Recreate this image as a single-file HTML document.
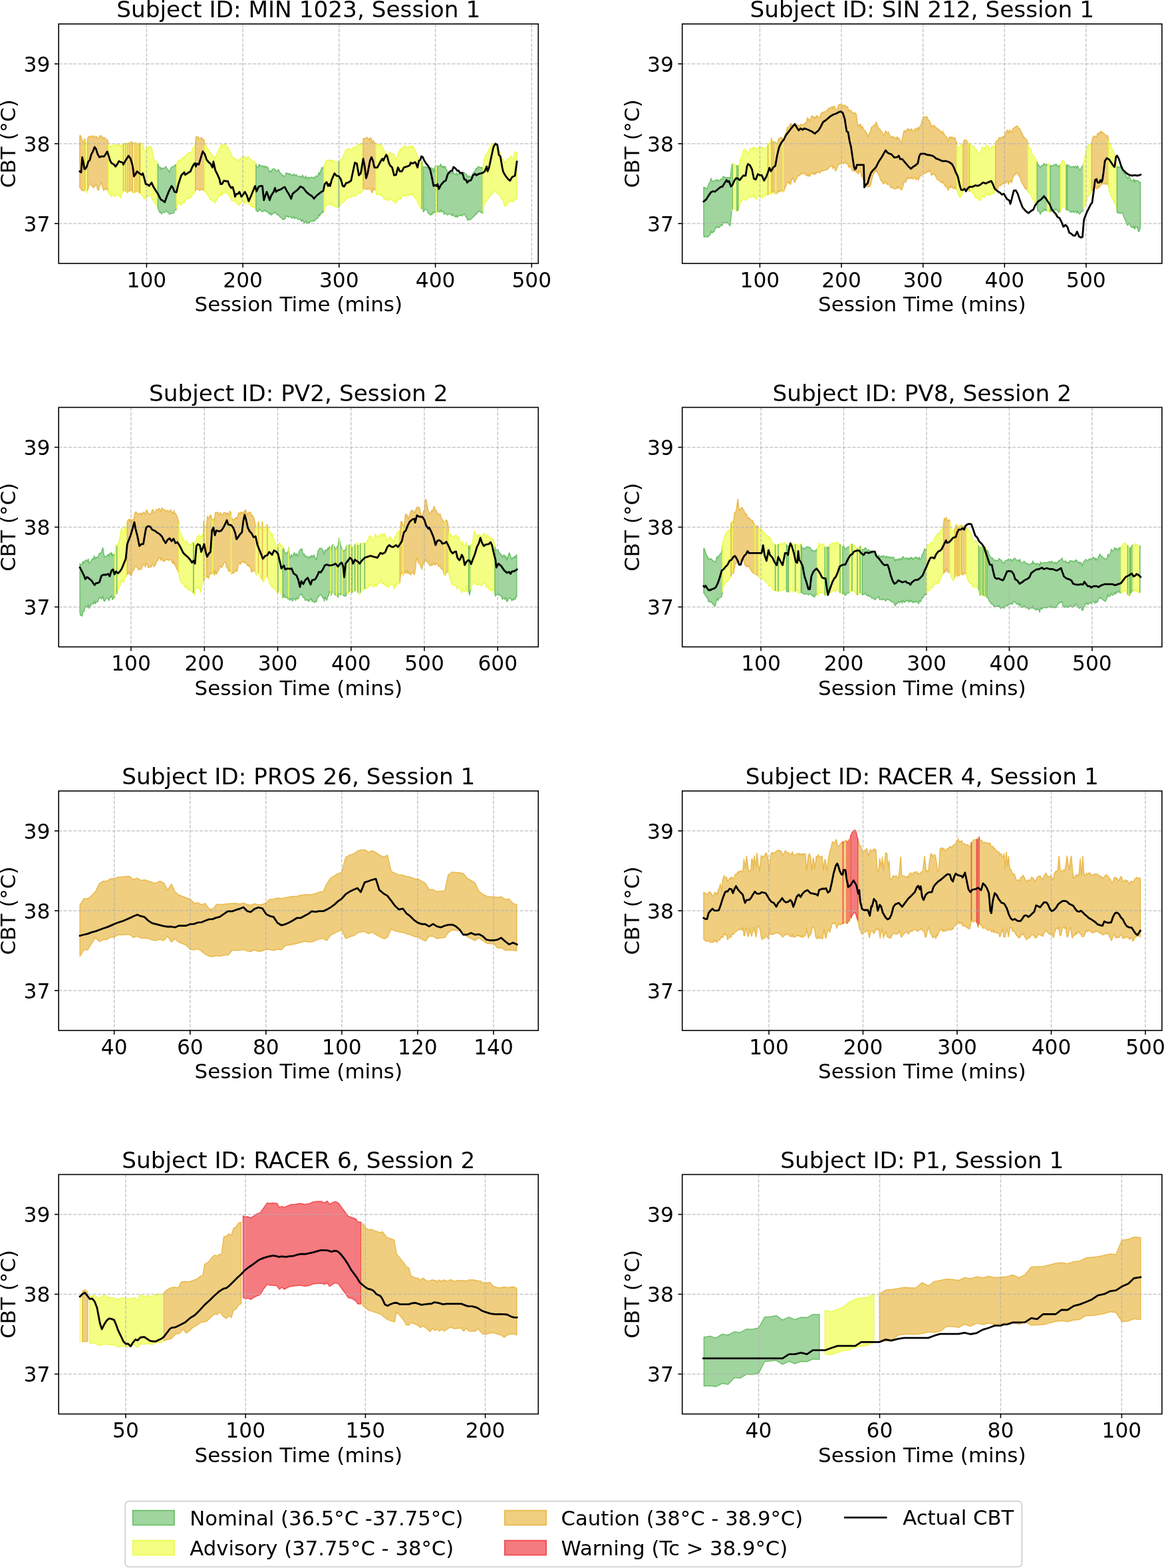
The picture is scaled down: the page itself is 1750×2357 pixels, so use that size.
<!DOCTYPE html><html><head><meta charset="utf-8"><style>html,body{margin:0;padding:0;background:#fff}svg{display:block}text{font-family:'DejaVu Sans', 'Liberation Sans', sans-serif;fill:#000}</style></head><body><svg width="1750" height="2357" viewBox="0 0 1750 2357"><rect width="1750" height="2357" fill="#fff"/><g><defs><clipPath id="cp0"><rect x="88.2" y="36.0" width="721.1" height="360.0"/></clipPath></defs><g clip-path="url(#cp0)"><path d="M119.9,204.9 L120.6,203.2 L121.9,206.5 L122.4,206.4 L123.2,210.8 L124.5,214.3 L125.8,212.5 L126.4,209.3 L126.8,209.7 L126.8,286.4 L125.8,287.1 L124.5,285.8 L123.2,286.5 L121.9,284.5 L120.6,281 L119.9,282.5Z" fill="#efce7f" stroke="#eab94c" stroke-width="1.5" stroke-linejoin="round"/><path d="M126.8,209.7 L127.1,209.9 L127.6,209.3 L128.4,216.9 L129.7,215.3 L130.5,216.6 L131,212.9 L131.7,209.6 L131.7,285.9 L131,287.9 L130.5,289.9 L129.7,287.4 L128.4,287 L127.6,285.5 L127.1,286.2 L126.8,286.4Z" fill="#f3fe83" stroke="#edfa52" stroke-width="1.5" stroke-linejoin="round"/><path d="M131.7,209.6 L132.3,206.6 L133.6,205.3 L134.9,206 L136.2,204.4 L137.5,205.7 L138.8,205.1 L139.3,204.2 L140.1,204.4 L141.4,204.4 L142.7,206.8 L144,205.5 L145.3,205.2 L146.6,209 L147.9,208.3 L149.2,205.5 L150.5,204.1 L151.8,204.7 L152.5,204.2 L153.1,205.7 L154.4,206.4 L155.7,208.1 L157,206.9 L158.3,208.3 L159.6,209.4 L160.9,209.5 L162.2,212.6 L162.7,214.4 L163,216.7 L163,289 L162.2,285.9 L160.9,283 L159.6,285 L158.3,284.8 L157,284.3 L155.7,286.4 L154.4,281.9 L153.1,277.2 L152.5,273.8 L151.8,275.7 L150.5,277.7 L149.2,281.6 L147.9,286.3 L146.6,284 L145.3,278.3 L144,276.7 L142.7,279.9 L141.4,280.6 L140.7,282.5 L140.1,281.1 L139.3,279.6 L138.8,280 L137.5,279.1 L136.2,276.3 L134.9,276.5 L133.6,279.3 L132.3,284 L131.7,285.9Z" fill="#efce7f" stroke="#eab94c" stroke-width="1.5" stroke-linejoin="round"/><path d="M163,216.7 L163.5,220.5 L164.8,220.6 L166.1,219.3 L167.4,221.4 L168.7,218.1 L170,218.7 L171.3,218.2 L172.6,218.4 L173.9,217.6 L175.2,217.7 L175.9,217.4 L176.5,216.9 L177.8,219.9 L179.1,216.9 L180.4,218.4 L181.7,221 L183,217.4 L184.3,220.2 L185.6,216.3 L186.9,216.6 L188.2,215.6 L189.5,215.3 L190.8,216 L192.1,216.1 L193.4,214.1 L194.7,216.4 L196,214.4 L196.4,214.4 L197.3,213.5 L198.6,213.7 L199.9,215 L201.2,215.5 L202.5,215.5 L203.8,213.7 L205.1,214.6 L206.4,216.8 L207.7,217.1 L209,217.6 L210.3,214.8 L211.1,216.6 L211.6,214.8 L212.9,218.3 L214.2,218.3 L215.5,218.8 L216.8,226 L218.1,226.8 L219.4,227.2 L220.7,222.3 L222,223.4 L223.3,220.3 L224.6,221.3 L225.9,220.7 L227.2,219.9 L228.5,224.8 L229.8,231.2 L231.1,238 L231.6,240.1 L232.4,240.9 L233.7,241.9 L235,242.3 L236.3,242.7 L236.7,244.5 L237.4,246.5 L237.4,312.5 L236.3,309.9 L235,308.1 L233.7,306.6 L232.4,304.6 L231.6,303.1 L231.1,302.7 L229.8,300.9 L228.5,298.8 L227.2,293.5 L225.9,293.9 L224.6,294.5 L223.3,293.3 L222,296.3 L220.7,295 L219.8,297.2 L219.4,298.1 L218.1,296.5 L216.8,299.5 L215.5,294.9 L214.2,294.1 L212.9,293.6 L211.6,289.7 L211.1,291.3 L210.3,288.5 L209,289.5 L208.1,286.9 L207.7,288 L206.4,288.5 L205.1,287.2 L203.8,287.1 L202.5,289.8 L201.2,290.7 L199.9,289.6 L198.6,287 L197.3,285.4 L196.4,285.5 L196,285.6 L194.7,288 L193.4,286.3 L192.1,288.8 L190.8,289.1 L189.5,287.7 L188.2,287.1 L186.9,287.1 L185.6,285.8 L184.3,290.1 L183,290.9 L181.7,297.9 L180.4,294.6 L179.1,292.4 L177.8,294.8 L176.5,291.2 L175.9,291.3 L175.2,292.6 L173.9,294 L172.6,295.7 L171.3,294.4 L170,293.7 L168.7,292.8 L167.4,295.8 L166.1,292.7 L164.8,292.8 L164.2,291.3 L163.5,290.8 L163,289Z" fill="#f3fe83" stroke="#edfa52" stroke-width="1.5" stroke-linejoin="round"/><path d="M194.2,215.5 L194.7,216.4 L196,214.4 L196.4,214.4 L197.3,213.5 L198.6,213.7 L199.3,214.5 L199.3,288.5 L198.6,287 L197.3,285.4 L196.4,285.5 L196,285.6 L194.7,288 L194.2,287.4Z" fill="#efce7f" stroke="#eab94c" stroke-width="1.5" stroke-linejoin="round"/><path d="M208.9,217.5 L209,217.6 L210.3,214.8 L210.6,215.6 L210.6,289.7 L210.3,288.5 L209,289.5 L208.9,289.1Z" fill="#efce7f" stroke="#eab94c" stroke-width="1.5" stroke-linejoin="round"/><path d="M237.4,246.5 L237.6,246.9 L238.9,250.4 L240.2,253.2 L241.5,251.4 L242.8,255.1 L243.3,253.2 L244.1,253.2 L245.4,252.8 L246.7,252.8 L248,252.4 L249.3,250.1 L250.6,252.5 L251.9,255.1 L253.2,255.7 L254.5,259.3 L255.8,255.9 L257.1,252.5 L257.9,251 L258.4,251.1 L259.7,250.6 L261,250.6 L262.3,248.9 L263.1,249.6 L263.6,247.8 L264.9,249.1 L265.5,246.8 L265.5,313.4 L264.9,315.3 L263.6,315.2 L262.3,317.3 L261,320.1 L259.7,320.4 L258.4,321 L257.1,320.8 L255.8,321.5 L255,322.1 L254.5,321.9 L253.2,318.5 L251.9,319.2 L250.6,317.8 L249.3,316.6 L248,319.1 L246.7,319.5 L245.4,319.5 L244.1,319.8 L243.3,319.9 L242.8,321.7 L241.5,317.9 L240.2,319.4 L238.9,316.5 L237.6,312.9 L237.4,312.5Z" fill="#a0d59e" stroke="#6cbf68" stroke-width="1.5" stroke-linejoin="round"/><path d="M265.5,246.8 L266.2,244.6 L266.7,243 L267.5,241.2 L268.8,241.5 L270.1,239.8 L271.4,242.6 L272.7,240.8 L274,237 L275.3,238.5 L276.6,235.7 L277.9,238.7 L279.2,233.2 L280.5,232.3 L281.8,232 L283.1,229.4 L284.4,231.2 L285.7,229.1 L287,229.2 L288.3,228.1 L288.7,226.9 L289.6,223.4 L290.9,221.4 L292.2,222 L293.5,216.8 L293.8,213.9 L293.8,286.5 L293.5,287.5 L292.2,291.1 L290.9,289.7 L289.6,291 L288.3,295.3 L287,297 L285.7,296.7 L284.4,298.8 L283.1,296.8 L281.8,299.1 L280.5,298.9 L279.2,299.4 L278.4,301.6 L277.9,304.8 L276.6,302.2 L275.3,305.6 L274,305.1 L272.7,307.9 L271.4,308.7 L270.1,304.9 L268.8,305.7 L268.2,306 L267.5,306.6 L266.2,311.5 L265.5,313.4Z" fill="#f3fe83" stroke="#edfa52" stroke-width="1.5" stroke-linejoin="round"/><path d="M293.8,213.9 L294.8,205.6 L296.1,206.9 L297.4,205.3 L298.7,207.2 L300,208.3 L301.3,208.4 L302.6,206.6 L303.3,208.6 L303.9,208.1 L305.2,210.6 L306.5,209.9 L307,210.8 L307.7,218.6 L307.7,288.3 L307,284.7 L306.5,284.3 L305.2,285.9 L303.9,284.3 L302.6,283.5 L301.3,285.9 L300.4,285.5 L300,286.3 L298.7,285.4 L297.4,283.3 L296.1,284.8 L294.8,283.4 L293.8,286.5Z" fill="#efce7f" stroke="#eab94c" stroke-width="1.5" stroke-linejoin="round"/><path d="M307.7,218.6 L307.8,219.2 L309.1,217.9 L310.4,219.9 L311.7,223.5 L313,224.7 L313.6,225.4 L314.3,225.9 L315.6,230.5 L316.9,229.3 L318.2,231.7 L319.5,233.1 L320.8,235 L322.1,236.6 L323.4,238.6 L324.7,233.1 L326,232.7 L326.8,229.8 L327.3,228.5 L328.6,226.1 L329.9,222.8 L331.2,223.1 L332.5,217.7 L333.8,222.4 L334.4,219.6 L335.1,217.4 L336.4,218.4 L337.7,218.5 L339,214.5 L340.3,219 L341.6,221.6 L342.9,221.4 L344.2,225.7 L345.5,226.6 L346.1,228.3 L346.8,229.5 L348.1,234.7 L349.4,235.8 L350.7,236.6 L352,238.1 L353.3,237.6 L354.6,239.3 L355.9,240.1 L357.2,241.3 L358.5,239.9 L359.3,241.5 L359.8,242.5 L361.1,239.2 L362.4,237.6 L363.7,236.4 L365,236.7 L366.3,233.8 L367.6,237.5 L368.9,236.6 L369.6,237.1 L370.2,238.1 L371.5,238.2 L372.8,234.7 L374.1,237.3 L375.4,237.6 L376.7,240.4 L378,239.5 L379.3,243.2 L380.6,243.1 L381.3,243 L381.9,242.2 L383.2,244.6 L384.5,243.9 L384.9,247.2 L384.9,314.5 L384.5,312 L383.2,312.5 L381.9,309.9 L380.6,310.9 L379.8,309.6 L379.3,311.3 L378,308 L376.7,309.3 L375.4,307.2 L374.1,305.6 L372.8,301.6 L371.5,304.8 L370.2,304.7 L369.6,303.8 L368.9,304.1 L367.6,306.6 L366.3,303.1 L365,302.7 L363.7,302.5 L362.4,303.9 L361.1,305.7 L359.8,309.1 L359.3,308.2 L358.5,306.3 L357.2,307.2 L355.9,305.5 L354.6,304.3 L353.3,302.3 L352,302.6 L350.7,301.7 L349.4,301.6 L348.1,301.6 L346.8,297.7 L346.1,297.2 L345.5,295.4 L344.2,294.6 L342.9,290.4 L341.6,291.3 L340.3,289.3 L339,285.5 L337.7,289.7 L336.4,289.8 L335.1,289 L334.4,291.3 L333.8,294.1 L332.5,289.1 L331.2,294.4 L329.9,293.8 L328.6,296.2 L327.3,297.6 L326,301 L324.7,300.6 L323.4,305.2 L322.1,302.8 L320.8,302.5 L319.5,301.9 L318.2,300.9 L316.9,298.8 L315.6,300.4 L315.1,297.2 L314.3,295.6 L313,294.3 L311.7,293 L310.4,289.4 L309.1,287.5 L307.8,288.5 L307.7,288.3Z" fill="#f3fe83" stroke="#edfa52" stroke-width="1.5" stroke-linejoin="round"/><path d="M384.9,247.2 L385.4,250.3 L385.8,250.3 L387.1,251.3 L388.4,251 L389.7,246.9 L391,249.3 L392.3,248.8 L393.6,250.1 L394.5,249.6 L394.9,249.3 L396.2,251 L397.5,249.4 L398.8,252.2 L400.1,250.2 L401.4,251 L402.7,251.6 L404,255.5 L405.3,258.2 L406.2,257.6 L406.6,256.4 L407.9,258.6 L409.2,255.1 L410.5,253.7 L411.8,254.1 L413.1,254.1 L414.4,256.3 L415,257.6 L415.7,257 L417,257.3 L418.3,254.8 L419.6,256.7 L420.9,259.6 L422.2,261.2 L423.5,261.7 L424.8,263.8 L426.1,263.8 L426.7,265 L427.4,265.8 L428.7,264.6 L430,259.8 L431.3,261.1 L432.6,260.4 L433.9,262.5 L435.2,260.8 L436.5,261.7 L437.8,263.9 L438.4,262.8 L439.1,264.2 L440.4,263.6 L441.7,261.2 L443,264.6 L444.3,262.6 L445.6,262.8 L446.9,264.3 L448.2,266 L449.5,265 L450.1,265 L450.8,264.8 L452.1,265.6 L453.4,267.1 L454.7,263.2 L456,265.1 L457.3,268.3 L458.6,266.7 L459.9,264.5 L461.2,268.7 L462.5,267.1 L463.3,267.9 L463.8,266.3 L465.1,268.4 L466.4,267 L467.7,266.7 L469,266.3 L470.3,267.7 L471.6,266.6 L472.1,266.4 L472.9,267.9 L474.2,265.8 L475.5,264.2 L476.8,265.2 L478.1,264.2 L479.4,259.3 L480.7,262.4 L482,256.9 L483.3,253.9 L483.8,251.8 L484.6,252.4 L485.9,253.4 L486.7,250.3 L487,250.8 L487,316.4 L486.7,315.5 L485.9,319.4 L485.3,317.7 L484.6,319.5 L483.3,320.6 L482,321.2 L480.7,324.7 L479.4,322 L478.1,327.3 L476.8,328.7 L475.5,328.3 L475,329.4 L474.2,330.3 L472.9,332.3 L471.6,331.2 L470.3,332.8 L469,331.8 L467.7,332.6 L466.4,333.4 L465.1,335.2 L463.8,333.5 L463.3,335.3 L462.5,334.5 L461.2,336.1 L459.9,331.9 L458.6,334.1 L457.3,335.4 L456,332 L454.7,329.9 L453.4,333.1 L452.1,330.9 L450.8,329.3 L449.5,329.2 L448.2,330.1 L446.9,328.4 L445.6,327.2 L444.3,327.2 L443,328.9 L441.7,325.3 L440.4,327.4 L439.9,326.5 L439.1,327.7 L437.8,327.4 L436.5,325.5 L435.2,324.8 L433.9,326.8 L432.6,324.8 L431.3,325.5 L430,324.2 L428.7,328.8 L427.4,330 L426.1,328.8 L425.2,330.2 L424.8,329.9 L423.5,327.5 L422.2,326.9 L420.9,326.3 L419.6,323.6 L418.3,322.1 L417,323.4 L415.7,321.2 L414.4,319.7 L413.5,319.9 L413.1,318.3 L411.8,320.1 L410.5,321.3 L409.2,321.8 L407.9,323.5 L406.6,319.6 L405.3,321.9 L404,320.9 L403.2,319.2 L402.7,318.7 L401.4,318.7 L400.1,316.6 L398.8,317.5 L397.5,315.5 L396.2,318 L394.9,317.2 L394.5,317.7 L393.6,317.9 L392.3,316.2 L391,316.3 L389.7,313.5 L388.4,317.7 L387.1,318 L385.8,317 L385.4,317 L384.9,314.5Z" fill="#a0d59e" stroke="#6cbf68" stroke-width="1.5" stroke-linejoin="round"/><path d="M487,250.8 L487.2,251 L488.5,245.8 L489.8,242.4 L491.1,241.1 L492.4,240.8 L493.7,241.5 L495,240.8 L496.3,240.2 L497.6,243.3 L498.5,241.5 L498.9,240.4 L500.2,243 L501.5,241.1 L502.8,243.2 L504.1,242.3 L505.4,244 L506.7,243.1 L507.3,244.5 L508,242.2 L509.3,244.2 L510.6,241.2 L511.9,239.6 L513.2,240.4 L514.5,238.4 L515.8,236.7 L517.1,231.9 L518.4,230.3 L519,226.9 L519.7,226 L521,226.1 L522.3,223.4 L523.6,224.6 L524.9,223.9 L526.2,224.1 L527.5,225 L528.8,225.3 L529.2,223.2 L530.1,222.3 L531.4,222 L532.7,222.9 L534,220.1 L535.3,220.7 L536.6,220.1 L537.9,218.6 L539.2,216.4 L540.5,217.8 L540.9,217.4 L541.8,218.7 L543.1,216.4 L544.4,215.4 L545.7,214.6 L546.1,211.4 L546.1,284.1 L545.7,286.8 L544.4,287.4 L543.1,288.6 L541.8,291 L540.9,289.9 L540.5,290.4 L539.2,289.2 L537.9,291.5 L536.6,293.1 L535.3,293.9 L534,292.9 L532.7,295.3 L531.4,293.9 L530.1,293.7 L529.2,294.3 L528.8,296.5 L527.5,296.7 L526.2,296.2 L524.9,296.5 L523.6,297.8 L522.3,296.6 L521,299.4 L519.7,299.2 L519,300.1 L518.4,302.5 L517.1,302 L515.8,304.6 L514.5,304.4 L513.2,307 L511.9,306.9 L510.6,308.6 L509.3,311.8 L508.7,312.6 L508,310 L506.7,310.7 L505.4,311.5 L504.1,309.8 L502.8,310.5 L501.5,307.9 L500.2,309.3 L498.9,306.1 L497.6,308.3 L497,306 L496.3,305.2 L495,306.3 L493.7,307.7 L492.4,307.5 L491.1,308 L489.8,309.6 L488.5,313.2 L487.2,316.8 L487,316.4Z" fill="#f3fe83" stroke="#edfa52" stroke-width="1.5" stroke-linejoin="round"/><path d="M546.1,211.4 L546.5,207.8 L547,208.4 L548.3,208.1 L549.6,207.9 L550.9,207.3 L552.2,206.2 L552.7,207.1 L553.5,208.8 L554.8,208.7 L555.6,211.5 L556.1,208.5 L557.4,208.1 L557.8,207.1 L558.7,211.3 L560,215.8 L561.3,211 L562.6,215.1 L563.9,214.8 L565.1,215.9 L565.1,285.8 L563.9,284.9 L562.6,285.7 L561.3,282.5 L560,289.9 L558.7,288 L557.4,285.3 L556.1,282.6 L554.8,282.6 L554.1,284 L553.5,284.7 L552.2,283.5 L550.9,284.4 L549.6,284.6 L548.3,283.3 L547,282.1 L546.5,281.1 L546.1,284.1Z" fill="#efce7f" stroke="#eab94c" stroke-width="1.5" stroke-linejoin="round"/><path d="M565.1,215.9 L565.2,215.9 L565.8,218.1 L566.5,219.4 L567.8,217.4 L569.1,217 L570.4,217 L571.7,217.7 L573,216.1 L574.3,220.1 L575.6,221.8 L576.4,224.7 L576.9,225.4 L578.2,227.8 L579.5,228.9 L580.8,232.3 L582.1,231.4 L583.4,234.4 L584.7,230 L586,228.4 L587.3,229.1 L588.1,231.3 L588.6,231.1 L589.9,232 L591.2,230.7 L592.5,233.3 L593.8,237.4 L595.1,240.6 L596.4,237.2 L597.7,235.1 L598.4,232.7 L599,228.6 L600.3,228.5 L601.6,223.8 L602.9,226.9 L604.2,222.1 L605.5,224 L606.8,220.6 L608.1,220 L608.6,218.8 L609.4,218.6 L610.7,222.8 L612,221.2 L613.3,220.5 L614.6,222.5 L615.9,220.5 L617.2,219.9 L618.5,222 L619.8,219 L621.1,221.3 L621.8,221 L622.4,222 L623.7,226.2 L625,227.1 L626.3,232.4 L627.6,235.2 L628.9,237.4 L630.2,239 L630.6,240.1 L631.5,240.3 L632.8,241.3 L633.5,241.5 L634.1,243.4 L635.4,244.6 L636.5,250.3 L636.5,317.6 L635.4,313.4 L634.1,313.8 L633.5,312.6 L632.8,312.1 L631.5,310.9 L630.6,310.4 L630.2,308.9 L628.9,306 L627.6,302.7 L626.3,301.2 L625,297.2 L623.7,297.6 L622.4,294.6 L621.1,293.7 L620.3,292.8 L619.8,290.5 L618.5,293.5 L617.2,291.5 L615.9,292.2 L614.6,294 L613.3,291.8 L612,293 L611.6,292.8 L610.7,295.7 L609.4,292.8 L608.1,294.2 L606.8,293.1 L605.5,295.5 L604.2,294.2 L602.9,299.5 L601.6,296.9 L600.3,300.2 L599,298.4 L597.7,302.9 L596.4,303.1 L595.1,305.6 L593.8,304.4 L592.5,302.2 L591.2,301.5 L589.9,302.2 L588.6,300.3 L587.3,298.9 L586.6,299.4 L586,300.3 L584.7,299.4 L583.4,301.8 L582.1,299.2 L580.8,300.4 L579.5,298.6 L578.2,299.1 L576.9,297.6 L575.6,295 L574.3,294.4 L573,291.4 L571.7,293.8 L570.4,292.4 L569.1,291.8 L567.8,291.5 L566.5,293 L565.8,291.3 L565.2,285.9 L565.1,285.8Z" fill="#f3fe83" stroke="#edfa52" stroke-width="1.5" stroke-linejoin="round"/><path d="M636.5,250.3 L636.7,251.5 L638,251.5 L639.3,250.4 L640.6,251.5 L641.9,251.3 L643.2,253 L643.8,253.2 L644.5,253.4 L645.8,253 L647.1,254.6 L648.4,252 L649.7,252.8 L651,253.6 L651.8,259.1 L652.3,257.8 L653.6,252.6 L654,251.8 L654.9,248.3 L655.5,249.5 L655.5,319.3 L654.9,318.4 L654,319.2 L653.6,318.7 L652.3,320.2 L651,318.1 L649.7,322.5 L648.4,321.4 L647.1,323.6 L645.8,321.4 L644.5,321.1 L643.8,320.6 L643.2,319.5 L641.9,315.8 L640.6,314.7 L639.3,314.4 L638,316.4 L636.7,318.5 L636.5,317.6Z" fill="#a0d59e" stroke="#6cbf68" stroke-width="1.5" stroke-linejoin="round"/><path d="M655.5,249.5 L656.2,250.8 L657.5,249.7 L657.7,249.8 L657.7,317.7 L657.5,317.6 L656.2,320.2 L655.5,319.3Z" fill="#f3fe83" stroke="#edfa52" stroke-width="1.5" stroke-linejoin="round"/><path d="M657.7,249.8 L658.8,250 L660.1,250 L661.4,249.7 L662.1,247.4 L662.7,246.9 L664,251 L665.3,250.1 L665.8,251.8 L666.6,249.9 L667.9,252.4 L668.7,250.3 L669.2,250.2 L670.5,253.3 L671.8,256.2 L673.1,258.9 L674.4,258.8 L675.7,258.9 L677,258.9 L678.3,259.5 L679.6,261 L680.4,259.8 L680.9,257.6 L682.2,260.2 L683.5,261.9 L684.8,262.4 L686.1,259.9 L687.4,263.3 L688.7,262.1 L690,260.9 L691.3,260.8 L692.1,262 L692.6,261 L693.9,260.8 L695.2,261.7 L696.5,258.7 L697.8,259.3 L699.1,260.6 L700.4,262.8 L701.7,262.3 L702.4,265.7 L703,266.8 L704.3,264.3 L705.6,264.6 L706.9,265.7 L708.2,266.5 L709.5,263.9 L710.8,260.6 L712.1,259.5 L712.6,259.1 L713.4,257.5 L714.7,256.1 L715.6,253.2 L716,254.2 L717.3,253.8 L718.6,250.6 L719.9,251 L721.2,251.7 L722.5,251.5 L723.8,253.2 L724.3,251.8 L725.1,252.2 L725.8,253.2 L726.1,251.7 L726.1,319.1 L725.8,320.6 L725.1,319.2 L724.3,318.4 L723.8,319.9 L722.5,318.2 L721.2,318.3 L719.9,317.7 L718.6,317.4 L717.3,320.9 L716,321.5 L715.6,320.6 L714.7,323.2 L713.4,324.1 L712.1,325.9 L710.8,326.5 L709.5,328.1 L708.2,329.1 L706.9,330.1 L705.6,330.2 L704.3,329.5 L703,330.9 L702.4,329.4 L701.7,325.9 L700.4,326.1 L699.1,323.3 L697.8,321.3 L696.5,322.1 L695.2,324.8 L693.9,323.5 L692.6,323.4 L692.1,324.3 L691.3,323.2 L690,323.7 L688.7,325.2 L687.4,326.7 L686.1,323.6 L684.8,326.1 L683.5,325.6 L682.2,323.9 L680.9,321.4 L680.4,323.6 L679.6,324.5 L678.3,322.7 L677,321.8 L675.7,321.5 L674.4,321.3 L673.1,323.2 L671.8,322.3 L670.5,321.2 L669.2,320 L667.9,322.3 L667.2,320.6 L666.6,318.6 L665.3,317.6 L664,318.8 L662.7,315.1 L661.4,318.5 L660.1,318.4 L658.8,318 L657.7,317.7Z" fill="#a0d59e" stroke="#6cbf68" stroke-width="1.5" stroke-linejoin="round"/><path d="M726.1,251.7 L726.4,250.3 L727.3,241.5 L727.7,240.1 L729,236.4 L730.3,231.8 L731.6,231 L732.9,229.6 L734.2,227 L734.6,225.4 L735.5,223.6 L736.8,222.7 L738.1,218.8 L739.4,219.4 L740.7,215.5 L742,216.9 L743.3,216 L744.6,217.4 L745.9,217.5 L747.2,219.2 L747.8,219.6 L748.5,221.9 L749.8,224.2 L751.1,227.7 L752.4,230.1 L753.7,235 L755,238.6 L756.3,239.1 L757.6,244 L758.9,243.3 L760.2,244 L761,243 L761.5,242.6 L762.8,238.7 L764.1,239.5 L765.4,237.5 L766.7,237.6 L768,233.9 L769.3,237.6 L770.6,238 L771.2,237.1 L771.9,237.7 L773.2,232.8 L774.5,227.8 L775.8,229.3 L777.1,228.9 L777.1,228.9 L777.1,298.5 L777.1,298.5 L775.8,299.5 L774.5,298.4 L773.2,301.8 L772.7,300.9 L771.9,303.7 L770.6,302.6 L769.3,302.9 L768,299.8 L766.7,303.5 L765.4,303.5 L764.1,305.4 L762.8,304.4 L761.5,308.1 L760.2,310.7 L759.5,310.4 L758.9,309.6 L757.6,306.8 L756.3,299.5 L755,300.5 L753.7,298.4 L752.4,295 L751.1,293.8 L749.8,292.2 L748.5,292.2 L747.2,290.4 L745.9,288.4 L744.6,288.3 L743.3,287.9 L742,289.8 L740.7,288.5 L739.4,292.6 L738.1,291.6 L736.8,295 L735.5,295.4 L734.2,298.3 L732.9,300.7 L731.6,302.3 L730.3,301.9 L729,305.4 L727.7,307.9 L727.3,308.9 L726.4,317.7 L726.1,319.1Z" fill="#f3fe83" stroke="#edfa52" stroke-width="1.5" stroke-linejoin="round"/><line x1="127.6" y1="208.3" x2="127.6" y2="286.5" stroke="#eab94c" stroke-width="1.6"/><line x1="185.4" y1="215.8" x2="185.4" y2="287.4" stroke="#eab94c" stroke-width="1.6"/><line x1="188.6" y1="214.5" x2="188.6" y2="288.3" stroke="#eab94c" stroke-width="1.6"/><line x1="191.6" y1="215.1" x2="191.6" y2="289.9" stroke="#eab94c" stroke-width="1.6"/><line x1="203.0" y1="213.8" x2="203.0" y2="289.7" stroke="#eab94c" stroke-width="1.6"/><line x1="205.9" y1="215.0" x2="205.9" y2="289.1" stroke="#eab94c" stroke-width="1.6"/><line x1="509.4" y1="242.8" x2="509.4" y2="312.4" stroke="#6cbf68" stroke-width="1.6"/><line x1="634.3" y1="242.6" x2="634.3" y2="314.7" stroke="#6cbf68" stroke-width="1.6"/><line x1="88.2" y1="336.0" x2="809.3" y2="336.0" stroke="#b0b0b0" stroke-opacity="0.7" stroke-width="1.5" stroke-dasharray="5.2 2.1"/><line x1="88.2" y1="216.0" x2="809.3" y2="216.0" stroke="#b0b0b0" stroke-opacity="0.7" stroke-width="1.5" stroke-dasharray="5.2 2.1"/><line x1="88.2" y1="96.0" x2="809.3" y2="96.0" stroke="#b0b0b0" stroke-opacity="0.7" stroke-width="1.5" stroke-dasharray="5.2 2.1"/><line x1="220.4" y1="36.0" x2="220.4" y2="396.0" stroke="#b0b0b0" stroke-opacity="0.7" stroke-width="1.5" stroke-dasharray="5.2 2.1"/><line x1="365.1" y1="36.0" x2="365.1" y2="396.0" stroke="#b0b0b0" stroke-opacity="0.7" stroke-width="1.5" stroke-dasharray="5.2 2.1"/><line x1="509.8" y1="36.0" x2="509.8" y2="396.0" stroke="#b0b0b0" stroke-opacity="0.7" stroke-width="1.5" stroke-dasharray="5.2 2.1"/><line x1="654.6" y1="36.0" x2="654.6" y2="396.0" stroke="#b0b0b0" stroke-opacity="0.7" stroke-width="1.5" stroke-dasharray="5.2 2.1"/><line x1="799.3" y1="36.0" x2="799.3" y2="396.0" stroke="#b0b0b0" stroke-opacity="0.7" stroke-width="1.5" stroke-dasharray="5.2 2.1"/><path d="M119.9,257.6 L122,259.1 L123.6,236.4 L125.4,244.5 L126.8,254 L128.3,254 L130.5,250.3 L132.7,243 L134.9,240.8 L137.1,232.7 L140,226.9 L142.2,221 L144.4,223.9 L146.6,231.3 L149.5,236.4 L152.5,234.9 L156.1,235.4 L158.3,232.7 L161.2,227.6 L163.4,234.2 L165.6,241.5 L167.8,245.2 L171.5,247.4 L173.7,250.3 L175.9,247.4 L178.8,242.3 L181.8,243.7 L184.7,244.5 L185.4,247.4 L189.1,240.8 L193.2,234.2 L196.4,238.6 L199.3,248.8 L201.5,265 L203.7,262 L205.9,257.6 L209.6,260.6 L213.2,262.8 L214.7,260.6 L216.9,267.9 L219.1,276.7 L222,277.4 L224.2,279.6 L227.9,274.5 L230.8,281.1 L234.5,286.9 L237.4,291.3 L241.8,300.1 L244.7,301.6 L247.7,303.8 L250.6,295.7 L253.5,288.4 L257.9,279.6 L260.1,282.5 L262.3,288.4 L265.3,289.1 L268.2,276.7 L272.6,263.5 L277,259.1 L278.4,262.8 L282.8,259.8 L286.5,257.6 L288.7,251.8 L291.6,246.7 L293.1,245.2 L294.5,250.3 L296,245.9 L298.9,247.4 L301.9,237.1 L304.8,227.6 L307.7,231.3 L310.7,240.1 L314.3,244.5 L316.5,245.9 L319.5,251.8 L320.9,243 L323.8,256.2 L326.8,262 L330,269.4 L331.5,276.7 L333.7,276.7 L336.6,271.6 L340.3,272.3 L342.5,272.3 L344.6,278.1 L347.6,282.5 L349.8,281.1 L352,288.4 L353.4,295.7 L355.6,291.3 L357.8,291.3 L360,288.4 L363,295.7 L365.2,292.8 L368.1,288.4 L371,293.5 L373.9,302.3 L376.9,295.7 L379.8,288.4 L383.5,279.6 L385.7,287.7 L388.6,281.1 L391.5,279.6 L394.5,279.6 L396.7,300.9 L398.8,294.3 L401,288.4 L403.2,294.3 L405.4,300.9 L407.6,294.3 L411.3,288.4 L413.5,282.5 L415,288.4 L417.9,286.2 L422.3,284.7 L425.2,282.5 L428.1,281.1 L431.1,286.9 L434,291.3 L437.7,298.7 L439.9,291.3 L444.3,287.7 L447.2,285.5 L451.6,280.3 L456,282.5 L460.4,288.4 L464.8,292.1 L469.2,295 L472.1,298.7 L475,295 L479.4,291.3 L483.1,288.4 L486,286.9 L488.2,276.7 L491.1,273.8 L493.3,279.6 L494.8,276.7 L496.3,279.6 L498.5,270.8 L502.9,260.6 L505.8,264.2 L509.4,265 L512.4,269.4 L515.3,279.6 L517.5,280.3 L520.4,275.2 L523.4,274.5 L527.8,271.6 L530.7,257.6 L533.6,244.5 L536.5,245.9 L539.5,263.5 L542.4,260.6 L546.1,238.6 L548.3,250.3 L550.5,267.9 L552.7,260.6 L556.3,241.5 L558.5,236.4 L560.7,241.5 L562.9,251.8 L567.3,251.8 L572,243 L574.9,238.6 L576.4,241.5 L577.9,237.9 L580.8,232.7 L582.3,235.7 L584.5,244.5 L586.6,248.8 L589.6,251.8 L592.5,263.5 L595.4,262.8 L598.4,251.8 L601.3,257.6 L604.2,257.6 L607.2,251.8 L611.6,250.3 L615.9,248.8 L617.4,244.5 L620.3,245.9 L624,243.7 L625.5,245.9 L627.7,251.8 L629.9,241.5 L632.1,240.1 L633.5,234.9 L635.7,236.4 L637.9,241.5 L640.8,245.9 L643.8,249.6 L646.7,254.7 L649.6,267.9 L651.8,279.6 L654,278.1 L656.2,279.6 L657.7,276.7 L659.9,284 L662.8,278.1 L667.2,273 L670.1,271.6 L673.1,262 L677.5,256.9 L679.7,256.9 L681.9,251 L684.8,253.2 L687.7,256.9 L689.2,256.2 L691.4,259.8 L695.1,259.8 L698,269.4 L700.9,270.8 L702.4,274.5 L705.3,271.6 L708.2,270.8 L711.2,263.5 L714.1,261.3 L716.3,263.5 L720,261.3 L722.9,260.6 L725.8,259.8 L728.7,257.6 L731.7,250.3 L733.1,257.6 L735.3,251.8 L739,234.2 L741.9,221 L744.9,215.9 L747.8,218.1 L750,232.7 L752.2,234.9 L755.1,251.8 L756.6,258.4 L759.5,263.5 L763.9,269.4 L766.8,271.6 L769.8,266.4 L772,265 L774.2,264.2 L777.1,243" fill="none" stroke="#000" stroke-width="2.8" stroke-linejoin="round" stroke-linecap="square"/></g><rect x="88.2" y="36.0" width="721.1" height="360.0" fill="none" stroke="#000" stroke-width="1.6" stroke-linejoin="miter"/><line x1="82.0" y1="336.0" x2="88.2" y2="336.0" stroke="#000" stroke-width="1.6"/><text x="75.4" y="347.6" font-size="31.3" text-anchor="end">37</text><line x1="82.0" y1="216.0" x2="88.2" y2="216.0" stroke="#000" stroke-width="1.6"/><text x="75.4" y="227.6" font-size="31.3" text-anchor="end">38</text><line x1="82.0" y1="96.0" x2="88.2" y2="96.0" stroke="#000" stroke-width="1.6"/><text x="75.4" y="107.6" font-size="31.3" text-anchor="end">39</text><line x1="220.4" y1="396.0" x2="220.4" y2="402.2" stroke="#000" stroke-width="1.6"/><text x="220.4" y="431.8" font-size="31.3" text-anchor="middle">100</text><line x1="365.1" y1="396.0" x2="365.1" y2="402.2" stroke="#000" stroke-width="1.6"/><text x="365.1" y="431.8" font-size="31.3" text-anchor="middle">200</text><line x1="509.8" y1="396.0" x2="509.8" y2="402.2" stroke="#000" stroke-width="1.6"/><text x="509.8" y="431.8" font-size="31.3" text-anchor="middle">300</text><line x1="654.6" y1="396.0" x2="654.6" y2="402.2" stroke="#000" stroke-width="1.6"/><text x="654.6" y="431.8" font-size="31.3" text-anchor="middle">400</text><line x1="799.3" y1="396.0" x2="799.3" y2="402.2" stroke="#000" stroke-width="1.6"/><text x="799.3" y="431.8" font-size="31.3" text-anchor="middle">500</text><text x="448.8" y="468.3" font-size="31.0" text-anchor="middle">Session Time (mins)</text><text x="448.8" y="26.2" font-size="34.3" text-anchor="middle">Subject ID: MIN 1023, Session 1</text><text transform="translate(23.4,216.0) rotate(-90)" x="0" y="0" font-size="31.0" text-anchor="middle">CBT (°C)</text></g><g><defs><clipPath id="cp1"><rect x="1025.7" y="36.0" width="721.2" height="360.0"/></clipPath></defs><g clip-path="url(#cp1)"><path d="M1058,280.9 L1058.6,283.7 L1059.9,281.7 L1061.2,283.5 L1062.5,284.2 L1063.8,281.7 L1065.1,277.9 L1066.4,274.6 L1067.7,273.9 L1069,268 L1070.3,272.3 L1071.6,272.6 L1072.9,271.8 L1073.3,272.8 L1074.2,272.6 L1075.5,270.8 L1076.8,269.9 L1078.1,271.7 L1079.4,270.2 L1080.7,272.1 L1082,271.9 L1083.3,269.4 L1084.6,268.9 L1085.9,270.1 L1087.2,265.3 L1088.5,265.7 L1089.8,266.7 L1091.1,267.3 L1092.4,266.8 L1093.7,266.7 L1095,267.3 L1096.3,266.8 L1097.6,268.2 L1098.2,267.7 L1098.9,260.1 L1099.7,250.1 L1100.2,248.8 L1100.4,248.4 L1100.4,317 L1100.2,317.8 L1099.7,320.4 L1098.9,327.8 L1097.6,339.5 L1096.3,337.7 L1095,336.5 L1093.7,333.9 L1092.4,334.3 L1091.1,335 L1089.8,334.8 L1088.5,334.1 L1087.2,334 L1085.9,339.1 L1085.1,337.3 L1084.6,338.2 L1083.3,339 L1082,341.7 L1080.7,342 L1079.4,340.6 L1078.1,342.4 L1076.8,340.8 L1076.3,342.4 L1075.5,342.9 L1074.2,346.8 L1073.3,348.3 L1072.9,347.6 L1071.6,349.5 L1070.3,350.2 L1069,347.1 L1067.7,353 L1066.4,353.7 L1065.1,355.2 L1063.8,356.4 L1063.1,355.6 L1062.5,356 L1061.2,356 L1059.9,355 L1058.6,356.5 L1058,353.4Z" fill="#a0d59e" stroke="#6cbf68" stroke-width="1.5" stroke-linejoin="round"/><path d="M1100.4,248.4 L1101.5,246.7 L1102.8,246 L1104.1,247.8 L1105.4,247.5 L1106.7,250.5 L1108,248.8 L1108.5,248.7 L1109.3,251.5 L1110.6,247.9 L1111.4,249.4 L1111.9,247 L1113.2,238.9 L1114.5,236.5 L1115.8,233.9 L1117.1,227.2 L1118.4,225.5 L1119.7,225.1 L1120.2,223.8 L1121,227.9 L1122.3,226.4 L1123.6,228.4 L1124.9,229.9 L1126.2,227.3 L1127.5,223.2 L1128.8,224.2 L1130.1,224.4 L1131.4,221.6 L1132.7,224.9 L1133.4,222.3 L1134,221 L1135.3,223.7 L1136.6,223.9 L1137.9,226.4 L1139.2,222.3 L1140.5,222.2 L1141.8,222 L1143.1,222.2 L1144.4,220.8 L1145.1,220.8 L1145.7,223.9 L1147,221.4 L1148.3,222.8 L1149.6,224 L1150.9,222.8 L1152.2,222 L1153.5,221.4 L1153.9,217.9 L1154.8,219.1 L1156.1,215.1 L1156.8,217.9 L1157.4,217.2 L1158.7,212.9 L1160,206.9 L1161.3,213.2 L1162,213 L1162,288.6 L1161.3,290.8 L1160,288.6 L1158.7,292.4 L1158.3,291.1 L1157.4,292.4 L1156.1,288.4 L1154.8,292.4 L1153.9,291.1 L1153.5,293.5 L1152.2,291 L1150.9,293.2 L1149.6,295.7 L1148.3,294.6 L1147,294.2 L1145.7,298.1 L1145.1,295.5 L1144.4,295.3 L1143.1,296.2 L1141.8,295.3 L1140.5,294.6 L1139.2,295.1 L1137.9,299.6 L1136.6,298.7 L1135.3,297.7 L1134,293.5 L1133.4,294.1 L1132.7,296.7 L1131.4,293.4 L1130.1,296.2 L1128.8,295.9 L1127.5,294.9 L1126.2,297.1 L1124.9,297.7 L1123.6,298.5 L1123.1,299.9 L1122.3,298.9 L1121,302 L1119.7,299.6 L1118.4,298.7 L1117.1,299.4 L1115.8,301.8 L1114.5,301.3 L1113.2,303.9 L1111.9,310.2 L1111.4,311.6 L1110.6,311.6 L1109.3,317.4 L1108.5,316 L1108,316 L1106.7,317.3 L1105.4,313.8 L1104.1,313.7 L1102.8,312.5 L1101.5,313.4 L1100.4,317Z" fill="#f3fe83" stroke="#edfa52" stroke-width="1.5" stroke-linejoin="round"/><path d="M1162,213 L1162.6,212.8 L1163.9,213.7 L1165.2,213.5 L1165.6,213.5 L1166.5,215 L1167.8,216.2 L1168.6,216.4 L1169.1,214.8 L1170.4,208.8 L1171.7,208.3 L1173,207.5 L1174.3,206.4 L1175.6,206.8 L1176.9,211 L1178.2,212 L1178.8,212 L1179.5,206.7 L1180.3,203.2 L1180.8,201.1 L1182.1,199.1 L1183.4,191.7 L1184.7,191.8 L1186,192.6 L1187.3,187.6 L1188.6,190.3 L1189.1,185.7 L1189.9,186.3 L1191.2,189.2 L1192,193 L1192.5,189.1 L1193.8,190.3 L1195.1,188.1 L1196.4,187.6 L1197.7,188.7 L1199,187.5 L1200.3,188.9 L1200.8,188.6 L1201.6,189.2 L1202.9,188.9 L1204.2,186.3 L1205.5,188.6 L1206.8,187.3 L1208.1,187.5 L1209.4,187 L1210.7,184.2 L1212,185.5 L1212.5,184.2 L1213.3,179.3 L1214,176.9 L1214.6,178.9 L1215.9,178.6 L1217.2,183 L1218.5,179.6 L1219.8,174.7 L1221.1,174.8 L1222.4,174.4 L1223.7,179.1 L1224.2,176.9 L1225,176.3 L1226.3,177.7 L1227.2,173.9 L1227.6,175.2 L1228.9,174 L1230.2,176.4 L1231.5,177.4 L1232.8,175.9 L1234.1,170.6 L1235.4,170.1 L1235.9,169.6 L1236.7,168.4 L1238,168.8 L1239.3,168.1 L1240.6,167.6 L1241.9,168.1 L1243.2,165.3 L1244.5,166.4 L1245.8,162.7 L1247.1,162.1 L1247.7,162.2 L1248.4,162.5 L1249.7,162.2 L1251,160.1 L1252.3,163.9 L1253.6,159.6 L1254.9,160.2 L1256.2,164.9 L1257.5,165.4 L1257.9,165.2 L1258.8,164 L1260.1,160.3 L1261.4,156.9 L1262.7,156.9 L1264,157.3 L1265.3,157.6 L1266.6,157.9 L1267.9,160.1 L1269.2,158.1 L1270.5,158 L1271.8,160.9 L1273.1,160.2 L1274.4,160.5 L1275.7,166.3 L1277,165.6 L1278.3,165.5 L1278.7,166.6 L1279.6,166.4 L1280.9,169.6 L1282.2,169.3 L1283.5,169.7 L1284.8,170.2 L1286.1,169.7 L1287.4,172.2 L1288.7,183.3 L1290,190.5 L1291.3,187.3 L1292.6,187.9 L1293.4,190.1 L1293.9,186.6 L1295.2,193.2 L1296.5,190 L1297.8,193.8 L1299.1,195.2 L1300.4,196.3 L1301.7,201.1 L1302.2,198.8 L1303,200.3 L1304.3,204.9 L1305.1,206.2 L1305.6,203.3 L1306.9,200.6 L1308.2,199.3 L1309.5,193.4 L1310.8,190.4 L1312.1,190.4 L1313.4,188.9 L1314.7,187.6 L1315.3,187.9 L1316,188 L1317.3,183.2 L1318.6,188 L1319.9,190.2 L1321.2,193.1 L1322.5,193.7 L1323.8,195.5 L1325.1,198.1 L1325.6,198.8 L1326.4,198.3 L1327.7,203.3 L1328.5,203.2 L1329,203.7 L1330.3,199.9 L1331.6,196.8 L1332.9,199.4 L1334.2,200.5 L1335.5,198.3 L1336.8,201.1 L1338.1,203.9 L1338.8,204.7 L1339.4,207.2 L1340.7,206 L1342,204.6 L1343.3,207.3 L1344.6,206.3 L1345.9,207.1 L1347.2,208.7 L1348.5,205.6 L1349.8,209.5 L1351.1,207.4 L1352,209.1 L1352.4,208.9 L1353.7,212.8 L1355,214.3 L1355.6,213.5 L1356.3,209.4 L1357.6,203.4 L1358.9,197.1 L1360.2,196 L1361.5,198.7 L1362.8,196.5 L1363.7,195.9 L1364.1,193.5 L1365.4,195.5 L1366.7,193.8 L1368,195.3 L1369.3,196.1 L1370.6,193.2 L1371.9,196.9 L1373.2,196.8 L1374.5,195.8 L1375.4,194.5 L1375.8,193.6 L1377.1,195.3 L1378.4,192.4 L1379.7,192 L1381,195.9 L1382.3,190.3 L1383.6,189.6 L1384.2,190.1 L1384.9,186.4 L1386.2,180.8 L1387.5,178.5 L1388.8,175.1 L1390.1,176.2 L1391.4,175.9 L1392.7,175.7 L1394,175.7 L1395.3,180.3 L1395.9,181.3 L1396.6,180.6 L1397.9,183.3 L1399.2,185.5 L1400.5,191.7 L1401.8,189 L1403.1,189.9 L1404.4,188.1 L1405.7,190.5 L1407,191.1 L1408.3,192.8 L1409.1,193 L1409.6,194.4 L1410.9,194 L1412.2,195.2 L1413.5,196.8 L1414.8,197.8 L1416.1,199.6 L1417.4,197 L1417.9,200.3 L1418.7,200.1 L1420,202.9 L1421.3,203.6 L1422.6,205.4 L1423.9,206.6 L1425.2,212.9 L1426.5,209 L1427.8,205.6 L1429.1,208.4 L1430.4,205.6 L1431.7,207.3 L1432.5,206.2 L1433,207.2 L1434.3,208.8 L1435.6,206.7 L1436.9,211.8 L1438.2,214 L1438.7,215.9 L1438.7,286 L1438.2,284.6 L1436.9,284.3 L1435.6,281.2 L1434.3,283.8 L1433,282.5 L1431.7,282.1 L1430.4,279.4 L1429.6,279.4 L1429.1,282.3 L1427.8,280.6 L1426.5,283.1 L1425.2,286.1 L1423.9,281.1 L1422.6,281.3 L1421.3,279.4 L1420,278.4 L1418.7,275.1 L1417.9,275 L1417.4,271.8 L1416.1,274.9 L1414.8,273.5 L1413.5,273 L1412.2,271.4 L1410.9,270.2 L1409.6,270.6 L1409.1,269.2 L1408.3,268.2 L1407,265.4 L1405.7,263.5 L1404.4,260.2 L1403.1,262.1 L1401.8,261.2 L1400.5,263.9 L1399.2,258 L1397.9,256.8 L1397.4,257.4 L1396.6,256.1 L1395.3,258.7 L1394,257.3 L1392.7,260 L1391.4,260.4 L1390.1,260.9 L1388.8,260 L1387.5,262.1 L1386.2,262.2 L1384.9,263.5 L1384.2,264.8 L1383.6,264.3 L1382.3,265 L1381,270.8 L1379.7,267.9 L1378.4,269.3 L1377.1,270 L1375.8,266.1 L1375.4,266.2 L1374.5,267.7 L1373.2,268.8 L1371.9,269.1 L1370.6,265.6 L1369.3,268.7 L1368,268 L1366.7,266.7 L1365.4,268.6 L1364.1,266.7 L1363.7,269.2 L1362.8,270.6 L1361.5,274.1 L1360.2,272.7 L1358.9,274.4 L1357.6,279.6 L1356.3,284.2 L1355,285.5 L1353.7,284.2 L1352.4,281.6 L1351.1,280.9 L1349.8,283.5 L1349,282.3 L1348.5,280.1 L1347.2,284.1 L1345.9,283.4 L1344.6,283.4 L1343.3,284 L1342,280.9 L1340.7,281.9 L1340.2,280.9 L1339.4,282.4 L1338.1,279.3 L1336.8,277.8 L1335.5,275.8 L1334.2,277.6 L1332.9,276.1 L1331.6,273.1 L1330.3,274.3 L1329,276.2 L1327.7,276.3 L1327.1,275 L1326.4,272.3 L1325.1,272.3 L1323.8,269.7 L1322.5,265.9 L1321.2,262.7 L1319.9,260.9 L1318.6,258.3 L1317.3,252.8 L1316.8,257.4 L1316,258.3 L1314.7,259 L1313.4,260.9 L1312.1,264.2 L1310.8,269.8 L1309.5,275.3 L1308.2,280 L1306.9,280.6 L1305.6,279.8 L1304.3,280.8 L1303,278.1 L1302.2,278 L1301.7,279.9 L1300.4,274.2 L1299.1,272.2 L1298.5,270.6 L1297.8,269.6 L1296.5,263.2 L1295.2,265.2 L1293.9,257.8 L1292.6,258.2 L1291.9,258.9 L1291.3,257.6 L1290,261.5 L1288.7,257.7 L1287.4,258.7 L1286.1,256.6 L1284.8,257.5 L1283.5,257.4 L1282.2,256.5 L1280.9,256 L1279.6,252 L1278.7,251.6 L1278.3,250.5 L1277,250.5 L1275.7,251.3 L1274.4,245.5 L1273.1,245.2 L1271.8,246.2 L1270.5,243.5 L1269.2,243.9 L1267.9,246.3 L1266.6,244.6 L1265.3,245.3 L1264,246.1 L1262.7,246.7 L1261.4,246.3 L1260.1,248.6 L1259.4,250.1 L1258.8,251.8 L1257.5,254.6 L1256.2,257.2 L1254.9,252.1 L1253.6,251.2 L1252.3,253.7 L1251,247.9 L1250.6,248.7 L1249.7,249.8 L1248.4,250.7 L1247.1,250.7 L1245.8,251.3 L1244.5,255 L1243.2,253.6 L1241.9,256 L1240.6,255.5 L1239.3,256 L1238.9,256 L1238,256.7 L1236.7,256.3 L1235.4,257.4 L1234.1,256.3 L1232.8,260 L1231.5,259.5 L1230.2,259.3 L1228.9,257.8 L1227.6,259.9 L1227.2,258.9 L1226.3,262 L1225,259.7 L1223.7,262.5 L1222.4,259.4 L1221.1,261 L1219.8,259.7 L1218.5,263.2 L1217.2,265.3 L1215.9,262.3 L1214.6,264.8 L1213.3,262.7 L1212.5,263.3 L1212,263.8 L1210.7,260.6 L1209.4,261.5 L1208.1,260 L1206.8,260 L1205.5,261.8 L1204.2,260.1 L1203.7,261.8 L1202.9,263.2 L1201.6,264.1 L1200.3,264.4 L1199,264.5 L1197.7,268.7 L1196.4,270.6 L1195.1,274.1 L1193.8,272.8 L1192.5,267.1 L1192,269.2 L1191.2,268.4 L1189.9,270.5 L1188.6,277.4 L1187.3,273.4 L1186,276 L1184.7,273.9 L1183.4,272.5 L1182.1,279.1 L1180.8,280.5 L1180.3,282.3 L1179.5,283.5 L1178.8,286.7 L1178.2,287.6 L1176.9,288.6 L1175.6,286 L1174.3,286 L1173,287.6 L1171.7,288.7 L1170.4,286.6 L1169.1,289.1 L1167.8,290.4 L1166.5,291.6 L1165.2,290 L1163.9,288.5 L1162.6,286.4 L1162,288.6Z" fill="#efce7f" stroke="#eab94c" stroke-width="1.5" stroke-linejoin="round"/><path d="M1438.7,215.9 L1439.5,219.2 L1440.8,222.2 L1442.1,221.3 L1443.4,221 L1444.7,217.4 L1446,219.4 L1447.3,218 L1447.9,217.9 L1447.9,287.2 L1447.3,290.3 L1446,293.8 L1444.7,294.2 L1444.3,297 L1443.4,297 L1442.1,294.7 L1441.3,291.1 L1440.8,293 L1439.5,288.4 L1438.7,286Z" fill="#f3fe83" stroke="#edfa52" stroke-width="1.5" stroke-linejoin="round"/><path d="M1447.9,217.9 L1448.6,213.3 L1449.9,210.3 L1451.2,211 L1452.5,210.7 L1453,210.6 L1453.8,212.9 L1455.1,215.4 L1456,215 L1456,283.8 L1455.1,285.7 L1453.8,285.4 L1452.5,284.9 L1451.2,286.1 L1449.9,285.4 L1448.6,283.6 L1447.9,287.2Z" fill="#efce7f" stroke="#eab94c" stroke-width="1.5" stroke-linejoin="round"/><path d="M1456,215 L1456.4,214.9 L1457.7,219.2 L1459,216.9 L1460.3,218.5 L1461.6,219.6 L1462.9,220 L1464.2,219.5 L1465.5,223.7 L1466.8,225.6 L1467.7,223.8 L1468.1,225.4 L1469.4,228 L1470.7,230.5 L1471.4,232.5 L1472,232.3 L1473.3,229.4 L1474.6,225.8 L1475,225.2 L1475.9,223.8 L1477.2,220.9 L1478.5,222.8 L1479.4,222.3 L1479.8,224 L1481.1,221.8 L1482.4,217.7 L1483.7,219.8 L1485,219.5 L1486.3,219.8 L1487.6,225.3 L1488.2,223.8 L1488.9,223.5 L1490.2,223 L1491.5,218.7 L1492.8,221.4 L1494.1,221.1 L1495.4,221.3 L1496.3,219.4 L1496.7,216.6 L1496.7,284.8 L1496.3,286.7 L1495.4,289.4 L1494.1,290.2 L1492.8,291.6 L1491.5,288.5 L1490.2,292.3 L1488.9,292.3 L1487.6,294.3 L1486.7,292.6 L1486.3,290.2 L1485,291.7 L1483.7,293.6 L1482.4,291.9 L1481.1,295.6 L1479.8,297.4 L1478.5,295.5 L1477.9,295.5 L1477.2,293.5 L1475.9,297.1 L1474.6,299.2 L1473.3,301.3 L1472,301 L1470.7,298.8 L1469.4,298.7 L1468.1,297.7 L1466.8,297.7 L1465.5,295 L1464.8,292.6 L1464.2,290.1 L1462.9,290.2 L1461.6,289.4 L1460.3,287.9 L1459,285.7 L1457.7,288.1 L1456.4,283.8 L1456,283.8Z" fill="#f3fe83" stroke="#edfa52" stroke-width="1.5" stroke-linejoin="round"/><path d="M1496.7,216.6 L1496.7,216.5 L1498,211.8 L1498.5,212 L1499.3,212.6 L1500.6,210 L1501.9,207 L1503.2,207.1 L1504.5,208.2 L1505.8,206.2 L1507.1,206.8 L1508,205.4 L1508.4,206.7 L1509,205.4 L1509.7,205 L1511,201.4 L1512.3,199.1 L1513.6,196 L1514.9,196.3 L1516.2,200.4 L1516.8,197.4 L1517.5,196.6 L1518.8,195.2 L1520.1,199.1 L1521.4,199.4 L1522.7,193.4 L1524,193.2 L1525.3,191.9 L1526.6,190.9 L1527.9,189.4 L1528.5,190.1 L1529.2,189.4 L1530.5,190.8 L1531.8,193 L1533.1,193.2 L1534.4,196.3 L1535.7,198.8 L1537,201.5 L1538.3,204.2 L1538.8,206.2 L1539.6,205.9 L1540.9,207.8 L1542.2,209.6 L1543.5,209.6 L1544.8,214 L1545.4,216.4 L1545.4,287.4 L1544.8,285.9 L1543.5,283.8 L1542.2,284.3 L1540.9,282.5 L1540.2,282.3 L1539.6,280 L1538.3,277.7 L1537,275.7 L1535.7,273.4 L1534.4,269.6 L1533.1,265.1 L1531.8,264.4 L1530.5,261.7 L1529.2,260 L1528.5,260.4 L1527.9,259.9 L1526.6,261.9 L1525.3,263.3 L1524,265.1 L1522.7,266.6 L1521.4,273.9 L1520.1,274.4 L1518.8,271.1 L1517.5,273.1 L1516.8,274.3 L1516.2,277.2 L1514.9,272.9 L1513.6,272.4 L1512.3,275.1 L1511,274.8 L1509.7,276 L1509,275 L1508.4,276.2 L1508,275 L1507.1,276.8 L1505.8,276.7 L1504.5,279.3 L1503.2,278.7 L1501.9,278.8 L1500.6,281.8 L1499.3,284.3 L1498.5,283.8 L1498,282.7 L1496.7,284.8 L1496.7,284.8Z" fill="#efce7f" stroke="#eab94c" stroke-width="1.5" stroke-linejoin="round"/><path d="M1545.4,216.4 L1546.1,220.7 L1547.4,220.5 L1548.7,223.9 L1550,224 L1550.5,226.7 L1551.3,230 L1552.6,232.7 L1553.9,233.9 L1555.2,236.2 L1556.5,238.7 L1557.8,240 L1558.5,241.3 L1559.1,242.7 L1559.3,243.5 L1559.3,310.9 L1559.1,309.8 L1558.5,307.3 L1557.8,305.9 L1556.5,304.6 L1555.2,302.1 L1553.9,300.1 L1552.6,299.4 L1551.3,297.1 L1550.5,294.1 L1550,291.6 L1548.7,291.9 L1547.4,288.9 L1546.1,289.5 L1545.4,287.4Z" fill="#f3fe83" stroke="#edfa52" stroke-width="1.5" stroke-linejoin="round"/><path d="M1559.3,243.5 L1560,247.2 L1560.4,248.8 L1561.7,247.5 L1563,251.3 L1563.7,251.6 L1564.3,252.8 L1565.6,248.7 L1566.9,249.2 L1568.2,248.6 L1569.5,245.6 L1570.8,247.6 L1572.1,248.1 L1573.4,246.6 L1574.7,249.7 L1574.7,317.2 L1573.4,314.6 L1572.1,316.7 L1570.8,316.3 L1569.5,314.4 L1568.2,317.5 L1566.9,318.2 L1565.6,317.9 L1564.3,322 L1563,319.6 L1561.7,316 L1560.4,317.6 L1560,316 L1559.3,310.9Z" fill="#a0d59e" stroke="#6cbf68" stroke-width="1.5" stroke-linejoin="round"/><path d="M1574.7,249.7 L1574.7,249.9 L1576,249 L1576.8,245.7 L1577.3,248.1 L1578.6,250.2 L1579,249.6 L1579,317.7 L1578.6,318.8 L1577.3,318 L1576.8,316 L1576,318.2 L1574.7,317.3 L1574.7,317.2Z" fill="#f3fe83" stroke="#edfa52" stroke-width="1.5" stroke-linejoin="round"/><path d="M1579,249.6 L1579.9,248.3 L1581.2,250.4 L1582.5,249.6 L1583.8,247.7 L1585.1,248 L1586.4,248.5 L1587.7,246.5 L1588.6,248.7 L1589,248.6 L1590.3,248.7 L1591.6,251.5 L1592.9,249.1 L1594.2,248 L1594.4,247.3 L1594.4,317.2 L1594.2,317.9 L1593.7,317.5 L1592.9,317.6 L1591.6,319.5 L1590.3,316.2 L1589,316 L1587.7,313.7 L1586.4,315.5 L1585.6,316 L1585.1,314.8 L1583.8,314.4 L1582.5,316.5 L1581.2,317.6 L1579.9,315.7 L1579,317.7Z" fill="#a0d59e" stroke="#6cbf68" stroke-width="1.5" stroke-linejoin="round"/><path d="M1594.4,247.3 L1595.5,244.3 L1596.8,241.7 L1598.1,241 L1598.8,242.1 L1599.4,242.1 L1600.7,244 L1602,247.4 L1603.2,248.5 L1603.2,315.3 L1602.5,313.1 L1602,314.4 L1600.7,312 L1599.4,311.1 L1598.8,311.6 L1598.1,310.4 L1596.8,310.8 L1595.5,313.4 L1594.4,317.2Z" fill="#f3fe83" stroke="#edfa52" stroke-width="1.5" stroke-linejoin="round"/><path d="M1604.7,247.6 L1605.4,248.7 L1605.9,248.6 L1607.2,248.6 L1608.5,250.2 L1609.8,251.5 L1610.5,251.6 L1611.1,250.7 L1612.4,251.3 L1613.7,250 L1615,252.2 L1616.3,250.4 L1617.6,249.8 L1618.9,252.8 L1620.2,249.1 L1620.8,251.6 L1621.5,252.1 L1622.8,255.6 L1624.1,255.6 L1625.4,253 L1626.7,250 L1628,249.4 L1628.9,245.6 L1628.9,314.9 L1628,317.5 L1626.7,317.1 L1625.4,319.1 L1624.1,320.7 L1622.8,322 L1622.3,320.4 L1621.5,319.9 L1620.2,317.1 L1618.9,320.6 L1617.6,317.4 L1616.3,317.8 L1615,319.6 L1613.7,317.3 L1612.4,318.7 L1611.1,318.1 L1610.5,319 L1609.8,318.9 L1608.5,317.6 L1607.2,316 L1605.9,316 L1605.4,316 L1604.7,314.8Z" fill="#a0d59e" stroke="#6cbf68" stroke-width="1.5" stroke-linejoin="round"/><path d="M1628.9,245.6 L1629.3,243.5 L1630.6,238.7 L1631.9,230.7 L1633.2,228.3 L1634,223.8 L1634.5,221.5 L1635.8,218.4 L1637.1,217.8 L1638.4,217.2 L1639.7,218.5 L1640.6,216.4 L1641,214.4 L1641.3,213.4 L1641.3,287.1 L1641,287.3 L1640.6,288.2 L1639.7,291 L1638.4,291 L1637.1,294.1 L1635.8,295.4 L1634.5,299 L1634,301.4 L1633.2,304.7 L1631.9,304.9 L1630.6,310.7 L1629.3,313.4 L1628.9,314.9Z" fill="#f3fe83" stroke="#edfa52" stroke-width="1.5" stroke-linejoin="round"/><path d="M1641.3,213.4 L1642.3,209.9 L1642.8,207.6 L1643.6,205.7 L1644.9,204.4 L1646.2,204.6 L1647.5,205.5 L1648.8,205.9 L1650.1,200.4 L1651.4,202.8 L1652.7,198.8 L1654,200.7 L1655.3,196.9 L1656.6,199.2 L1657.4,198.8 L1657.9,199.5 L1659.2,200.1 L1660.5,201.6 L1661.8,203.2 L1663.1,204.7 L1664.4,203.4 L1665.7,205.5 L1666.2,207.6 L1666.9,211 L1666.9,282 L1666.2,278 L1665.7,276.2 L1664.4,275 L1663.1,277.3 L1661.8,276.9 L1660.5,276.2 L1659.2,275.9 L1657.9,276.7 L1656.6,276.8 L1656,276.5 L1655.3,275.2 L1654,280.3 L1652.7,279.4 L1651.4,283.3 L1650.1,279.5 L1648.8,283.7 L1647.5,282.3 L1646.2,281.4 L1644.9,281.5 L1643.6,283.1 L1642.8,285.3 L1642.3,286.3 L1641.3,287.1Z" fill="#efce7f" stroke="#eab94c" stroke-width="1.5" stroke-linejoin="round"/><path d="M1666.9,211 L1667,211.3 L1667.7,216.4 L1668.3,214.5 L1669.6,217.5 L1670.9,222.4 L1672.2,224.4 L1673.5,225.4 L1674.8,230.5 L1676.1,234.9 L1677.4,240 L1678.7,248.2 L1679.4,250.7 L1679.4,316.6 L1678.7,312.7 L1677.4,307.1 L1676.1,305.2 L1674.8,304.3 L1673.5,299.6 L1672.2,299.1 L1670.9,296.7 L1669.6,290.9 L1668.3,286.8 L1667.7,288.2 L1667,282.4 L1666.9,282Z" fill="#f3fe83" stroke="#edfa52" stroke-width="1.5" stroke-linejoin="round"/><path d="M1679.4,250.7 L1680,253 L1681.3,250.6 L1682.6,251.6 L1683.9,250.7 L1685.2,252.9 L1686.5,251.7 L1687.8,253.6 L1689.1,257.1 L1690.4,260.6 L1691.7,261.8 L1693,263.2 L1694.3,266.7 L1695.6,268.3 L1696.9,265.2 L1698.2,266.1 L1699.5,269.1 L1700.8,270.9 L1702.1,271.8 L1703.4,271.3 L1704.3,272.1 L1704.7,269.3 L1706,274.3 L1707.3,270.8 L1708.6,272 L1709.9,271.4 L1711.2,271.5 L1712.5,274 L1713.8,274.8 L1714.5,273.6 L1714.5,340.9 L1713.8,344.4 L1712.5,347.5 L1711.6,348.3 L1711.2,345.8 L1709.9,341 L1708.6,341.8 L1707.3,340.7 L1706,344.4 L1704.7,339.5 L1704.3,342.4 L1703.4,341.6 L1702.1,342.1 L1700.8,341.2 L1699.5,339.4 L1698.2,336.5 L1696.9,335.5 L1695.6,338.7 L1694.3,337 L1693,332.8 L1691.7,330.3 L1690.4,328.2 L1689.6,326.3 L1689.1,324.1 L1687.8,320.6 L1686.5,319.2 L1685.2,320.8 L1683.9,320.4 L1682.6,320.6 L1681.3,318.8 L1680,320.1 L1679.4,316.6Z" fill="#a0d59e" stroke="#6cbf68" stroke-width="1.5" stroke-linejoin="round"/><line x1="1101.2" y1="246.3" x2="1101.2" y2="315.6" stroke="#6cbf68" stroke-width="1.6"/><line x1="1107.8" y1="248.1" x2="1107.8" y2="317.3" stroke="#6cbf68" stroke-width="1.6"/><line x1="1109.7" y1="249.5" x2="1109.7" y2="316.8" stroke="#6cbf68" stroke-width="1.6"/><line x1="1154.6" y1="217.9" x2="1154.6" y2="293.2" stroke="#eab94c" stroke-width="1.6"/><line x1="1159.8" y1="207.0" x2="1159.8" y2="290.3" stroke="#eab94c" stroke-width="1.6"/><line x1="1166.4" y1="213.8" x2="1166.4" y2="292.5" stroke="#edfa52" stroke-width="1.6"/><line x1="1177.3" y1="210.3" x2="1177.3" y2="289.2" stroke="#edfa52" stroke-width="1.6"/><line x1="1457.4" y1="217.3" x2="1457.4" y2="288.2" stroke="#eab94c" stroke-width="1.6"/><line x1="1603.2" y1="247.5" x2="1603.2" y2="316.3" stroke="#6cbf68" stroke-width="1.6"/><line x1="1025.7" y1="336.0" x2="1746.9" y2="336.0" stroke="#b0b0b0" stroke-opacity="0.7" stroke-width="1.5" stroke-dasharray="5.2 2.1"/><line x1="1025.7" y1="216.0" x2="1746.9" y2="216.0" stroke="#b0b0b0" stroke-opacity="0.7" stroke-width="1.5" stroke-dasharray="5.2 2.1"/><line x1="1025.7" y1="96.0" x2="1746.9" y2="96.0" stroke="#b0b0b0" stroke-opacity="0.7" stroke-width="1.5" stroke-dasharray="5.2 2.1"/><line x1="1142.4" y1="36.0" x2="1142.4" y2="396.0" stroke="#b0b0b0" stroke-opacity="0.7" stroke-width="1.5" stroke-dasharray="5.2 2.1"/><line x1="1265.0" y1="36.0" x2="1265.0" y2="396.0" stroke="#b0b0b0" stroke-opacity="0.7" stroke-width="1.5" stroke-dasharray="5.2 2.1"/><line x1="1387.7" y1="36.0" x2="1387.7" y2="396.0" stroke="#b0b0b0" stroke-opacity="0.7" stroke-width="1.5" stroke-dasharray="5.2 2.1"/><line x1="1510.3" y1="36.0" x2="1510.3" y2="396.0" stroke="#b0b0b0" stroke-opacity="0.7" stroke-width="1.5" stroke-dasharray="5.2 2.1"/><line x1="1632.9" y1="36.0" x2="1632.9" y2="396.0" stroke="#b0b0b0" stroke-opacity="0.7" stroke-width="1.5" stroke-dasharray="5.2 2.1"/><path d="M1058,302.9 L1061.6,299.9 L1065.3,294.1 L1068.9,288.9 L1071.9,287.5 L1074.8,288.2 L1079.2,284.5 L1083.6,280.9 L1085.8,280.9 L1089.5,275 L1092.4,270.6 L1094.6,273.6 L1096,272.1 L1099,280.2 L1101.2,278 L1104.1,271.4 L1107,267.7 L1109.2,268.4 L1112.2,270.6 L1117.3,264 L1121,264 L1123.1,250.1 L1124.6,246.5 L1127.5,248.7 L1130.5,254.5 L1133.4,268.4 L1136.3,269.9 L1139.3,261.8 L1142.2,263.3 L1145.1,263.3 L1148.8,271.4 L1152.4,264.8 L1154.6,258.9 L1156.8,252.3 L1159,257.4 L1162.7,251.6 L1165.6,249.4 L1168.6,232.5 L1171.5,220.8 L1174.4,215 L1178.8,209.1 L1181.7,203.2 L1186.1,197.4 L1190.5,191.5 L1194.9,186.4 L1197.9,191.5 L1200.8,195.9 L1203.7,193 L1206.6,195.2 L1209.6,193 L1215.4,195.2 L1221.3,198.1 L1225,201 L1227.2,198.8 L1230.1,196.7 L1233,192.3 L1237.4,183.5 L1241.8,180.5 L1247.7,175.4 L1252.1,172.5 L1256.5,171 L1260.8,168.8 L1263.8,167.4 L1267,169.6 L1269.9,178.3 L1272.9,197.4 L1275.1,198.8 L1277.3,212 L1279.5,220.8 L1281.6,235.5 L1283.8,250.1 L1285.3,254.5 L1286.8,253.8 L1288.2,247.9 L1293.4,247.9 L1298.5,247.9 L1299.5,281.6 L1302.2,277.2 L1304.4,275.8 L1306.6,267.7 L1309.5,259.6 L1312.4,256 L1316.8,251.6 L1321.2,242.8 L1325.6,236.2 L1328.5,231.1 L1331.5,226 L1334.4,229.6 L1337.3,231.1 L1340.2,231.8 L1344.6,236.9 L1349,236.2 L1351.2,234 L1353.4,239.1 L1356.4,239.1 L1360.8,244.3 L1365.1,249.4 L1369.5,253.8 L1372.5,250.9 L1376.1,248.7 L1379.8,245.7 L1382,234.7 L1384.2,231.1 L1390.1,231.1 L1393,232.5 L1398.8,233.3 L1403.2,234.7 L1407.6,238.4 L1412,239.9 L1416.4,242.1 L1422.3,242.1 L1426.7,243.5 L1431.1,246.5 L1434,251.6 L1436.9,258.9 L1439.9,264.8 L1442.8,278 L1445,285.3 L1447.9,285.3 L1450.1,283.8 L1452.3,287.5 L1454.5,283.8 L1457.4,280.9 L1461.8,280.9 L1466.2,278.7 L1469.9,279.4 L1473.5,278 L1477.9,274.3 L1482.3,275.8 L1486.7,273.6 L1490.4,272.1 L1492.6,276.5 L1495.5,283.8 L1499.9,287.5 L1504.3,290.4 L1506.5,292.6 L1509,291.1 L1510.9,294.1 L1513.9,299.2 L1517.5,301.4 L1519,306.5 L1521.2,298.5 L1524.1,286.7 L1527,286 L1530,291.1 L1532.9,299.9 L1537.3,311.6 L1541.7,316.8 L1546.1,320.4 L1550.5,316.8 L1553.4,315.3 L1556.3,308.7 L1560.7,302.9 L1565.1,299.9 L1569.5,294.8 L1572.5,298.5 L1575.4,302.9 L1578.3,307.3 L1581.2,314.6 L1584.2,318.2 L1587.1,321.2 L1590,326.3 L1593,327.8 L1595.9,333.6 L1598.8,340.9 L1601.8,338 L1604.7,340.9 L1607.6,349.7 L1610.5,351.2 L1613.5,354.1 L1616.4,354.1 L1619.3,348.3 L1622.3,355.6 L1625.2,357.1 L1627.4,356.3 L1629.6,330.7 L1631.1,326.3 L1634,319 L1636.9,313.1 L1639.8,307.3 L1642,304.3 L1644.2,288.2 L1646.4,270.6 L1648.6,269.2 L1650.1,274.3 L1653,274.3 L1654.5,270.6 L1656,273.6 L1657.4,270.6 L1658.9,260.4 L1661.1,242.1 L1664,237.7 L1667.7,239.9 L1670.6,244.3 L1673.5,248.7 L1675.7,250.9 L1677.9,235.5 L1679.4,234 L1682.3,239.1 L1685.3,248.7 L1688.2,255.2 L1692.6,259.6 L1697,262.6 L1701.4,264 L1705.8,263.3 L1710.2,264 L1713.1,263.3 L1714.8,262.6" fill="none" stroke="#000" stroke-width="2.8" stroke-linejoin="round" stroke-linecap="square"/></g><rect x="1025.7" y="36.0" width="721.2" height="360.0" fill="none" stroke="#000" stroke-width="1.6" stroke-linejoin="miter"/><line x1="1019.5" y1="336.0" x2="1025.7" y2="336.0" stroke="#000" stroke-width="1.6"/><text x="1012.9" y="347.6" font-size="31.3" text-anchor="end">37</text><line x1="1019.5" y1="216.0" x2="1025.7" y2="216.0" stroke="#000" stroke-width="1.6"/><text x="1012.9" y="227.6" font-size="31.3" text-anchor="end">38</text><line x1="1019.5" y1="96.0" x2="1025.7" y2="96.0" stroke="#000" stroke-width="1.6"/><text x="1012.9" y="107.6" font-size="31.3" text-anchor="end">39</text><line x1="1142.4" y1="396.0" x2="1142.4" y2="402.2" stroke="#000" stroke-width="1.6"/><text x="1142.4" y="431.8" font-size="31.3" text-anchor="middle">100</text><line x1="1265.0" y1="396.0" x2="1265.0" y2="402.2" stroke="#000" stroke-width="1.6"/><text x="1265.0" y="431.8" font-size="31.3" text-anchor="middle">200</text><line x1="1387.7" y1="396.0" x2="1387.7" y2="402.2" stroke="#000" stroke-width="1.6"/><text x="1387.7" y="431.8" font-size="31.3" text-anchor="middle">300</text><line x1="1510.3" y1="396.0" x2="1510.3" y2="402.2" stroke="#000" stroke-width="1.6"/><text x="1510.3" y="431.8" font-size="31.3" text-anchor="middle">400</text><line x1="1632.9" y1="396.0" x2="1632.9" y2="402.2" stroke="#000" stroke-width="1.6"/><text x="1632.9" y="431.8" font-size="31.3" text-anchor="middle">500</text><text x="1386.3" y="468.3" font-size="31.0" text-anchor="middle">Session Time (mins)</text><text x="1386.3" y="26.2" font-size="34.3" text-anchor="middle">Subject ID: SIN 212, Session 1</text><text transform="translate(960.9,216.0) rotate(-90)" x="0" y="0" font-size="31.0" text-anchor="middle">CBT (°C)</text></g><g><defs><clipPath id="cp2"><rect x="88.2" y="612.4" width="721.1" height="360.0"/></clipPath></defs><g clip-path="url(#cp2)"><path d="M120.2,847.2 L120.9,850.3 L122.2,848.4 L123.5,848.2 L124.8,843.7 L126.1,846.9 L127.4,843.6 L128.7,842.2 L130,841.8 L131.3,843.8 L131.9,844.3 L132.6,840.1 L133.9,846.9 L135.2,845.3 L136.5,844.5 L137.8,841.1 L139.1,840 L140.4,841.1 L141.7,835.4 L143,839.8 L143.7,839.9 L144.3,838.1 L145.6,837.4 L146.9,838.5 L148.2,835.1 L149.5,831.8 L150.8,831.4 L152.1,831.6 L153.4,826.9 L153.9,825.2 L154.7,823.5 L156,833.2 L156.8,835.5 L157.3,837.1 L158.6,836.4 L159.9,836.2 L161.2,834.8 L162.5,833.5 L163.8,836.2 L165.1,831.5 L166.4,833.1 L167.1,834 L167.7,830 L169,836 L170.3,833.7 L171.6,833.2 L172.2,835.5 L172.7,833.1 L172.7,897 L172.2,898.5 L171.6,897.1 L170.3,899.3 L169,901.3 L167.7,894.7 L166.4,898.1 L165.6,898.5 L165.1,897.3 L163.8,902.9 L162.5,900.5 L161.2,899.2 L159.9,899.2 L158.6,901.2 L157.3,903.9 L156.8,902.9 L156,902.8 L154.7,896.3 L153.4,899.7 L152.1,900.4 L150.8,897.8 L149.5,897.9 L148.2,901.1 L146.9,904.8 L145.6,904.2 L144.3,905.3 L143.7,907.3 L143,907.2 L141.7,902.8 L140.4,908.3 L139.1,906.9 L137.8,907.5 L136.5,910.5 L135.2,912 L133.9,914.4 L132.6,908.5 L131.9,913.1 L131.3,912.9 L130,911.3 L128.7,912.1 L127.4,914.2 L126.1,919.6 L124.8,918.7 L123.5,926.1 L122.2,925.2 L120.9,924.7 L120.2,920.4Z" fill="#a0d59e" stroke="#6cbf68" stroke-width="1.5" stroke-linejoin="round"/><path d="M172.7,833.1 L172.9,832 L173.7,822.3 L174.2,818.8 L175.5,822.7 L175.9,820.8 L176.8,817.5 L178.1,818.5 L178.8,813.5 L179.4,812 L180.7,805.9 L182,796.9 L182.5,794.5 L183.3,794.4 L184.6,802.4 L185.9,803.2 L187.2,794.6 L188.5,791.4 L189.1,793 L189.8,794.8 L190.5,794.5 L191.1,784.7 L191.3,784.3 L191.3,863.4 L191.1,863.6 L190.5,864.8 L189.8,867 L188.5,865.3 L187.6,869.2 L187.2,868 L185.9,875.8 L184.6,874.6 L183.3,871.4 L182,875.4 L180.7,879.8 L179.4,881.4 L178.8,880.9 L178.1,886.6 L176.8,886.9 L175.9,891.1 L175.5,892.2 L174.2,885.7 L173.7,888.2 L172.9,896.3 L172.7,897Z" fill="#f3fe83" stroke="#edfa52" stroke-width="1.5" stroke-linejoin="round"/><path d="M191.3,784.3 L192.4,782.2 L193.7,780.3 L195,784.9 L196.3,779.9 L197.6,787.4 L198.9,781.3 L200.2,781.3 L200.8,781.3 L201.5,778.9 L202.8,771 L204.1,769.4 L205.4,770.4 L206.7,771.5 L208,773.9 L209.3,772.2 L210.6,771.6 L211.9,773.6 L212.5,771 L213.2,773.3 L214.5,772 L215.8,769.9 L217.1,770.9 L218.4,773.5 L219.7,767.1 L221,767.1 L222.3,770.6 L223.6,772.7 L224.9,772.3 L225.7,773.9 L226.2,772.5 L227.5,772 L228.8,766.6 L230.1,766.1 L231.4,770.4 L232.7,769.7 L234,769.2 L234.5,768.1 L235.3,765.2 L236.6,766.5 L237.9,766.9 L239.2,764.2 L240.5,766.1 L241.8,769 L243.1,763.7 L244.4,764.7 L245.7,765.8 L247,765.7 L248.3,768.1 L249.1,768.1 L249.6,767.2 L250.9,768.3 L252.2,767.2 L253.5,769.8 L254.8,768.8 L256.1,766.3 L257.4,767.7 L258.7,770.4 L260,772.1 L260.9,771 L261.3,766.9 L262.6,771.6 L263.9,771.6 L265.2,774.1 L266.5,777.3 L267.8,780.9 L268.2,784.2 L268.9,787.2 L268.9,861.1 L268.2,860.4 L267.8,857.7 L266.5,856 L265.2,854.6 L263.9,850.3 L262.6,849 L261.3,843 L260,847.2 L259.4,844.3 L258.7,845.1 L257.4,842.4 L256.1,840.6 L254.8,841.7 L253.5,842.8 L252.2,840.3 L250.9,841.5 L249.6,840.4 L249.1,841.3 L248.3,842.8 L247,842.5 L246.2,844.3 L245.7,843.6 L244.4,841.5 L243.1,838.9 L241.8,842.6 L240.5,838.1 L239.2,837.5 L237.9,841.8 L236.6,843 L235.3,843.3 L234.5,847.2 L234,848.7 L232.7,850.1 L231.4,851.9 L230.1,848.5 L228.8,848.3 L227.5,852.4 L226.2,851.6 L224.9,852 L224.2,853.1 L223.6,853.5 L222.3,851.8 L221,848.2 L219.7,846.6 L218.4,852.2 L217.1,848.6 L215.8,847.9 L214.5,850.5 L214,850.1 L213.2,853.5 L211.9,855.8 L210.6,855.1 L209.3,856.3 L208,856.4 L206.7,853.5 L205.4,852.1 L204.1,852.1 L202.8,851.8 L201.5,856.6 L200.8,857.4 L200.2,857.9 L198.9,858.9 L197.6,866 L196.3,859.3 L195,864 L193.7,859.9 L192.4,862.3 L191.3,863.4Z" fill="#efce7f" stroke="#eab94c" stroke-width="1.5" stroke-linejoin="round"/><path d="M268.9,787.2 L269.1,787.8 L269.6,795.9 L270.4,798.8 L271.7,802.7 L272.6,803.2 L273,803.8 L274.3,808.1 L275.6,810.1 L276.9,813.6 L278.2,816.3 L279.5,814.8 L280.8,812 L281.4,813.5 L282.1,815.9 L283.4,818.3 L284.7,817.7 L286,818.9 L287.3,817.9 L288.6,818.6 L289.9,814.6 L291.2,817 L292.5,821.3 L293.8,813.2 L294.5,813.5 L295.1,811.9 L296.4,806.7 L297.7,808.1 L299,804.3 L300.3,805.5 L301.6,808.2 L302.9,806 L303.3,806.2 L304.2,802.3 L305.5,808.8 L306.3,784.2 L306.8,787.9 L308.1,792.9 L309.4,795 L310.7,787.1 L310.7,867.7 L309.4,867.9 L308.1,866.9 L306.8,871.5 L305.5,875 L304.2,874.6 L302.9,884.2 L301.6,890.2 L300.3,885.3 L299,882 L297.7,884.1 L296.4,880.9 L295.1,884.3 L294.5,885.3 L293.8,885.5 L292.5,894.4 L291.2,891 L289.9,888.9 L288.6,890.7 L287.3,887.9 L286,886.7 L284.7,885.8 L283.4,887.3 L282.1,885.7 L281.4,883.8 L280.8,881.7 L279.5,883.2 L278.2,883.5 L276.9,879.6 L275.6,877.8 L274.3,877.6 L273,875 L272.6,875 L271.7,874.4 L270.4,870.6 L269.6,867.7 L269.1,861.3 L268.9,861.1Z" fill="#f3fe83" stroke="#edfa52" stroke-width="1.5" stroke-linejoin="round"/><path d="M310.7,787.1 L310.7,787 L312,775.9 L313.3,779.3 L314.6,777.7 L315.9,775.2 L316.5,773.9 L317.2,775.2 L318.5,780.4 L319.8,783.2 L321.1,780 L322.4,782.7 L323.7,770.5 L325,770.6 L326.3,770 L327.6,770.5 L328.9,773.9 L330.2,771.3 L331.5,770.5 L332.8,774.8 L334.1,773.7 L335.4,772.6 L336.7,770.5 L338,770.4 L338.8,771 L339.3,771.7 L340.6,773.9 L341.9,770.4 L343.2,773.5 L344.5,773.1 L345.8,768.1 L347.1,771.1 L348.4,779 L349,781.3 L349.7,780.2 L351,781.9 L352.3,780.6 L353.6,779.5 L354.9,777.6 L356.2,780 L357.5,775.4 L358.8,770.8 L360.1,771.5 L361.4,773.7 L362.2,769.6 L362.7,771.2 L364,770 L365.3,772 L366.6,768.9 L367.9,769.9 L369.2,766.1 L370.5,769.8 L371.8,773.7 L372.5,773.9 L373.1,772.1 L374.4,770 L375.7,769.9 L377,770.6 L378.3,775.6 L379.6,774.5 L380.9,776.9 L382.2,780.2 L383.5,787.6 L384.2,791.5 L384.2,861.4 L383.5,859 L382.7,857.4 L382.2,856.4 L380.9,858.5 L379.6,857.9 L378.3,860.5 L377,854.7 L375.7,851.5 L374.4,849 L373.9,851.6 L373.1,848.8 L371.8,850.2 L370.5,847.9 L369.2,844.6 L367.9,846.5 L366.6,843.5 L365.3,845 L364,843.5 L362.7,845.6 L361.4,848.4 L360.8,845.7 L360.1,846.9 L358.8,847.5 L357.5,853.4 L356.2,859.1 L354.9,856.7 L353.6,858.6 L352.3,860.1 L351,861.8 L349.7,860.5 L348.4,862.6 L347.6,863.3 L347.1,859.2 L345.8,857.3 L344.5,859.2 L343.2,857 L341.9,853.4 L340.6,853.1 L339.3,846.6 L338.8,844.3 L338,844.4 L336.7,845.9 L335.4,849.3 L334.1,851.6 L332.8,853.5 L331.5,850.1 L330.2,851.7 L328.9,857.6 L327.6,857.9 L326.3,861 L325,863 L323.7,857.8 L322.4,864.7 L321.1,856.8 L319.8,862.4 L318.5,862.9 L317.2,861.1 L315.9,863.1 L315.1,861.8 L314.6,866.6 L313.3,869.5 L312,866.1 L310.7,867.7 L310.7,867.7Z" fill="#efce7f" stroke="#eab94c" stroke-width="1.5" stroke-linejoin="round"/><path d="M384.2,791.5 L384.8,793.4 L385.7,794.5 L386.1,791.6 L387.4,788 L388.7,784.2 L390,789.2 L391.3,795.5 L392.6,793.7 L393.9,783.6 L394.5,785.7 L395.2,791.3 L396.5,797.8 L397.8,796.1 L399.1,791.5 L400.4,789.9 L401.7,788.6 L403,793.1 L404.3,793.6 L404.7,798.8 L405.6,799.9 L406.9,800.5 L408.2,805 L409.5,802.5 L410.8,809.1 L412.1,810.5 L413.4,814.7 L414.7,819.5 L416,823.2 L417.3,825.1 L417.9,823.8 L418.6,818.3 L419.4,817.9 L419.9,815.4 L421.2,817.2 L422.5,821.6 L423.8,819.2 L425.1,827.7 L425.2,827.3 L425.2,898.9 L425.1,899.6 L423.8,892.5 L422.5,893.2 L421.2,887 L419.9,885.8 L418.6,886.6 L417.9,889.7 L417.3,891.4 L416,890.1 L414.7,887.4 L413.4,885.2 L412.1,883.7 L410.8,884.3 L409.5,879.6 L408.2,882.6 L406.9,878.2 L405.6,877.6 L404.7,876.5 L404.3,871.2 L403,870.7 L401.7,866.1 L400.4,866.1 L399.1,866.4 L397.8,869.8 L396.5,874.7 L395.2,873.4 L394.5,870.6 L393.9,865.9 L392.6,870.2 L391.3,867.6 L390,863.3 L388.7,860.2 L387.4,861.7 L386.1,862.8 L385.7,864.8 L384.8,863.2 L384.2,861.4Z" fill="#f3fe83" stroke="#edfa52" stroke-width="1.5" stroke-linejoin="round"/><path d="M425.2,827.3 L426.4,824.3 L427.7,830 L429,831 L430.3,831.4 L431.1,832.5 L431.6,831.2 L432.9,829.9 L434.2,823.1 L435.5,839.5 L436.8,837 L438.1,833.7 L439.4,837 L440.7,835.2 L442,831.3 L442.8,831.1 L443.3,831.7 L444.6,835.6 L445.9,832.3 L447.2,835.9 L448.5,834.7 L449.8,828.6 L451.1,826.8 L452.4,825.5 L453.1,825.2 L453.7,824.5 L455,830.6 L456.3,834.2 L457.6,832.8 L458.9,837 L460.2,836 L461.5,836.6 L462.8,836.8 L464.1,839.6 L465.4,836.9 L466.7,837.6 L468,834.7 L469.3,838.2 L470.6,835.1 L471.9,834.3 L473.2,837.1 L474.5,839.6 L475,841.3 L475.8,841.4 L477.1,833.5 L478.4,827.8 L479.7,825.9 L481,823.8 L482.3,824.2 L483.6,824.5 L484.9,826 L486.2,828.7 L487.5,833 L488.2,829.6 L488.8,826.6 L490.1,827.3 L491.4,827.9 L492.7,823.9 L494,825.7 L495.3,821.3 L496.6,824 L497,823.8 L497.9,827 L499.2,820.2 L500.5,818.5 L501.8,820.4 L503.1,822.1 L504.4,825.5 L505.7,826.9 L507,821.1 L508.3,820.6 L509.6,809.1 L510.2,810.6 L510.9,813.2 L512.2,820.6 L513.5,823.1 L514.8,827.4 L516.1,828.6 L517.4,827.3 L518.7,827.5 L520,825.6 L521.3,819.9 L521.9,819.4 L521.9,890.8 L521.3,891.4 L520,895.6 L518.7,896.2 L517.4,895 L516.1,895.3 L514.8,893.1 L513.5,891.9 L512.2,894.5 L510.9,892.7 L509.6,890.2 L508.7,894.1 L508.3,898.1 L507,893.8 L505.7,895.3 L504.4,894.8 L503.1,892.7 L501.8,892.3 L500.5,889.2 L499.9,889.7 L499.2,889.2 L497.9,894.8 L496.6,890.9 L495.3,888.7 L494,895.7 L492.7,896.5 L491.4,902.3 L490.1,900.2 L488.8,897.4 L487.5,903.4 L486.7,898.5 L486.2,899.7 L484.9,897.4 L483.6,895.9 L482.3,893.6 L481,893.6 L479.7,896.2 L478.4,895.7 L478,898.5 L477.1,898.9 L475.8,904.7 L474.5,903.9 L473.2,905.9 L471.9,904.8 L470.6,903.4 L469.3,904.4 L468,899.1 L466.7,901.9 L465.4,901.6 L464.1,904.6 L463.3,901.4 L462.8,902.2 L461.5,902.2 L460.2,901.5 L458.9,902.5 L457.6,898.4 L456.3,898.4 L455,896.2 L453.7,892.3 L453.1,894.1 L452.4,893.8 L451.1,894.2 L449.8,895 L448.5,900.1 L447.2,900.3 L445.9,898.1 L444.6,902.6 L443.3,900.1 L442,899.4 L441.3,899.9 L440.7,902.2 L439.4,903.4 L438.1,899.3 L436.8,901.3 L435.5,902.4 L434.2,897.8 L432.9,900.5 L431.6,897.6 L430.3,897.5 L429.6,898.5 L429,898.1 L427.7,897.6 L426.4,893 L425.2,898.9Z" fill="#a0d59e" stroke="#6cbf68" stroke-width="1.5" stroke-linejoin="round"/><path d="M521.9,819.4 L522.6,819 L523.9,823 L525.2,818.3 L526.5,820.8 L527.8,820.8 L529.1,823.1 L530.4,822.2 L531.7,822.9 L533,819.2 L534.3,819.6 L535.1,817.9 L535.6,816.3 L536.9,816.7 L538.2,820.5 L539.5,820 L540.8,821.9 L542.1,816.5 L543.4,817.8 L543.9,816.4 L544.7,816.7 L546,817.2 L547.3,816.3 L548.6,818 L549.9,815.4 L551.2,815.4 L552.5,812 L553.8,811.1 L555.1,805.5 L556.4,806.5 L557.1,806.2 L557.7,805.6 L559,807.7 L560.3,811.6 L561.6,812.5 L562.9,809.2 L564.2,801.9 L565.5,807.9 L566.8,805.5 L568.1,805.5 L569.4,806.3 L570.7,806.2 L572,802.3 L573.3,803.8 L574.6,806.6 L575.9,802.2 L577.2,803.8 L577.9,801.8 L578.5,806.4 L579.8,805.1 L581.1,811.2 L582.4,810.1 L583.7,810.7 L585,808.7 L586.3,806.5 L587.6,807.4 L588.9,810.6 L590.2,811.9 L591,815 L591.5,812.4 L592.8,813.7 L594.1,805.8 L595.4,806.4 L596.7,800.6 L598,800.1 L599.3,800.4 L599.8,797.4 L600.6,803.5 L601.3,806.2 L601.3,875 L600.6,876.9 L599.3,878 L598,876.4 L596.7,875.8 L595.4,881.5 L594.1,879.2 L592.8,885.3 L591.5,879.9 L590.2,878.7 L588.9,878.7 L588.1,878 L587.6,877.9 L586.3,879.6 L585,881.3 L583.7,882.9 L582.4,879.2 L581.1,881.7 L579.8,877.3 L578.5,880.3 L577.9,876.5 L577.2,877.8 L575.9,874.9 L574.6,878 L573.3,873.9 L572,871.2 L570.7,876.3 L569.4,877.5 L568.1,878 L566.8,879.1 L565.5,882.4 L564.2,876.3 L562.9,881.3 L561.6,882.3 L560.3,881.9 L559,878.8 L558.5,879.4 L557.7,878.6 L556.4,880.2 L555.1,878.4 L553.8,883.1 L552.5,883.1 L551.2,885.2 L549.9,883.9 L548.6,884.8 L547.3,883.7 L546,885.9 L545.3,886.7 L544.7,886.9 L543.4,889.2 L542.1,888.3 L540.8,894 L539.5,890.8 L538.2,890.5 L536.9,885.8 L535.6,885.4 L534.3,888.4 L533,887.2 L532.2,888.2 L531.7,889.9 L530.4,888.9 L529.1,890.6 L527.8,889.2 L526.5,889.6 L525.2,887.6 L523.9,892.7 L523.4,889.7 L522.6,890.1 L521.9,890.8Z" fill="#f3fe83" stroke="#edfa52" stroke-width="1.5" stroke-linejoin="round"/><path d="M601.3,806.2 L601.9,795.2 L602.8,784.2 L603.2,783.7 L604.5,784.8 L605.8,792.5 L607.1,791.3 L608.4,784.6 L609.7,772.6 L610.1,772.5 L611,776.4 L612.3,774.1 L613.6,780.7 L614.9,777.1 L616.2,774 L617.5,769.4 L618.8,766.8 L620.1,767.7 L621.4,767.7 L621.8,769.6 L622.7,771.2 L624,769.5 L625.3,765.9 L626.6,763 L627.9,761.9 L629.2,763.4 L629.9,763.7 L630.5,762.9 L631.8,768.6 L633.1,775.7 L633.5,775.4 L634.4,778.8 L635.7,771.9 L637,767.6 L638.3,767.4 L639.6,751.6 L640.1,750.5 L640.9,752.3 L642.2,760 L643.5,766.5 L644.8,770 L646.1,771.8 L647.4,771.2 L648.2,771 L648.7,767.3 L650,768.3 L651.3,765.6 L652.6,761.3 L653.3,762.2 L653.9,766.4 L655.2,766.6 L656.5,769.4 L657,772.5 L657.8,771.3 L659.1,772.6 L660.4,773.6 L661.7,772.5 L663,777.7 L664.3,780.4 L665.6,781.7 L666.9,783.6 L668.2,785.2 L668.7,784.2 L669.5,784.7 L670.8,781.6 L672.1,782.9 L673.4,787.6 L674.5,799.6 L674.5,859.2 L673.4,859.9 L672.1,860.1 L670.8,860.1 L669.5,864.5 L668.7,864.8 L668.2,864.5 L666.9,859.6 L665.6,855.1 L664.3,855.5 L663,854.4 L661.7,850.8 L660.4,851.9 L659.9,851.6 L659.1,850.4 L657.8,848.6 L656.5,847.3 L655.2,847.2 L653.9,849.8 L652.6,845.8 L651.3,848.4 L650,849.6 L648.7,847.1 L648.2,850.1 L647.4,850 L646.1,850.2 L644.8,847.9 L643.5,845.5 L642.2,844.8 L640.9,842.9 L639.6,840.3 L638.3,845.9 L637,843.9 L635.7,849 L635,851.6 L634.4,855.6 L633.1,852.6 L631.8,849.3 L630.5,847.1 L629.2,846.5 L627.9,841.3 L626.6,838.7 L625.3,846.4 L624,858.3 L623.3,861.8 L622.7,864.1 L621.4,860.2 L620.1,861.1 L618.8,861.1 L617.5,864.1 L616.2,862.7 L614.9,859.6 L613.6,862.4 L612.3,857.6 L611,861.7 L610.1,858.9 L609.7,856.8 L608.4,861.6 L607.1,861.7 L605.8,865.1 L604.5,859.6 L603.2,860.7 L602.8,861.8 L601.9,867.5 L601.3,875Z" fill="#efce7f" stroke="#eab94c" stroke-width="1.5" stroke-linejoin="round"/><path d="M674.5,799.6 L674.7,801 L676,801.1 L677.3,803.3 L678.6,807.1 L679.9,805.7 L681.2,807.3 L681.9,807.6 L682.5,806.5 L683.8,805.8 L685.1,804 L686.4,804.4 L687.7,810.9 L689,806.6 L690.3,809.6 L691.6,814.6 L692.9,816.3 L694.2,820.9 L695.1,817.9 L695.5,813.6 L696.8,819.4 L698.1,819.7 L699.4,820.2 L700.7,814.9 L702,822 L703.3,824.3 L703.8,822.3 L704.6,820.2 L704.6,887.6 L703.8,888.2 L703.3,890.6 L702,889.2 L700.7,882.9 L699.4,889.1 L698.1,889 L696.8,889.1 L695.5,883.5 L694.2,891.3 L692.9,887.5 L692.1,886.7 L691.6,886.4 L690.3,881.9 L689,880.7 L687.7,886.7 L686.4,881.9 L685.1,880.2 L683.8,880.4 L682.5,879.4 L681.2,879.5 L680.4,879.4 L679.9,877.1 L678.6,876.3 L677.3,870.8 L676,869 L674.7,859.2 L674.5,859.2Z" fill="#f3fe83" stroke="#edfa52" stroke-width="1.5" stroke-linejoin="round"/><path d="M704.6,820.2 L704.6,820.2 L705.9,825.8 L707.2,819.9 L707.9,819.4 L707.9,886.1 L707.2,888.9 L705.9,894.3 L705.3,891.1 L704.6,887.6 L704.6,887.6Z" fill="#a0d59e" stroke="#6cbf68" stroke-width="1.5" stroke-linejoin="round"/><path d="M707.9,819.4 L708.5,819.1 L709.8,818.2 L711.1,810.8 L712.4,800 L713.7,798.8 L715,802.9 L716.3,805.7 L717,804.7 L717.6,804.8 L718.9,806 L720.2,803.3 L721.5,804.6 L722.8,805.9 L724.1,807.6 L725.4,803.7 L725.8,803.2 L726.7,804.2 L728,802 L729.3,803 L730.6,807 L731.9,807.7 L733.2,803.4 L734.5,806.5 L735.8,806.7 L737.1,808.6 L738.4,810.6 L739,809.1 L739.7,810.2 L741,809.6 L742.3,813.6 L743.6,818.2 L744.1,822 L744.1,893.1 L743.6,890.9 L742.3,887.9 L741,885.3 L739.7,887.2 L739,886.7 L738.4,888.4 L737.1,886.9 L735.8,885.5 L734.5,885.4 L733.2,880.6 L731.9,883.2 L730.6,880.7 L729.3,876.3 L728,875.4 L726.7,877.7 L725.4,877.2 L724.1,881 L722.8,879.5 L721.5,878.6 L720.2,877.2 L718.9,879.8 L717.6,877.7 L716.3,878.9 L715,877.9 L714.1,875 L713.7,876 L712.4,873.3 L711.1,877.6 L709.8,878.6 L708.5,884.2 L707.9,886.1Z" fill="#f3fe83" stroke="#edfa52" stroke-width="1.5" stroke-linejoin="round"/><path d="M744.1,822 L744.9,827.2 L746.2,827 L747.5,826.8 L748.8,826.4 L749.3,828.1 L750.1,831 L751.4,831.2 L752.7,833.7 L754,833.8 L755.3,838.3 L756.6,835.4 L757.9,834.3 L759.2,838.1 L760.5,835.7 L761.8,842.4 L762.4,838.4 L763.1,840 L764.4,833.9 L765.7,831 L767,834.3 L768.3,838.5 L769.6,840.8 L770.9,838 L772.2,839.2 L772.7,838.4 L773.5,836.4 L774.8,838.2 L776.1,833.9 L776.8,834.7 L776.8,897 L776.1,896.3 L774.8,900.8 L773.5,899.2 L772.7,901.4 L772.2,902.1 L770.9,900.5 L769.6,903 L768.3,900.4 L767,899.1 L765.7,899 L764.4,900.3 L763.1,903.1 L761.8,904.3 L761,899.9 L760.5,898.4 L759.2,901.3 L757.9,898 L756.6,898.8 L755.3,901.3 L754,895.6 L752.7,895.9 L751.4,894.3 L750.1,894.9 L749.3,892.6 L748.8,891.3 L747.5,893 L746.2,894.5 L744.9,896 L744.1,893.1Z" fill="#a0d59e" stroke="#6cbf68" stroke-width="1.5" stroke-linejoin="round"/><line x1="175.6" y1="821.1" x2="175.6" y2="892.9" stroke="#6cbf68" stroke-width="1.6"/><line x1="290.9" y1="815.5" x2="290.9" y2="891.6" stroke="#6cbf68" stroke-width="1.6"/><line x1="306.3" y1="783.2" x2="306.3" y2="873.9" stroke="#eab94c" stroke-width="1.6"/><line x1="319.5" y1="781.5" x2="319.5" y2="863.5" stroke="#edfa52" stroke-width="1.6"/><line x1="347.6" y1="773.1" x2="347.6" y2="864.3" stroke="#edfa52" stroke-width="1.6"/><line x1="388.6" y1="783.4" x2="388.6" y2="861.3" stroke="#eab94c" stroke-width="1.6"/><line x1="394.5" y1="784.7" x2="394.5" y2="871.6" stroke="#eab94c" stroke-width="1.6"/><line x1="401.8" y1="787.9" x2="401.8" y2="867.5" stroke="#eab94c" stroke-width="1.6"/><line x1="417.9" y1="822.8" x2="417.9" y2="890.7" stroke="#6cbf68" stroke-width="1.6"/><line x1="434.0" y1="823.0" x2="434.0" y2="899.1" stroke="#edfa52" stroke-width="1.6"/><line x1="497.0" y1="822.8" x2="497.0" y2="893.2" stroke="#edfa52" stroke-width="1.6"/><line x1="501.4" y1="818.8" x2="501.4" y2="892.4" stroke="#edfa52" stroke-width="1.6"/><line x1="505.8" y1="825.4" x2="505.8" y2="896.2" stroke="#edfa52" stroke-width="1.6"/><line x1="510.2" y1="809.6" x2="510.2" y2="892.4" stroke="#edfa52" stroke-width="1.6"/><line x1="514.6" y1="825.8" x2="514.6" y2="893.9" stroke="#edfa52" stroke-width="1.6"/><line x1="524.8" y1="818.6" x2="524.8" y2="889.9" stroke="#6cbf68" stroke-width="1.6"/><line x1="529.2" y1="822.0" x2="529.2" y2="891.4" stroke="#6cbf68" stroke-width="1.6"/><line x1="533.6" y1="818.4" x2="533.6" y2="888.8" stroke="#6cbf68" stroke-width="1.6"/><line x1="538.0" y1="819.0" x2="538.0" y2="890.9" stroke="#6cbf68" stroke-width="1.6"/><line x1="541.7" y1="817.1" x2="541.7" y2="891.1" stroke="#6cbf68" stroke-width="1.6"/><line x1="548.3" y1="816.6" x2="548.3" y2="885.5" stroke="#6cbf68" stroke-width="1.6"/><line x1="605.7" y1="791.0" x2="605.7" y2="865.8" stroke="#edfa52" stroke-width="1.6"/><line x1="668.7" y1="783.2" x2="668.7" y2="865.8" stroke="#edfa52" stroke-width="1.6"/><line x1="88.2" y1="912.4" x2="809.3" y2="912.4" stroke="#b0b0b0" stroke-opacity="0.7" stroke-width="1.5" stroke-dasharray="5.2 2.1"/><line x1="88.2" y1="792.4" x2="809.3" y2="792.4" stroke="#b0b0b0" stroke-opacity="0.7" stroke-width="1.5" stroke-dasharray="5.2 2.1"/><line x1="88.2" y1="672.4" x2="809.3" y2="672.4" stroke="#b0b0b0" stroke-opacity="0.7" stroke-width="1.5" stroke-dasharray="5.2 2.1"/><line x1="197.0" y1="612.4" x2="197.0" y2="972.4" stroke="#b0b0b0" stroke-opacity="0.7" stroke-width="1.5" stroke-dasharray="5.2 2.1"/><line x1="307.3" y1="612.4" x2="307.3" y2="972.4" stroke="#b0b0b0" stroke-opacity="0.7" stroke-width="1.5" stroke-dasharray="5.2 2.1"/><line x1="417.5" y1="612.4" x2="417.5" y2="972.4" stroke="#b0b0b0" stroke-opacity="0.7" stroke-width="1.5" stroke-dasharray="5.2 2.1"/><line x1="527.8" y1="612.4" x2="527.8" y2="972.4" stroke="#b0b0b0" stroke-opacity="0.7" stroke-width="1.5" stroke-dasharray="5.2 2.1"/><line x1="638.0" y1="612.4" x2="638.0" y2="972.4" stroke="#b0b0b0" stroke-opacity="0.7" stroke-width="1.5" stroke-dasharray="5.2 2.1"/><line x1="748.3" y1="612.4" x2="748.3" y2="972.4" stroke="#b0b0b0" stroke-opacity="0.7" stroke-width="1.5" stroke-dasharray="5.2 2.1"/><path d="M120.2,853.1 L123.2,858.9 L126.1,864.8 L128.3,870.6 L130.5,867.7 L132.7,868.4 L134.9,870.6 L137.8,872.8 L140,876.5 L142.2,879.4 L144.4,876.5 L146.6,876.5 L149.5,875 L152.5,865.5 L155.4,864 L159.8,864 L162.7,862.6 L164.9,866.2 L167.8,857.4 L170,856 L172.2,863.3 L174.4,858.9 L177.4,861.8 L180.3,858.9 L183.2,854.5 L186.1,847.2 L189.1,839.9 L191.3,817.9 L193.5,812 L196.4,804.7 L199.3,794.5 L202,784.9 L203.7,794.5 L206.7,806.2 L209.6,820.8 L212.5,817.9 L215.4,817.9 L218.4,800.3 L219.8,793 L222.8,790.8 L225.7,791.5 L228.6,795.9 L233,798.1 L236,800.3 L240.3,803.2 L243.3,806.2 L246.2,812 L249.1,816.4 L252.1,811.3 L255,809.1 L257.9,813.5 L260.9,809.8 L263.8,816.4 L266.7,815 L269.6,819.4 L272.6,825.2 L275.5,831.1 L278.4,834 L282.8,837.7 L285.8,841.3 L288.7,845.7 L290.9,842.8 L293.1,847.2 L295.3,820.8 L297.5,817.9 L300.4,819.4 L302.6,829.6 L304.8,823.8 L307,817.9 L309.2,829.6 L311.4,836.9 L314.3,831.8 L316.5,829.6 L318.7,797.4 L320.9,793 L323.1,804.7 L325.3,797.4 L330,798.8 L332.9,797.4 L335.9,793 L338.8,787.1 L341,782 L343.2,788.6 L347.6,789.3 L350.5,793 L353.4,800.3 L355.6,810.6 L357.8,807.6 L360.8,803.2 L363.7,800.3 L365.9,782.7 L367.8,773.9 L369.6,779.8 L372.5,793 L375.4,798.8 L378.3,801.8 L381.3,807.6 L384.2,806.2 L387.1,819.4 L390.1,826.7 L393,834 L395.2,839.9 L398.8,835.5 L401.8,834.7 L404.7,829.6 L407.6,832.5 L409.1,834 L412,827.4 L415,828.9 L417.9,832.5 L420.8,844.3 L423,854.5 L426.7,850.1 L428.9,856 L432.5,854.5 L435.5,855.2 L438.4,854.5 L441.3,861.8 L445.7,864.8 L448.7,872.1 L450.9,882.3 L453.1,873.6 L456,878 L458.9,872.1 L462.6,868.4 L464.8,873.6 L467,878.7 L469.2,872.1 L472.8,871.4 L475,869.2 L478,863.3 L479.4,859.6 L482.3,860.4 L485.3,856 L488.2,850.1 L491.1,848.7 L495.5,850.1 L499.9,849.4 L504.3,847.2 L508,851.6 L511.6,847.2 L513.8,845.7 L516,851.6 L517.5,867.7 L519.7,847.2 L521.9,844.3 L526.3,838.4 L529.2,841.3 L530.7,847.2 L533.6,841.3 L538,844.3 L540.9,847.2 L543.9,842.8 L548.3,838.4 L552.7,836.9 L557.1,835.5 L561.5,836.9 L567.3,838.4 L572,831.1 L574.9,832.5 L577.9,831.1 L579.3,829.6 L582.3,822.3 L585.2,819.4 L588.1,821.6 L591,822.3 L595.4,819.4 L598.4,822.3 L601.3,817.9 L604.2,813.5 L607.2,800.3 L610.1,797.4 L613,790.1 L615.9,784.2 L620.3,780.5 L623.3,779.8 L624,785.7 L626.9,774.7 L630.6,776.9 L635,776.9 L637.9,781.3 L640.8,790.1 L643.8,794.5 L645.2,793 L648.2,798.8 L651.8,807.6 L654.8,819.4 L657,813.5 L659.9,812 L662.8,813.5 L665,817.2 L668.7,816.4 L670.9,814.2 L674.5,820.8 L677.5,828.1 L680.4,831.8 L683.3,829.6 L685.5,828.9 L687.7,838.4 L690.7,842.1 L692.1,839.9 L694.3,834 L696.5,838.4 L698.7,849.4 L700.9,845 L703.8,842.1 L706,842.8 L708.2,847.9 L711.2,839.9 L714.1,832.5 L717,822.3 L720,816.4 L722.2,808.4 L724.3,815 L727.3,820.8 L730.2,818.6 L734.6,817.9 L737.5,815 L739.7,819.4 L741.9,829.6 L744.9,841.3 L746.3,853.1 L749.3,847.2 L753.6,850.9 L758,857.4 L762.4,861.1 L765.4,859.6 L767.6,862.6 L769.8,858.9 L772.7,858.9 L777.1,856" fill="none" stroke="#000" stroke-width="2.8" stroke-linejoin="round" stroke-linecap="square"/></g><rect x="88.2" y="612.4" width="721.1" height="360.0" fill="none" stroke="#000" stroke-width="1.6" stroke-linejoin="miter"/><line x1="82.0" y1="912.4" x2="88.2" y2="912.4" stroke="#000" stroke-width="1.6"/><text x="75.4" y="924.0" font-size="31.3" text-anchor="end">37</text><line x1="82.0" y1="792.4" x2="88.2" y2="792.4" stroke="#000" stroke-width="1.6"/><text x="75.4" y="804.0" font-size="31.3" text-anchor="end">38</text><line x1="82.0" y1="672.4" x2="88.2" y2="672.4" stroke="#000" stroke-width="1.6"/><text x="75.4" y="684.0" font-size="31.3" text-anchor="end">39</text><line x1="197.0" y1="972.4" x2="197.0" y2="978.6" stroke="#000" stroke-width="1.6"/><text x="197.0" y="1008.2" font-size="31.3" text-anchor="middle">100</text><line x1="307.3" y1="972.4" x2="307.3" y2="978.6" stroke="#000" stroke-width="1.6"/><text x="307.3" y="1008.2" font-size="31.3" text-anchor="middle">200</text><line x1="417.5" y1="972.4" x2="417.5" y2="978.6" stroke="#000" stroke-width="1.6"/><text x="417.5" y="1008.2" font-size="31.3" text-anchor="middle">300</text><line x1="527.8" y1="972.4" x2="527.8" y2="978.6" stroke="#000" stroke-width="1.6"/><text x="527.8" y="1008.2" font-size="31.3" text-anchor="middle">400</text><line x1="638.0" y1="972.4" x2="638.0" y2="978.6" stroke="#000" stroke-width="1.6"/><text x="638.0" y="1008.2" font-size="31.3" text-anchor="middle">500</text><line x1="748.3" y1="972.4" x2="748.3" y2="978.6" stroke="#000" stroke-width="1.6"/><text x="748.3" y="1008.2" font-size="31.3" text-anchor="middle">600</text><text x="448.8" y="1044.7" font-size="31.0" text-anchor="middle">Session Time (mins)</text><text x="448.8" y="602.6" font-size="34.3" text-anchor="middle">Subject ID: PV2, Session 2</text><text transform="translate(23.4,792.4) rotate(-90)" x="0" y="0" font-size="31.0" text-anchor="middle">CBT (°C)</text></g><g><defs><clipPath id="cp3"><rect x="1025.7" y="612.4" width="721.2" height="360.0"/></clipPath></defs><g clip-path="url(#cp3)"><path d="M1058,824.7 L1058.6,824.2 L1059.9,827.7 L1061.2,832.1 L1062.5,835 L1063.1,837.2 L1063.8,836.3 L1065.1,841.4 L1066.4,840 L1067.7,840.8 L1069,839.9 L1070.3,841.2 L1071.6,843.6 L1072.9,842.9 L1074.2,844.3 L1075.5,845.1 L1076.3,843.1 L1076.8,840.6 L1078.1,836.8 L1079.4,839.2 L1080.7,835.6 L1082,833.9 L1083.3,832.2 L1084.6,831.2 L1085.9,824.6 L1086.2,819.7 L1086.2,889.4 L1085.9,892.2 L1084.6,897.5 L1083.3,897.9 L1082,899 L1080.7,900.1 L1079.4,902.8 L1078.1,899.5 L1076.8,903.9 L1075.5,910.7 L1074.8,910.4 L1074.2,911.1 L1072.9,908.4 L1071.6,908.1 L1070.3,905.6 L1069,904.3 L1067.7,905.3 L1066.4,903.7 L1065.1,904.3 L1063.8,898.3 L1063.1,898.7 L1062.5,897.4 L1061.2,896.5 L1059.9,893.8 L1058.6,890.7 L1058,891.4Z" fill="#a0d59e" stroke="#6cbf68" stroke-width="1.5" stroke-linejoin="round"/><path d="M1086.2,819.7 L1086.5,815.2 L1087.2,814 L1088.5,811.2 L1089.8,805.6 L1091.1,802.6 L1092.4,800.3 L1093.7,799.6 L1095,797.5 L1096.3,797.3 L1097.6,795.1 L1098.2,796.2 L1098.9,787.2 L1099,787.1 L1099,866.1 L1098.9,866.3 L1098.2,868 L1097.6,867.4 L1096.3,870.7 L1095,871.9 L1093.7,874.2 L1092.4,874 L1091.1,875.5 L1089.8,877.4 L1088.5,880.6 L1087.2,881 L1086.2,889.4Z" fill="#f3fe83" stroke="#edfa52" stroke-width="1.5" stroke-linejoin="round"/><path d="M1099,787.1 L1100.2,784.7 L1101.5,783.5 L1102.8,785.4 L1104.1,771.7 L1105.4,769.8 L1106.7,768.9 L1108,759.6 L1109.3,750.3 L1110.6,761.9 L1111.4,766.9 L1111.9,768.4 L1113.2,765.6 L1114.5,763 L1115.8,762.9 L1117.1,765.4 L1118.4,767.1 L1119.7,771.5 L1121,772 L1121.7,774.2 L1122.3,772.7 L1123.6,777.3 L1124.9,779.5 L1126.2,777.7 L1127.5,780.5 L1128.8,781.1 L1130.1,782.4 L1131.4,782.1 L1131.9,783 L1132.7,786.2 L1134,787.5 L1135.3,790.5 L1136.6,791.2 L1137.9,790.7 L1139.2,790.6 L1140.5,794.6 L1140.7,794.9 L1140.7,867.1 L1140.5,866.7 L1139.2,864.5 L1137.9,863.3 L1136.6,863.9 L1135.3,863 L1134,859.9 L1133.4,862.1 L1132.7,862 L1131.4,859.5 L1130.1,859 L1128.8,856.6 L1127.5,854.7 L1126.2,850.6 L1124.9,852.2 L1123.6,851.7 L1122.3,849.3 L1121.7,851.8 L1121,849.6 L1119.7,848.8 L1118.4,843.7 L1117.1,840.3 L1115.8,839.5 L1114.5,841.4 L1113.2,842.9 L1111.9,844.8 L1110.6,845.4 L1110,844.5 L1109.3,845.3 L1108,845.5 L1106.7,846.7 L1105.4,847.2 L1104.1,853.8 L1102.8,862.3 L1101.5,860.3 L1100.2,862.1 L1099.7,863.6 L1099,866.1Z" fill="#efce7f" stroke="#eab94c" stroke-width="1.5" stroke-linejoin="round"/><path d="M1140.7,794.9 L1141.8,796.4 L1143.1,795.8 L1143.7,793.2 L1144.4,794.9 L1145.7,798.2 L1147,797.7 L1148.3,800.5 L1149.6,801.1 L1150.9,804.3 L1152.2,805.3 L1153.5,804.8 L1154.8,805.6 L1156.1,808.6 L1156.8,806.4 L1157.4,808.6 L1158.7,809 L1160,813.1 L1161.3,816.4 L1162.6,816.9 L1163.9,819.1 L1165.2,818.1 L1165.6,819.6 L1166.5,819.6 L1167.8,819.7 L1169.1,821 L1170.4,818 L1171.7,819.4 L1173,816.7 L1174.3,819.1 L1175.6,818 L1176.9,817 L1177.3,816.7 L1178.2,817.7 L1179.5,815.2 L1180.8,818.4 L1182.1,817.6 L1183.4,821.4 L1184.7,820.5 L1186,823.3 L1187.3,822.2 L1188.6,818 L1189.9,816.5 L1190.5,816.7 L1191.2,816.3 L1192.5,818.6 L1193.8,820.9 L1195.1,818.7 L1196.4,819.4 L1197.7,817.3 L1199,821.4 L1200.3,819.5 L1201.6,821.3 L1202.9,817.1 L1203.7,817.4 L1204.2,818.7 L1205.2,821.1 L1205.2,890.2 L1204.2,890.4 L1202.9,889.4 L1202.3,889.9 L1201.6,892.6 L1200.3,889.7 L1199,890.6 L1197.7,886.2 L1196.4,888.2 L1195.1,887.6 L1193.8,890.5 L1192.5,888.8 L1191.2,886.9 L1189.9,886.5 L1189.1,887 L1188.6,886.5 L1187.3,889.8 L1186,890.3 L1184.7,888.8 L1183.4,889.7 L1182.1,886 L1180.8,886.4 L1180.3,885.5 L1179.5,883.6 L1178.2,886.9 L1176.9,886.7 L1175.6,887.6 L1174.3,888.4 L1173,885.8 L1171.7,888.3 L1170.4,886.9 L1169.1,889.8 L1167.8,888.6 L1167.1,888.5 L1166.5,888.2 L1165.2,886.6 L1163.9,888 L1162.6,886.2 L1161.3,884.8 L1160,882.7 L1158.7,879.9 L1158.3,881.1 L1157.4,881.1 L1156.1,881.3 L1154.8,877.5 L1153.9,876.7 L1153.5,875.8 L1152.2,875.7 L1150.9,875.1 L1149.6,872.3 L1148.3,871.8 L1147,869 L1145.7,869.5 L1145.1,866.5 L1144.4,867.4 L1143.1,869.1 L1141.8,868.9 L1140.7,867.1Z" fill="#f3fe83" stroke="#edfa52" stroke-width="1.5" stroke-linejoin="round"/><path d="M1182.5,818.7 L1183.4,821.4 L1184.7,820.5 L1185.4,822 L1185.4,889.6 L1184.7,888.8 L1183.4,889.7 L1182.5,887Z" fill="#a0d59e" stroke="#6cbf68" stroke-width="1.5" stroke-linejoin="round"/><path d="M1205.2,821.1 L1205.5,821.9 L1205.9,824 L1206.8,824.4 L1208.1,823.9 L1209.4,825.3 L1210.7,823.6 L1212,822.8 L1213.3,821.5 L1214,822.5 L1214.6,822.4 L1215.9,822.2 L1217.2,823.2 L1218.5,823.5 L1219.8,826.4 L1221.1,828.3 L1222.4,827 L1223.7,829.2 L1225,829 L1226.3,827.1 L1227.2,828.4 L1227.6,825.4 L1228.6,825.1 L1228.6,894.6 L1227.6,892.4 L1226.3,893.8 L1225,897 L1224.2,897.3 L1223.7,897.5 L1222.4,894.3 L1221.1,895.7 L1219.8,893.8 L1218.5,892.6 L1217.2,893.3 L1215.9,893.2 L1215.4,894.3 L1214.6,893.7 L1213.3,892.4 L1212,892.8 L1210.7,892.7 L1209.4,893.6 L1208.1,891.8 L1206.8,891.9 L1205.5,890.2 L1205.2,890.2Z" fill="#a0d59e" stroke="#6cbf68" stroke-width="1.5" stroke-linejoin="round"/><path d="M1228.6,825.1 L1228.9,825 L1229.4,821.1 L1230.2,823.9 L1231.5,816.1 L1232.8,818.8 L1234.1,819.9 L1235.4,818.7 L1236.7,816.8 L1237.4,818.1 L1238,819.4 L1239.3,819.5 L1240.6,823.8 L1241.9,824.9 L1243.2,822.1 L1244.5,823.8 L1245.8,823.2 L1247.1,819.4 L1248.4,818.6 L1249.1,818.1 L1249.7,818.3 L1251,815.8 L1252.3,817.7 L1253.6,816.7 L1254.9,816.2 L1256.2,819.9 L1257.5,814.4 L1258.8,814.4 L1259.4,815.2 L1260.1,816.6 L1261.4,816.9 L1262.7,819.2 L1264,818.6 L1265.3,820.8 L1266.6,823.1 L1267,822.3 L1267,892.6 L1266.6,893.4 L1265.3,891.3 L1264,889.4 L1262.7,890.7 L1261.4,888.7 L1260.1,888.4 L1258.8,885.4 L1257.9,885.5 L1257.5,884.4 L1256.2,890.2 L1254.9,886.9 L1253.6,887.7 L1252.3,888.9 L1251,887.4 L1249.7,890.3 L1248.4,889.9 L1247.7,891.4 L1247.1,888.8 L1245.8,891.1 L1244.5,892 L1243.2,890.7 L1241.9,895 L1240.6,894.9 L1239.3,891.5 L1238,892.2 L1237.4,891.4 L1236.7,889.8 L1235.4,891.3 L1234.1,892 L1232.8,890.5 L1231.5,887.8 L1230.2,895.5 L1228.9,895.2 L1228.6,894.6Z" fill="#f3fe83" stroke="#edfa52" stroke-width="1.5" stroke-linejoin="round"/><path d="M1243.3,822.2 L1244.5,823.8 L1245.8,823.2 L1246.2,822.1 L1246.2,890.4 L1245.8,891.1 L1244.5,892 L1243.3,890.7Z" fill="#a0d59e" stroke="#6cbf68" stroke-width="1.5" stroke-linejoin="round"/><path d="M1267,822.3 L1267.9,820.7 L1269.2,822.3 L1270.5,825.6 L1271.4,825.5 L1271.8,825.5 L1273.1,823.3 L1274.4,822.6 L1275.7,821.9 L1277,821.8 L1277.3,821.4 L1277.3,890.8 L1277,891 L1275.7,890.8 L1274.4,891.4 L1273.1,892.1 L1271.8,894.4 L1271.4,894.3 L1270.5,894.8 L1269.2,891.8 L1267.9,890.7 L1267,892.6Z" fill="#a0d59e" stroke="#6cbf68" stroke-width="1.5" stroke-linejoin="round"/><path d="M1277.3,821.4 L1278.3,820.1 L1278.7,819.6 L1279.6,817.6 L1280.9,818.6 L1282.2,818.1 L1283.5,819.2 L1284.8,819.4 L1286.1,823.1 L1287.4,823.6 L1288.7,825.4 L1290,823.5 L1291.3,824.4 L1291.9,822.5 L1292.6,820.4 L1293.9,823.2 L1295.2,821.8 L1296.3,826.1 L1296.3,893.5 L1295.2,889.6 L1293.9,891.4 L1293.4,891.4 L1292.6,889 L1291.3,893.3 L1290,892.4 L1288.7,894.2 L1287.4,892 L1286.1,891.9 L1284.8,888.7 L1283.5,888.8 L1282.2,887.7 L1280.9,887.7 L1280.2,888.5 L1279.6,886.8 L1278.3,889.8 L1277.3,890.8Z" fill="#f3fe83" stroke="#edfa52" stroke-width="1.5" stroke-linejoin="round"/><path d="M1296.3,826.1 L1296.5,826.9 L1297.8,825.9 L1299.1,826.3 L1300.4,823.5 L1301.7,823.9 L1303,826.8 L1304.3,827.9 L1305.1,828.4 L1305.6,825.7 L1306.9,828.4 L1308.2,828.2 L1309.5,827.9 L1310.8,831.8 L1312.1,831.1 L1313.4,831 L1313.9,832.8 L1314.7,833.5 L1316,834.2 L1317.3,834.8 L1318.6,835.4 L1319.9,837 L1321.2,834.2 L1322.5,838.7 L1323.8,836.7 L1325.1,835.8 L1326.4,837.1 L1327.7,835.2 L1328.5,835.7 L1329,837 L1330.3,836.5 L1331.6,838.7 L1332.9,835.9 L1334.2,836.8 L1335.5,837.8 L1336.8,837.2 L1338.1,838 L1338.8,837.2 L1339.4,837.7 L1340.7,838.9 L1342,837.9 L1343.3,837.2 L1344.6,840.5 L1345.9,843.4 L1347.2,840.3 L1348.5,842.4 L1349.8,841.1 L1351.1,839.8 L1352,840.1 L1352.4,842.5 L1353.7,840.7 L1355,839 L1356.3,841.3 L1357.6,836.4 L1358.9,838.3 L1360.2,840.2 L1360.8,840.1 L1361.5,839.4 L1362.8,838 L1364.1,840.4 L1365.4,839 L1366.7,841.7 L1368,838.1 L1369.3,839.5 L1370.6,837.6 L1371.9,840.9 L1372.5,839.4 L1373.2,839.6 L1374.5,840 L1375.8,837.3 L1377.1,839 L1378.4,837.6 L1379.7,838.8 L1381,841.5 L1382.3,837.2 L1382.7,840.1 L1383.6,841 L1384.9,839.7 L1385.7,837.2 L1386.2,833.5 L1387.5,833 L1388.8,829.1 L1390.1,824.9 L1391.4,827.1 L1392.7,825.8 L1393.3,823.8 L1393.3,891.7 L1392.7,893.2 L1391.4,894.7 L1390.1,892.8 L1388.8,896.5 L1387.5,898.8 L1386.2,897.4 L1385.7,900.2 L1384.9,903 L1383.6,904.6 L1382.3,901.8 L1381,907.8 L1379.7,905 L1378.4,903.9 L1377.1,905.3 L1375.8,903.1 L1375.4,904.6 L1374.5,905.5 L1373.2,904.9 L1371.9,906 L1370.6,902.6 L1369.3,904.2 L1368,902.3 L1366.7,905.5 L1365.4,902.4 L1364.1,903.5 L1363.7,903.1 L1362.8,901.6 L1361.5,903.9 L1360.2,905.6 L1358.9,904.5 L1357.6,902.2 L1356.3,906.7 L1355,903.1 L1353.7,904.6 L1352.4,906.4 L1351.1,903.8 L1350.5,904.6 L1349.8,905.7 L1348.5,907.9 L1347.2,906.8 L1345.9,910.8 L1344.6,907.8 L1343.3,904.6 L1342,904.5 L1340.7,905 L1339.4,903.3 L1338.1,902.7 L1337.3,901.6 L1336.8,901.1 L1335.5,901.8 L1334.2,900.9 L1332.9,901.1 L1331.6,903.7 L1330.3,901.3 L1329,901.6 L1328.5,900.2 L1327.7,899.8 L1326.4,901.8 L1325.1,900.6 L1323.8,901.1 L1322.5,901.6 L1321.2,896.3 L1319.9,898.1 L1318.6,897.9 L1317.3,899.4 L1316,900.9 L1315.3,901.6 L1314.7,901.4 L1313.4,898.9 L1312.1,899 L1310.8,899.7 L1309.5,896.2 L1308.2,896.6 L1306.9,896.8 L1305.6,893.8 L1304.3,895.8 L1303,894.7 L1302.2,894.3 L1301.7,891.8 L1300.4,891.3 L1299.1,893.7 L1297.8,892.9 L1296.5,894.3 L1296.3,893.5Z" fill="#a0d59e" stroke="#6cbf68" stroke-width="1.5" stroke-linejoin="round"/><path d="M1393.3,823.8 L1394,821.2 L1394.4,819.6 L1395.3,818.3 L1396.6,819.1 L1397.9,818.7 L1399.2,815.6 L1400.5,815.4 L1401.8,814.9 L1403.1,814.9 L1404.4,809.8 L1405.7,807.9 L1407,805.6 L1407.6,806.4 L1408.3,805.9 L1409.6,801.2 L1410.9,804 L1412.2,802.5 L1413.5,798.3 L1414.8,796.7 L1416.1,795.9 L1417.4,793.6 L1417.9,793.2 L1418.6,787.8 L1418.6,861.8 L1417.4,862.4 L1416.1,865.4 L1414.8,868.5 L1413.5,870.8 L1412.2,875.7 L1410.9,876.9 L1409.6,873.6 L1408.3,877.9 L1407.6,878.2 L1407,876.7 L1405.7,877.8 L1404.4,878.3 L1403.1,882.3 L1401.8,882.8 L1400.5,883.7 L1399.2,884.4 L1397.9,887.5 L1396.6,888 L1395.3,887.2 L1394.4,888.5 L1394,889.7 L1393.3,891.7Z" fill="#f3fe83" stroke="#edfa52" stroke-width="1.5" stroke-linejoin="round"/><path d="M1418.6,787.8 L1418.7,787.1 L1419.3,781.5 L1420,778.9 L1421.3,783.1 L1422.6,777.5 L1423.9,782.4 L1425.2,784.2 L1426.5,781 L1427.8,782.8 L1428.1,784.2 L1428.1,861.7 L1427.8,861.5 L1426.5,858.5 L1425.2,860.4 L1423.9,857.2 L1422.6,853.3 L1421.3,860.2 L1420,857.3 L1419.3,860.6 L1418.7,861.8 L1418.6,861.8Z" fill="#efce7f" stroke="#eab94c" stroke-width="1.5" stroke-linejoin="round"/><path d="M1428.1,784.2 L1429.1,788.4 L1429.6,794.7 L1430.4,796.2 L1431.7,796.8 L1433,799.4 L1434.3,799.2 L1435.6,794.4 L1436.9,790.6 L1438.2,788.1 L1439.5,793.5 L1440.8,790.9 L1441.3,791.8 L1442.1,792.1 L1443.4,789 L1444.3,790.3 L1444.7,790 L1445,790 L1445,863.1 L1444.7,863.3 L1443.4,862.2 L1442.1,864.9 L1441.3,864.3 L1440.8,863.7 L1439.5,866.9 L1438.2,862.2 L1436.9,865.3 L1435.6,867.3 L1434.3,870.4 L1433,872.9 L1432.5,872.3 L1431.7,870.4 L1430.4,868.1 L1429.1,862 L1428.1,861.7Z" fill="#f3fe83" stroke="#edfa52" stroke-width="1.5" stroke-linejoin="round"/><path d="M1445,790 L1446,789.9 L1447.3,792.8 L1448.6,790.5 L1449.9,792.4 L1451.2,791.9 L1452.5,792.5 L1453,793.5 L1453,864.3 L1452.5,861.9 L1451.2,861.4 L1449.9,862.7 L1448.6,861.6 L1447.3,864.7 L1446,862.5 L1445,863.1Z" fill="#efce7f" stroke="#eab94c" stroke-width="1.5" stroke-linejoin="round"/><path d="M1453,793.5 L1453.8,795.1 L1454.5,796.2 L1455.1,795.6 L1456.4,797 L1457.7,798 L1459,801.1 L1460.3,803.1 L1461.6,808.8 L1462.9,812.9 L1464.2,813.6 L1465.5,813.8 L1466.2,812.3 L1466.8,813.5 L1468.1,813.8 L1469.4,818.3 L1470.7,819.8 L1472,821.4 L1473.3,824.2 L1474.6,821.4 L1475.9,820.5 L1476.5,822.5 L1477.2,824.1 L1478.5,823.3 L1479.8,821.6 L1481.1,823.2 L1482.4,824.8 L1483.1,825.5 L1483.7,827.1 L1483.8,827.1 L1483.8,897.9 L1483.7,897.9 L1482.4,896 L1481.1,895.7 L1479.8,894 L1478.5,895.3 L1477.9,894.3 L1477.2,895.7 L1475.9,891.8 L1474.6,892.4 L1473.3,894.8 L1472,891.2 L1470.7,881.8 L1469.4,884 L1468.1,881 L1467.7,881.1 L1466.8,882 L1465.5,883 L1464.2,882.6 L1462.9,882.4 L1461.6,880.5 L1460.3,876.9 L1459,877.1 L1457.7,876.2 L1456.4,874.3 L1455.1,871.1 L1454.5,870.9 L1453.8,867.9 L1453,864.3Z" fill="#f3fe83" stroke="#edfa52" stroke-width="1.5" stroke-linejoin="round"/><path d="M1483.8,827.1 L1485,827.8 L1486.3,831.5 L1487.6,834.8 L1488.2,835.7 L1488.9,836.3 L1490.2,839 L1491.5,838.3 L1492.8,839.9 L1494.1,842.5 L1495.4,841.7 L1496.7,842.4 L1498,842.3 L1498.5,843.1 L1499.3,842.6 L1500.6,842.8 L1501.9,839.5 L1503.2,840.5 L1504.5,841.9 L1505.8,842.6 L1507.1,844.6 L1508,846 L1508.4,846.3 L1509,846 L1509.7,846.7 L1511,843 L1512.3,842.6 L1513.6,841.5 L1514.9,842.4 L1516.2,840.4 L1517.5,842.1 L1518.8,841.2 L1520.1,840.8 L1521.4,843.6 L1522.7,841.9 L1524,840.1 L1525.3,839.2 L1526.6,839.7 L1527.9,842.1 L1529.2,842.5 L1530.5,841.6 L1531.8,844.4 L1533.1,840.7 L1534.4,844.6 L1535.7,846 L1537,846.4 L1538.3,845.7 L1539.6,843.5 L1540.9,844.7 L1542.2,847 L1543.5,847.3 L1544.8,846.5 L1546.1,848.4 L1547.4,849.7 L1548.7,847.8 L1550,847.3 L1551.3,847.6 L1552.6,843.1 L1553.9,847.4 L1555.2,846.2 L1556.5,847.4 L1557.8,849.3 L1559.1,846.5 L1560.4,847.8 L1561.7,847.6 L1563,851.3 L1564.3,844.4 L1565.6,847.1 L1566.9,847.3 L1568.2,845.8 L1569.5,845.8 L1570.8,846 L1572.1,845.9 L1573.4,845.8 L1574.7,845.8 L1576,844.7 L1577.3,844.3 L1578.6,844.2 L1579.9,846.6 L1581.2,843.3 L1582.5,845.9 L1583.8,846.7 L1585.1,845.5 L1586.4,845.1 L1587.7,848 L1589,845.5 L1590.3,846 L1591.6,842.8 L1592.9,843.3 L1594.2,841.2 L1595.5,841.1 L1596.8,838.7 L1598.1,844.1 L1599.4,843.9 L1600.3,844.5 L1600.7,844.3 L1602,842.8 L1603.3,845.6 L1604.6,846.6 L1605.9,844.8 L1607.2,846.4 L1608.5,843 L1609.8,842.8 L1611.1,843.4 L1612,843.1 L1612.4,844.3 L1613.7,844.4 L1615,843 L1616.3,844.5 L1617.6,841.8 L1618.9,842.1 L1620.2,845.5 L1621.5,845.4 L1622.3,844.5 L1622.8,847 L1624.1,845.7 L1625.4,845.3 L1626.7,851.1 L1628,848.1 L1629.3,843.8 L1630.6,843.3 L1631.1,843.1 L1631.9,841.3 L1633.2,841 L1634.5,843.4 L1635.8,843.5 L1637.1,840.3 L1638.4,840.6 L1639.7,839.7 L1641,841.5 L1642.3,838.3 L1643.6,837.6 L1644.9,838.9 L1645.7,840.1 L1646.2,841.7 L1647.5,838.7 L1648.8,841.9 L1650.1,841.5 L1651.4,837.4 L1652.7,835.1 L1654,832.9 L1654.5,834.3 L1655.3,835.5 L1656.6,835.9 L1657.9,837.8 L1659.2,838.7 L1660.5,839 L1661.8,840.4 L1663.1,840.3 L1664.4,839.2 L1665.7,833.1 L1666.2,835.7 L1667,835.5 L1668.3,833.8 L1669.6,830.4 L1670.9,825.6 L1672.2,828.1 L1673.5,827.7 L1674.8,826.5 L1676.1,822.9 L1677.4,826.5 L1678.7,824.4 L1680,826.5 L1680.9,826.9 L1681.3,826.5 L1682.6,823.1 L1683.9,825.4 L1685.2,822.2 L1685.5,822.3 L1685.5,890.3 L1685.2,889.6 L1683.9,891.4 L1682.6,887.9 L1681.3,889.9 L1680.9,889.9 L1680,890.3 L1678.7,889.5 L1677.4,892.9 L1676.1,890.2 L1674.8,893.5 L1673.5,894.4 L1672.2,894.4 L1670.9,891.6 L1669.6,895 L1668.3,896.6 L1667,896.6 L1666.2,895.8 L1665.7,893.2 L1664.4,899.6 L1663.1,901.2 L1661.8,904.3 L1660.5,902.9 L1659.2,902.4 L1657.9,901.4 L1656.6,899.4 L1656,898.7 L1655.3,899.7 L1654,897.9 L1652.7,899.4 L1651.4,901 L1650.1,904.5 L1648.8,905.8 L1647.5,903.4 L1646.2,907.2 L1645.7,906 L1644.9,904.8 L1643.6,903.5 L1642.3,904.2 L1641,907.4 L1639.7,905.6 L1638.4,906.5 L1637.1,906.2 L1635.8,908.9 L1634.5,908.1 L1634,906 L1633.2,906.5 L1631.9,908.3 L1630.6,911.6 L1629.3,912.7 L1628,917.2 L1626.7,917.6 L1625.4,912.2 L1624.1,912.9 L1622.8,914.6 L1621.5,912.9 L1620.2,912.4 L1618.9,908.5 L1617.6,907.8 L1616.3,911.2 L1615,910.3 L1613.7,912.4 L1612.4,913 L1612,911.9 L1611.1,911.8 L1609.8,910.5 L1608.5,910.1 L1607.2,912.9 L1605.9,910.8 L1604.6,913.3 L1603.3,912.9 L1602,910.7 L1600.7,912.9 L1600.3,913.4 L1599.4,911.9 L1598.1,910.8 L1596.8,904.1 L1595.5,905.4 L1594.2,905.1 L1592.9,906.7 L1591.6,905.9 L1590.3,909.2 L1589,909.8 L1587.7,913.6 L1586.4,912.1 L1585.6,913.4 L1585.1,913 L1583.8,913.7 L1582.5,912.9 L1581.2,910.3 L1579.9,913.7 L1578.6,911.8 L1577.3,912 L1576,912.5 L1574.7,913.6 L1573.9,913.4 L1573.4,913.5 L1572.1,913.3 L1570.8,913.4 L1569.5,913.2 L1568.2,913.2 L1566.9,915.3 L1565.6,915.5 L1564.3,913.1 L1563,920.3 L1562.2,916.3 L1561.7,916.5 L1560.4,916.2 L1559.1,914.8 L1557.8,917.4 L1556.5,915.5 L1555.2,914.3 L1553.9,915.1 L1552.6,910.1 L1551.9,913.4 L1551.3,914.1 L1550,913.5 L1548.7,913.8 L1547.4,916 L1546.1,915 L1544.8,913.1 L1543.5,914 L1542.2,913.6 L1540.9,911.4 L1540.2,911.9 L1539.6,910.1 L1538.3,912.4 L1537,913 L1535.7,912.7 L1534.4,911.3 L1533.1,906.8 L1531.8,910 L1530.5,907.1 L1530,907.5 L1529.2,908 L1527.9,907.6 L1526.6,905.3 L1525.3,904.5 L1524,903.9 L1522.7,906.3 L1521.4,908.7 L1520.1,906.5 L1518.8,907.6 L1517.5,909.1 L1516.2,908 L1514.9,910.7 L1513.6,910.2 L1512.3,910.9 L1511,911 L1509.7,914.3 L1509,913.4 L1508.4,913.7 L1508,913.4 L1507.1,913.3 L1505.8,913.3 L1504.5,914.6 L1503.2,913.1 L1501.9,910 L1501.4,910.4 L1500.6,911.8 L1499.3,911.2 L1498,911.1 L1496.7,911.9 L1495.4,911 L1494.1,911.6 L1492.8,908.8 L1491.5,907.2 L1490.2,907.8 L1488.9,905.1 L1488.2,904.6 L1487.6,903.9 L1486.3,901.3 L1485,898.2 L1483.8,897.9Z" fill="#a0d59e" stroke="#6cbf68" stroke-width="1.5" stroke-linejoin="round"/><path d="M1685.5,822.3 L1686.5,822.6 L1687.8,819.5 L1689.1,816.6 L1690.4,817.7 L1691.1,816.7 L1691.7,816.1 L1693,818.6 L1694.3,818.8 L1695.6,820.5 L1696.9,822.6 L1698.2,824.7 L1699.5,823.2 L1699.9,823.1 L1699.9,891.1 L1699.5,891.3 L1698.2,895.5 L1696.9,895.8 L1695.6,893.3 L1694.3,890.7 L1693,889.7 L1692.6,888.5 L1691.7,887.5 L1690.4,889 L1689.1,887.1 L1687.8,889.5 L1686.5,892.5 L1685.5,890.3Z" fill="#f3fe83" stroke="#edfa52" stroke-width="1.5" stroke-linejoin="round"/><path d="M1699.9,823.1 L1700.8,822.9 L1702.1,819.6 L1703.4,819.5 L1703.6,819.3 L1703.6,887.9 L1703.4,888.1 L1702.1,887.7 L1700.8,890.6 L1699.9,891.1Z" fill="#a0d59e" stroke="#6cbf68" stroke-width="1.5" stroke-linejoin="round"/><path d="M1703.6,819.3 L1704.3,818.1 L1704.7,819.5 L1706,820.5 L1707.3,816.7 L1708.6,821.6 L1709.9,818.4 L1711.2,820.6 L1712.5,821.4 L1713.1,821.1 L1713.1,890.9 L1712.5,891.6 L1711.2,890 L1709.9,886.8 L1708.6,889 L1707.3,884.5 L1706,888.7 L1704.7,888.2 L1704.3,887 L1703.6,887.9Z" fill="#f3fe83" stroke="#edfa52" stroke-width="1.5" stroke-linejoin="round"/><line x1="1101.2" y1="782.8" x2="1101.2" y2="861.7" stroke="#edfa52" stroke-width="1.6"/><line x1="1134.9" y1="788.5" x2="1134.9" y2="862.9" stroke="#edfa52" stroke-width="1.6"/><line x1="1165.6" y1="818.6" x2="1165.6" y2="888.2" stroke="#6cbf68" stroke-width="1.6"/><line x1="1170.0" y1="817.9" x2="1170.0" y2="888.7" stroke="#6cbf68" stroke-width="1.6"/><line x1="1195.7" y1="818.0" x2="1195.7" y2="888.9" stroke="#6cbf68" stroke-width="1.6"/><line x1="1204.4" y1="818.3" x2="1204.4" y2="891.4" stroke="#6cbf68" stroke-width="1.6"/><line x1="1240.3" y1="821.9" x2="1240.3" y2="895.2" stroke="#6cbf68" stroke-width="1.6"/><line x1="1263.0" y1="818.0" x2="1263.0" y2="891.4" stroke="#6cbf68" stroke-width="1.6"/><line x1="1280.9" y1="817.6" x2="1280.9" y2="888.7" stroke="#6cbf68" stroke-width="1.6"/><line x1="1289.0" y1="824.0" x2="1289.0" y2="894.8" stroke="#6cbf68" stroke-width="1.6"/><line x1="1293.1" y1="820.4" x2="1293.1" y2="891.5" stroke="#6cbf68" stroke-width="1.6"/><line x1="1435.5" y1="793.9" x2="1435.5" y2="868.7" stroke="#eab94c" stroke-width="1.6"/><line x1="1437.7" y1="788.2" x2="1437.7" y2="864.5" stroke="#eab94c" stroke-width="1.6"/><line x1="1439.9" y1="791.8" x2="1439.9" y2="867.0" stroke="#eab94c" stroke-width="1.6"/><line x1="1442.1" y1="791.1" x2="1442.1" y2="865.9" stroke="#eab94c" stroke-width="1.6"/><line x1="1471.4" y1="819.6" x2="1471.4" y2="887.5" stroke="#6cbf68" stroke-width="1.6"/><line x1="1473.5" y1="822.7" x2="1473.5" y2="895.4" stroke="#6cbf68" stroke-width="1.6"/><line x1="1476.5" y1="821.5" x2="1476.5" y2="894.5" stroke="#6cbf68" stroke-width="1.6"/><line x1="1478.7" y1="822.1" x2="1478.7" y2="896.1" stroke="#6cbf68" stroke-width="1.6"/><line x1="1481.6" y1="822.8" x2="1481.6" y2="896.8" stroke="#6cbf68" stroke-width="1.6"/><line x1="1695.5" y1="819.4" x2="1695.5" y2="894.1" stroke="#6cbf68" stroke-width="1.6"/><line x1="1698.4" y1="823.4" x2="1698.4" y2="895.7" stroke="#6cbf68" stroke-width="1.6"/><line x1="1713.8" y1="819.7" x2="1713.8" y2="891.1" stroke="#6cbf68" stroke-width="1.6"/><line x1="1025.7" y1="912.4" x2="1746.9" y2="912.4" stroke="#b0b0b0" stroke-opacity="0.7" stroke-width="1.5" stroke-dasharray="5.2 2.1"/><line x1="1025.7" y1="792.4" x2="1746.9" y2="792.4" stroke="#b0b0b0" stroke-opacity="0.7" stroke-width="1.5" stroke-dasharray="5.2 2.1"/><line x1="1025.7" y1="672.4" x2="1746.9" y2="672.4" stroke="#b0b0b0" stroke-opacity="0.7" stroke-width="1.5" stroke-dasharray="5.2 2.1"/><line x1="1144.0" y1="612.4" x2="1144.0" y2="972.4" stroke="#b0b0b0" stroke-opacity="0.7" stroke-width="1.5" stroke-dasharray="5.2 2.1"/><line x1="1268.5" y1="612.4" x2="1268.5" y2="972.4" stroke="#b0b0b0" stroke-opacity="0.7" stroke-width="1.5" stroke-dasharray="5.2 2.1"/><line x1="1393.0" y1="612.4" x2="1393.0" y2="972.4" stroke="#b0b0b0" stroke-opacity="0.7" stroke-width="1.5" stroke-dasharray="5.2 2.1"/><line x1="1517.4" y1="612.4" x2="1517.4" y2="972.4" stroke="#b0b0b0" stroke-opacity="0.7" stroke-width="1.5" stroke-dasharray="5.2 2.1"/><line x1="1641.9" y1="612.4" x2="1641.9" y2="972.4" stroke="#b0b0b0" stroke-opacity="0.7" stroke-width="1.5" stroke-dasharray="5.2 2.1"/><path d="M1058,881.1 L1059.4,882.6 L1060.9,880.4 L1063.1,884.1 L1065.3,887 L1068.2,887 L1070.4,885.5 L1073.3,884.8 L1076.3,882.6 L1079.2,876.7 L1082.1,868 L1085.1,857.7 L1088,855.5 L1090.9,851.8 L1093.8,848.9 L1096.8,843.1 L1099.7,841.6 L1102.6,837.2 L1104.8,835.7 L1107,838.7 L1109.2,843.1 L1111.4,848.9 L1113.6,848.9 L1115.8,841.6 L1118.8,835.7 L1121.7,832.8 L1123.9,828.4 L1126.1,831.3 L1130.5,831.3 L1136.3,831.3 L1145.1,831.3 L1147.3,819.6 L1149.5,834.3 L1152.4,843.1 L1155.4,826.9 L1157.6,834.3 L1161.2,837.9 L1164.2,844.5 L1167.8,849.6 L1170,837.2 L1173,843.1 L1176.6,849.6 L1180.3,831.3 L1183.2,831.3 L1184.7,834.3 L1186.1,825.5 L1188.3,816.7 L1190.5,821.1 L1193.5,831.3 L1196.4,844.5 L1198.6,846 L1200.1,828.4 L1201.5,841.6 L1203.7,844.5 L1206.6,850.4 L1209.6,866.5 L1212.5,875.3 L1215.4,885.5 L1217.6,885.5 L1219.8,866.5 L1222.8,859.2 L1225.7,856.2 L1227.9,854.8 L1230.1,857.7 L1233,862.1 L1235.9,868 L1238.9,869.4 L1241.1,869.4 L1243.3,885.5 L1244.7,894.3 L1247.7,885.5 L1251.3,875.3 L1254.3,869.4 L1256.5,867.2 L1259.4,860.6 L1262.3,851.8 L1267,848.9 L1270.7,848.9 L1272.9,844.5 L1275.8,838.7 L1278.7,834.3 L1281.6,832.8 L1283.8,829.1 L1286,828.4 L1289,827.7 L1291.9,827.7 L1293.4,829.9 L1296.3,832.8 L1298.5,834.3 L1300.7,830.6 L1303.6,830.6 L1306.6,831.3 L1309.5,829.9 L1312.4,829.1 L1315.3,829.1 L1317.5,835.7 L1321.2,839.4 L1324.1,843.1 L1327.1,847.4 L1330,849.6 L1334.4,848.9 L1336.6,854.8 L1338.8,863.6 L1341.7,872.3 L1344.6,877.5 L1347.6,876 L1350.5,872.3 L1353.4,873.8 L1356.4,875.3 L1359.3,874.5 L1361.5,873.8 L1363.7,876 L1366.6,876.7 L1368.8,878.9 L1371,875.3 L1373.9,873.1 L1376.9,871.6 L1379.8,871.6 L1382.7,869.4 L1387.1,865 L1390.1,857.7 L1393,851.8 L1395.9,844.5 L1398.8,838.7 L1401.8,837.9 L1404.7,839.4 L1407.6,832.8 L1410.6,829.1 L1413.5,827.7 L1415.7,825.5 L1417.9,821.1 L1420.8,815.2 L1422.3,812.3 L1423.7,816 L1426.7,815.2 L1429.6,812.3 L1432.5,808.6 L1436.9,807.2 L1439.1,800.6 L1441.3,796.2 L1444.3,796.2 L1447.2,794 L1449.4,796.2 L1451.6,790.3 L1454.5,788.1 L1457.4,787.4 L1460.4,788.1 L1463.3,796.2 L1466.2,805 L1469.2,807.9 L1472.1,813.8 L1476.5,818.1 L1479.4,822.5 L1482.3,831.3 L1485.3,840.1 L1488.2,848.9 L1491.1,848.9 L1493.3,859.2 L1495.5,868 L1498.5,870.2 L1501.4,869.4 L1504.3,870.9 L1507.2,872.3 L1509,870.9 L1510.9,866.5 L1513.9,859.2 L1516.8,858.4 L1521.2,859.2 L1524.1,863.6 L1526.3,870.9 L1529.2,872.3 L1532.9,877.5 L1536.6,875.3 L1540.2,872.3 L1544.6,870.2 L1547.6,868 L1550.5,861.4 L1553.4,859.2 L1557.8,856.2 L1562.2,855.5 L1566.6,853.3 L1569.5,855.5 L1573.9,854 L1578.3,855.5 L1582.7,855.5 L1588.6,857.7 L1591.5,856.2 L1595.2,854 L1597.4,860.6 L1599.6,866.5 L1603.2,869.4 L1607.6,870.9 L1610.5,872.3 L1613.5,877.5 L1617.9,878.9 L1622.3,878.9 L1625.2,878.2 L1628.1,878.9 L1630.3,874.5 L1632.5,877.5 L1635.4,881.1 L1638.4,881.1 L1640.6,883.3 L1644.2,881.1 L1648.6,881.1 L1651.6,882.6 L1654.5,880.4 L1660.3,878.2 L1666.2,878.2 L1672.1,878.2 L1676.5,879.7 L1680.9,878.2 L1685.3,876.7 L1689.6,870.9 L1692.6,867.2 L1697,865 L1701.4,862.1 L1704.3,866.5 L1707.2,865 L1708.7,862.8 L1711.6,864.3 L1714.8,867.2" fill="none" stroke="#000" stroke-width="2.8" stroke-linejoin="round" stroke-linecap="square"/></g><rect x="1025.7" y="612.4" width="721.2" height="360.0" fill="none" stroke="#000" stroke-width="1.6" stroke-linejoin="miter"/><line x1="1019.5" y1="912.4" x2="1025.7" y2="912.4" stroke="#000" stroke-width="1.6"/><text x="1012.9" y="924.0" font-size="31.3" text-anchor="end">37</text><line x1="1019.5" y1="792.4" x2="1025.7" y2="792.4" stroke="#000" stroke-width="1.6"/><text x="1012.9" y="804.0" font-size="31.3" text-anchor="end">38</text><line x1="1019.5" y1="672.4" x2="1025.7" y2="672.4" stroke="#000" stroke-width="1.6"/><text x="1012.9" y="684.0" font-size="31.3" text-anchor="end">39</text><line x1="1144.0" y1="972.4" x2="1144.0" y2="978.6" stroke="#000" stroke-width="1.6"/><text x="1144.0" y="1008.2" font-size="31.3" text-anchor="middle">100</text><line x1="1268.5" y1="972.4" x2="1268.5" y2="978.6" stroke="#000" stroke-width="1.6"/><text x="1268.5" y="1008.2" font-size="31.3" text-anchor="middle">200</text><line x1="1393.0" y1="972.4" x2="1393.0" y2="978.6" stroke="#000" stroke-width="1.6"/><text x="1393.0" y="1008.2" font-size="31.3" text-anchor="middle">300</text><line x1="1517.4" y1="972.4" x2="1517.4" y2="978.6" stroke="#000" stroke-width="1.6"/><text x="1517.4" y="1008.2" font-size="31.3" text-anchor="middle">400</text><line x1="1641.9" y1="972.4" x2="1641.9" y2="978.6" stroke="#000" stroke-width="1.6"/><text x="1641.9" y="1008.2" font-size="31.3" text-anchor="middle">500</text><text x="1386.3" y="1044.7" font-size="31.0" text-anchor="middle">Session Time (mins)</text><text x="1386.3" y="602.6" font-size="34.3" text-anchor="middle">Subject ID: PV8, Session 2</text><text transform="translate(960.9,792.4) rotate(-90)" x="0" y="0" font-size="31.0" text-anchor="middle">CBT (°C)</text></g><g><defs><clipPath id="cp4"><rect x="88.2" y="1189.0" width="721.1" height="360.0"/></clipPath></defs><g clip-path="url(#cp4)"><path d="M120.2,1360.3 L126.1,1350.8 L131.9,1350.8 L137.8,1346.4 L143.7,1339.8 L149.5,1328.1 L155.4,1324.5 L160.5,1324.5 L166.4,1320.8 L171.5,1320.8 L177.4,1318.6 L183.2,1318.3 L189.1,1317.6 L194.9,1317.6 L200.8,1322.3 L205.9,1320.1 L211.8,1323.3 L217.6,1322.7 L223.5,1324.5 L229.4,1326.7 L234.5,1327.4 L240.3,1324.5 L246.2,1327.1 L252.1,1338.4 L257.6,1328.8 L263.1,1340.6 L268.2,1345 L274,1347.2 L279.9,1349.4 L285.8,1351.6 L292.4,1358.1 L297.5,1357 L303.3,1360.3 L308.5,1357.9 L314.3,1366.2 L319.5,1366.9 L325.3,1359.6 L330,1359.6 L335.9,1359.3 L343.2,1358.4 L349,1358.1 L354.9,1358.1 L360.8,1358.9 L365.9,1357.4 L371.7,1359.6 L376.9,1360.8 L382.7,1358.4 L388.6,1360.3 L394.5,1359.6 L400.3,1357 L405.4,1352 L411.3,1351.6 L417.2,1350.1 L423,1350.8 L428.9,1349.4 L434.7,1348.2 L440.6,1347.5 L446.5,1347.2 L452.3,1345.7 L458.2,1344.7 L464,1345 L469.9,1344.5 L475.8,1342.8 L480.9,1340.6 L486,1340.3 L491.1,1328.8 L497,1320.1 L502.9,1316.4 L508,1313.5 L513.8,1311.3 L519.7,1288.6 L526.3,1285.2 L532.2,1283.4 L538,1279 L543.9,1277.6 L549,1277.6 L554.1,1281.2 L560,1278.8 L565.8,1282 L572,1286.1 L577.1,1288.1 L582.5,1285.6 L588.1,1309.8 L594,1312.7 L599.8,1314.9 L605.7,1315.4 L611.6,1317.6 L617.4,1318.6 L623.3,1321.2 L628.4,1321.2 L633.5,1324.5 L639.4,1327.7 L645.2,1337.3 L651.1,1337.3 L657,1340.3 L662.8,1339.4 L668.7,1339.4 L673.8,1315.4 L679.7,1311 L685.5,1311.6 L691.4,1312 L696.5,1313 L702.4,1320.1 L708.2,1323.3 L714.1,1327.1 L720,1339.8 L725.8,1344.2 L731.7,1347.2 L737.5,1347.9 L742.7,1348.2 L748.5,1349.1 L753.6,1347.9 L759.5,1352 L765.4,1351.6 L771.2,1358.1 L776.8,1359.6 L776.8,1429.2 L771.2,1428.2 L765.4,1428.2 L759.5,1428.5 L753.6,1424.4 L748.5,1425.2 L742.7,1418.9 L737.5,1418.5 L731.7,1417.9 L725.8,1413.8 L720,1409.7 L713.8,1413.8 L708.2,1410.9 L702.4,1408 L696.5,1399.9 L691.4,1398.9 L685.5,1398.4 L679.7,1397.7 L673.8,1402.1 L668.7,1409.4 L662.8,1409.7 L657,1410.9 L651.1,1407.2 L645.2,1407.2 L639.7,1414.5 L633.5,1411.6 L628.4,1408.2 L623.3,1408 L617.4,1405 L611.6,1403.9 L605.7,1401.4 L599.8,1400.9 L594,1399.2 L588.1,1396.5 L582.5,1408.7 L577.1,1411.2 L572,1408.7 L565.8,1405 L559.3,1401.4 L554.1,1403.6 L549,1400.6 L543.9,1400.6 L538,1402.1 L532.2,1406.2 L526.3,1408 L519.7,1410.9 L513.8,1397.7 L508.7,1399.9 L502.9,1402.8 L497,1405.8 L491.1,1413.8 L486,1410.9 L480.9,1410.9 L475.8,1413.1 L469.9,1415.6 L464,1416 L458.2,1415 L452.3,1416.5 L446.5,1418.2 L440.6,1419.4 L434.7,1420.4 L428.9,1421.4 L423,1427.7 L417.2,1426.7 L412,1428.5 L406.2,1427.7 L400.3,1427 L394.5,1429.2 L388.6,1430.2 L382.7,1427.7 L376.9,1430.2 L371.7,1429.6 L365.9,1427 L360.8,1428.5 L354.9,1428.5 L349,1428.5 L343.2,1435.5 L337.3,1435.8 L330,1437.3 L325.3,1436.5 L319.5,1438 L314.3,1437.3 L308.5,1434.3 L303.3,1429.9 L297.5,1426.3 L291.6,1427.7 L285.8,1427 L279.9,1420.8 L274,1418.2 L268.2,1416 L263.1,1410.9 L257.6,1416 L252.1,1407.2 L246.2,1413.8 L240.3,1412.1 L234.5,1413.8 L229.4,1413.1 L223.5,1410.9 L217.6,1409.7 L211.8,1410.2 L205.9,1407.2 L200.8,1409.4 L194.9,1404.7 L189.1,1404.7 L183.2,1405.3 L177.4,1405.3 L171.5,1408.7 L166.4,1408.7 L160.5,1412.3 L155.4,1412.3 L149.5,1415.3 L143.7,1409.4 L137.8,1418.2 L131.9,1427.7 L126.1,1427.7 L120.2,1437.3Z" fill="#efce7f" stroke="#eab94c" stroke-width="1.5" stroke-linejoin="round"/><line x1="88.2" y1="1489.0" x2="809.3" y2="1489.0" stroke="#b0b0b0" stroke-opacity="0.7" stroke-width="1.5" stroke-dasharray="5.2 2.1"/><line x1="88.2" y1="1369.0" x2="809.3" y2="1369.0" stroke="#b0b0b0" stroke-opacity="0.7" stroke-width="1.5" stroke-dasharray="5.2 2.1"/><line x1="88.2" y1="1249.0" x2="809.3" y2="1249.0" stroke="#b0b0b0" stroke-opacity="0.7" stroke-width="1.5" stroke-dasharray="5.2 2.1"/><line x1="171.7" y1="1189.0" x2="171.7" y2="1549.0" stroke="#b0b0b0" stroke-opacity="0.7" stroke-width="1.5" stroke-dasharray="5.2 2.1"/><line x1="285.8" y1="1189.0" x2="285.8" y2="1549.0" stroke="#b0b0b0" stroke-opacity="0.7" stroke-width="1.5" stroke-dasharray="5.2 2.1"/><line x1="399.8" y1="1189.0" x2="399.8" y2="1549.0" stroke="#b0b0b0" stroke-opacity="0.7" stroke-width="1.5" stroke-dasharray="5.2 2.1"/><line x1="513.9" y1="1189.0" x2="513.9" y2="1549.0" stroke="#b0b0b0" stroke-opacity="0.7" stroke-width="1.5" stroke-dasharray="5.2 2.1"/><line x1="627.9" y1="1189.0" x2="627.9" y2="1549.0" stroke="#b0b0b0" stroke-opacity="0.7" stroke-width="1.5" stroke-dasharray="5.2 2.1"/><line x1="742.0" y1="1189.0" x2="742.0" y2="1549.0" stroke="#b0b0b0" stroke-opacity="0.7" stroke-width="1.5" stroke-dasharray="5.2 2.1"/><path d="M120.2,1406.5 L126.1,1405 L131.9,1403.6 L137.8,1401.4 L143.7,1399.9 L149.5,1397.7 L155.4,1395.5 L161.2,1393.6 L167.1,1391.1 L173,1388.5 L178.8,1386.3 L184.7,1384.5 L190.5,1382 L196.4,1379.4 L200.8,1377.2 L206.4,1375 L211.8,1377.2 L217.2,1378.4 L222.8,1383.8 L228.6,1387.7 L234.5,1389.2 L240.3,1390.7 L246.2,1392.1 L252.1,1393 L257.9,1393 L263.1,1394 L268.9,1391.5 L274,1391.5 L279.9,1391.5 L285.8,1389.2 L291.6,1388.9 L297.5,1386.7 L303.3,1386.3 L309.2,1383.8 L314.3,1381.9 L319.5,1381.6 L325.3,1379.4 L330,1378.4 L335.9,1374.3 L342.5,1369.9 L349,1369.9 L354.9,1367.7 L360,1366.2 L365.9,1363.7 L371.7,1369.6 L376.9,1371 L382.7,1366.2 L388.6,1364 L394.5,1365.5 L400.3,1374.3 L406.2,1377.2 L411.3,1378.4 L417.2,1387.2 L423,1390.8 L428.9,1389.3 L434.7,1386.7 L440.6,1383.5 L446.5,1379.8 L452.3,1379.8 L458.2,1376.5 L464,1373.5 L468.4,1369.9 L474.3,1370.6 L480.2,1369.6 L486,1369.6 L491.1,1367.4 L497,1364 L502.9,1359.6 L508,1354.9 L513.8,1350.8 L519.7,1344.2 L525.6,1340.3 L531.4,1337.6 L537.3,1335 L542.4,1340.9 L548.3,1326.4 L554.1,1324.5 L560,1322.3 L565.1,1321.2 L570.2,1337.6 L572,1339.1 L577.1,1343.5 L582.3,1346.4 L588.1,1353.8 L594,1361.8 L599.8,1367.2 L605.7,1365.8 L610.8,1372.8 L616.7,1377.2 L622.5,1383.1 L628.4,1387.2 L634.3,1389.2 L639.4,1389.2 L645.2,1392.6 L651.1,1388.9 L657,1392.6 L662.8,1394 L668.7,1391.5 L674.5,1390.1 L680.4,1390.1 L685.5,1392.6 L690.7,1397 L696.5,1405 L702.4,1405 L708.2,1402.4 L714.1,1405 L720,1404.3 L725.8,1407.2 L730.9,1412.3 L736.8,1413.5 L742.7,1413.5 L748.5,1412.3 L753.6,1409.7 L759.5,1415 L765.4,1419.7 L771.2,1417 L777.1,1419.7" fill="none" stroke="#000" stroke-width="2.8" stroke-linejoin="round" stroke-linecap="square"/></g><rect x="88.2" y="1189.0" width="721.1" height="360.0" fill="none" stroke="#000" stroke-width="1.6" stroke-linejoin="miter"/><line x1="82.0" y1="1489.0" x2="88.2" y2="1489.0" stroke="#000" stroke-width="1.6"/><text x="75.4" y="1500.6" font-size="31.3" text-anchor="end">37</text><line x1="82.0" y1="1369.0" x2="88.2" y2="1369.0" stroke="#000" stroke-width="1.6"/><text x="75.4" y="1380.6" font-size="31.3" text-anchor="end">38</text><line x1="82.0" y1="1249.0" x2="88.2" y2="1249.0" stroke="#000" stroke-width="1.6"/><text x="75.4" y="1260.6" font-size="31.3" text-anchor="end">39</text><line x1="171.7" y1="1549.0" x2="171.7" y2="1555.2" stroke="#000" stroke-width="1.6"/><text x="171.7" y="1584.8" font-size="31.3" text-anchor="middle">40</text><line x1="285.8" y1="1549.0" x2="285.8" y2="1555.2" stroke="#000" stroke-width="1.6"/><text x="285.8" y="1584.8" font-size="31.3" text-anchor="middle">60</text><line x1="399.8" y1="1549.0" x2="399.8" y2="1555.2" stroke="#000" stroke-width="1.6"/><text x="399.8" y="1584.8" font-size="31.3" text-anchor="middle">80</text><line x1="513.9" y1="1549.0" x2="513.9" y2="1555.2" stroke="#000" stroke-width="1.6"/><text x="513.9" y="1584.8" font-size="31.3" text-anchor="middle">100</text><line x1="627.9" y1="1549.0" x2="627.9" y2="1555.2" stroke="#000" stroke-width="1.6"/><text x="627.9" y="1584.8" font-size="31.3" text-anchor="middle">120</text><line x1="742.0" y1="1549.0" x2="742.0" y2="1555.2" stroke="#000" stroke-width="1.6"/><text x="742.0" y="1584.8" font-size="31.3" text-anchor="middle">140</text><text x="448.8" y="1621.3" font-size="31.0" text-anchor="middle">Session Time (mins)</text><text x="448.8" y="1179.2" font-size="34.3" text-anchor="middle">Subject ID: PROS 26, Session 1</text><text transform="translate(23.4,1369.0) rotate(-90)" x="0" y="0" font-size="31.0" text-anchor="middle">CBT (°C)</text></g><g><defs><clipPath id="cp5"><rect x="1025.7" y="1189.0" width="721.2" height="360.0"/></clipPath></defs><g clip-path="url(#cp5)"><path d="M1058,1341.1 L1058.6,1341.4 L1059.9,1342.9 L1061.2,1343.1 L1062.5,1344.1 L1063.1,1344 L1063.8,1344.8 L1065.1,1342.7 L1066.4,1340.3 L1067.7,1341.9 L1068.2,1341.1 L1069,1342.3 L1070.3,1345.7 L1071.6,1346.9 L1072.9,1345.9 L1074.2,1343 L1074.8,1341.1 L1075.5,1343.3 L1076.8,1342.4 L1078.1,1346.1 L1079.4,1338.9 L1080.7,1336.7 L1082,1333.2 L1082.9,1328.6 L1083.3,1330.5 L1084.6,1335.5 L1085.1,1339.6 L1085.9,1329.8 L1086.5,1322 L1087.2,1322.4 L1088.5,1316.3 L1089.8,1318.6 L1091.1,1319.2 L1092.4,1318.5 L1093.7,1324.7 L1095,1323.1 L1096.3,1321.8 L1097.6,1319.9 L1098.2,1319.1 L1098.9,1321.8 L1100.2,1318.2 L1101.5,1320.4 L1102.8,1321 L1104.1,1318.7 L1105.4,1314.3 L1106.7,1314 L1108,1312.8 L1109.3,1310.7 L1110.6,1310.4 L1111.4,1310.3 L1111.9,1310.5 L1113.2,1308.9 L1114.5,1309.6 L1115.8,1311.2 L1117.1,1307.6 L1118.4,1291.8 L1119.7,1297.7 L1121,1305.4 L1122.3,1286.7 L1123.6,1295.7 L1124.9,1305 L1125.3,1308.8 L1126.2,1310.2 L1127.5,1308.1 L1128.8,1308.6 L1130.1,1291.2 L1131.4,1291.7 L1132.7,1308.2 L1134,1286.5 L1135.3,1295.6 L1136.6,1303 L1137.9,1282.5 L1139.2,1292.2 L1140,1301.5 L1140.5,1301.8 L1141.8,1309.6 L1143.1,1299.3 L1144.4,1285.9 L1145.7,1290 L1147,1287 L1148.3,1287.4 L1149.6,1286.7 L1150.9,1282.8 L1151.7,1283.9 L1152.2,1282.2 L1153.5,1286.5 L1153.9,1286.9 L1154.8,1293.2 L1156.1,1310 L1157.4,1299.5 L1158.7,1286.2 L1160,1281.5 L1161.3,1281.9 L1162.6,1282.9 L1163.9,1281.6 L1165.2,1281.1 L1166.5,1280.5 L1167.8,1278.7 L1169.1,1278.7 L1170.4,1277.8 L1171.7,1279.7 L1173,1278.4 L1174.3,1279.6 L1175.6,1281.9 L1176.9,1285.8 L1177.3,1285.4 L1178.2,1283.9 L1179.5,1281 L1180.3,1279.6 L1180.8,1278.6 L1182.1,1280.6 L1183.4,1281.3 L1184.7,1282.1 L1186,1282.4 L1187.3,1285.1 L1188.6,1283.6 L1189.9,1284.4 L1190.5,1283.2 L1191.2,1280 L1192.5,1285.3 L1193.8,1285.2 L1195.1,1285.5 L1196.4,1284.8 L1197.7,1283.5 L1199,1283.1 L1200.3,1283.9 L1201.6,1282.6 L1202.9,1285.3 L1203.7,1283.9 L1204.2,1285.1 L1205.5,1283.4 L1206.8,1286.3 L1208.1,1283.3 L1209.4,1284.4 L1210.7,1283 L1212,1301.3 L1212.5,1308.8 L1213.3,1304.5 L1214.6,1291.8 L1215.4,1285.4 L1215.9,1285.1 L1217.2,1283.3 L1218.5,1287.4 L1219.8,1302.8 L1220.6,1308.8 L1221.1,1303.3 L1222.4,1289.5 L1223.7,1294.8 L1225,1306.3 L1226.3,1297.2 L1227.2,1286.9 L1227.6,1287.4 L1228.9,1288.1 L1230.2,1284.6 L1231.5,1287.6 L1232.8,1288.5 L1234.1,1287.5 L1235.4,1287.1 L1235.9,1286.9 L1236.7,1296.8 L1238,1308.8 L1239.3,1296.4 L1240.6,1291.6 L1241.9,1298.3 L1243.2,1309 L1244.5,1300.4 L1245.8,1287.9 L1247.1,1283 L1248.4,1276.9 L1249.1,1276.6 L1249.7,1273.9 L1251,1266.9 L1252.3,1265.1 L1253.6,1267.9 L1254.9,1268 L1256.2,1263.4 L1257.5,1262 L1258.8,1269.4 L1259.4,1272.2 L1260.1,1272.7 L1261.4,1271.6 L1262.7,1269.8 L1264,1268.4 L1264.5,1267.3 L1265.3,1266.4 L1266.6,1267.1 L1267,1265.2 L1267.9,1265.3 L1269.2,1266.3 L1270.5,1263.9 L1271.8,1262.9 L1273.1,1264.6 L1274.4,1265.5 L1275.7,1264.4 L1277,1261.7 L1278.3,1258.9 L1278.9,1255.8 L1279.6,1256.2 L1280.9,1251.8 L1281.8,1250.8 L1282.2,1249.8 L1283.5,1248.6 L1284.8,1248 L1286.1,1248.3 L1287.4,1251.9 L1288.7,1258 L1290,1261.9 L1291.3,1267.2 L1292.6,1272.2 L1293.3,1272.4 L1293.9,1271.3 L1295.2,1276 L1296.5,1281.4 L1297.8,1282.2 L1299.1,1280 L1300.4,1278.2 L1301.7,1277.8 L1303,1275.6 L1303.6,1275.9 L1304.3,1280.4 L1305.6,1286.7 L1306.9,1282.6 L1308.2,1276.9 L1309.5,1279 L1310.8,1279.5 L1312.1,1277.9 L1313.4,1278.7 L1313.9,1275.9 L1314.7,1278.8 L1316,1276.3 L1316.8,1278.1 L1317.3,1283.6 L1318.6,1306.1 L1319.9,1310.1 L1321.2,1307.5 L1322.5,1290.5 L1323.8,1296.4 L1325.1,1303.9 L1326.4,1288.6 L1327.7,1300.9 L1328.5,1308.8 L1329,1303.1 L1330.3,1293.3 L1331.6,1281.4 L1332.9,1282.6 L1333.7,1283.9 L1334.2,1295.6 L1335.5,1303.1 L1336.8,1294.1 L1338.1,1321.5 L1339.4,1323.7 L1340.2,1321.3 L1340.7,1320.4 L1342,1318.5 L1343.3,1316.1 L1344.6,1317.7 L1345.9,1317.7 L1347.2,1316.1 L1348.5,1318.1 L1349.8,1320.7 L1350.5,1320.6 L1351.1,1317.9 L1352,1310.3 L1352.4,1306.8 L1353.7,1291.9 L1354.2,1288.3 L1355,1303.5 L1355.6,1316.2 L1356.3,1316.6 L1357.6,1316.8 L1358.9,1316.6 L1360.2,1317.1 L1361.5,1318.6 L1362.8,1318.1 L1363.7,1319.1 L1364.1,1316.9 L1365.4,1318.4 L1366.7,1314.9 L1368,1313.3 L1369.3,1311.8 L1370.6,1314.3 L1371.9,1314.6 L1372.5,1313.2 L1373.2,1311.7 L1374.5,1311.2 L1375.8,1311.4 L1377.1,1310.5 L1378.4,1310.2 L1379.7,1314.2 L1381,1312.6 L1382.3,1313.5 L1382.7,1313.2 L1383.6,1313.6 L1384.9,1310.7 L1386.2,1310.8 L1387.5,1308.5 L1388.8,1297.3 L1390.1,1287.3 L1391.4,1300.1 L1392.2,1308.8 L1392.7,1310.8 L1394,1308.5 L1395.3,1309.5 L1395.9,1310.3 L1396.6,1302.7 L1397.9,1292.1 L1399.2,1284.1 L1400.5,1282.9 L1401.8,1287.6 L1403.1,1286.6 L1404.4,1285 L1405.7,1285 L1407,1290 L1408.3,1299.5 L1409.1,1310.3 L1409.6,1310.2 L1410.9,1309.3 L1412.2,1295.1 L1413.5,1275.6 L1414.8,1275.8 L1416.1,1274.2 L1417.4,1277.6 L1417.9,1276.6 L1418.7,1275 L1420,1277.1 L1421.3,1279.5 L1422.6,1278.4 L1423.9,1275.5 L1425.2,1276.1 L1426.5,1275 L1427.8,1272.2 L1429.1,1273.9 L1430.4,1273.9 L1431.1,1272.2 L1431.7,1272 L1433,1272.7 L1434.3,1269.2 L1435.6,1269.6 L1436.9,1268.7 L1438.2,1263.9 L1439.5,1264.4 L1440.8,1261.1 L1442.1,1265.9 L1443.4,1264.7 L1444.3,1264.9 L1444.7,1265.6 L1446,1263.5 L1447.3,1269.2 L1448.6,1268.2 L1449.9,1268 L1451.2,1269.2 L1452.5,1270.1 L1453.8,1270.5 L1454.5,1269.3 L1455.1,1271.1 L1456.4,1271 L1457.7,1272.5 L1459,1273 L1460.3,1266.9 L1461.6,1265.8 L1462.9,1264.1 L1464.2,1261.9 L1465.5,1262.6 L1466.8,1262.3 L1467.7,1262 L1468.1,1262.8 L1469.4,1261 L1470.7,1262.9 L1472,1258.3 L1473.3,1262.4 L1474.6,1264 L1475,1263.4 L1475.9,1263 L1477.2,1266.1 L1478.5,1266.4 L1479.4,1267.8 L1479.8,1266.5 L1481.1,1266.3 L1482.4,1266.2 L1483.7,1266.8 L1485,1267.7 L1486.3,1268.6 L1487.6,1267 L1488.2,1267.8 L1488.9,1267.9 L1490.2,1272.7 L1491.5,1273.8 L1492.8,1271.8 L1494.1,1276.9 L1495.4,1274.8 L1496.7,1278.3 L1498,1278.2 L1499.3,1280.1 L1500.6,1280.3 L1501.4,1281 L1501.9,1280.8 L1503.2,1285.7 L1504.5,1283.3 L1505.8,1284.8 L1507.1,1287.7 L1508,1286.9 L1508.4,1287.2 L1509,1286.9 L1509.7,1282.9 L1511,1305.7 L1512.3,1290 L1513.1,1281 L1513.6,1290.1 L1514.9,1302.4 L1516.2,1287.4 L1517.5,1300.2 L1518.3,1307.4 L1518.8,1306.4 L1520.1,1307.3 L1521.4,1311.4 L1522.7,1314.6 L1524,1313.4 L1525.3,1314.2 L1526.6,1318.9 L1527.9,1323.2 L1528.5,1323.5 L1529.2,1323.3 L1530.5,1322.9 L1531.8,1322.8 L1533.1,1324.6 L1534.4,1319.8 L1535.7,1318.1 L1537,1318 L1538.3,1315.5 L1539.6,1319 L1540.2,1319.1 L1540.9,1321.1 L1542.2,1323.6 L1543.5,1326.1 L1544.8,1323.5 L1546.1,1322.7 L1547.4,1323.3 L1548.7,1324.5 L1550,1320.2 L1551.3,1318.3 L1551.9,1319.1 L1552.6,1319.7 L1553.9,1321.2 L1555.2,1323.1 L1556.5,1325.9 L1557.8,1321.8 L1559.1,1319.7 L1560.4,1317.3 L1561.7,1317.4 L1563,1316.9 L1563.7,1316.2 L1564.3,1317.9 L1565.6,1320 L1566.9,1320.7 L1568.2,1322.3 L1569.5,1316.7 L1570.8,1315.4 L1572.1,1312.4 L1573.4,1314 L1574.7,1317.2 L1575.4,1317.6 L1576,1317.8 L1577.3,1318.2 L1578.6,1316.6 L1579.9,1317 L1581.2,1318.5 L1582.5,1321.4 L1583.8,1322.9 L1585.1,1313.1 L1585.6,1311.8 L1586.4,1311.7 L1587.7,1309.1 L1589,1309.8 L1590.3,1307.9 L1591.6,1292 L1592.2,1286.9 L1592.9,1295.9 L1594.2,1307.5 L1595.5,1310.6 L1596.8,1309.7 L1598.1,1308.3 L1598.8,1307.4 L1599.4,1308.1 L1600.7,1309.2 L1602,1302.5 L1603.3,1293.6 L1604,1286.9 L1604.6,1290 L1605.9,1298.5 L1607.2,1304.5 L1607.6,1307.4 L1608.5,1300.3 L1609.8,1289.4 L1610.5,1286.9 L1611.1,1293 L1612.4,1307.3 L1613.7,1320.2 L1615,1318.1 L1616.3,1319.2 L1617.6,1314.7 L1618.9,1317.5 L1620.2,1315.4 L1621.5,1314.2 L1622.3,1316.2 L1622.8,1306.1 L1624.1,1291.1 L1625.4,1308.3 L1625.9,1316.2 L1626.7,1306.7 L1628,1287.2 L1629.3,1311.7 L1630.6,1316.7 L1631.9,1316 L1633.2,1312.4 L1634,1313.2 L1634.5,1314.4 L1635.8,1314 L1637.1,1311.9 L1638.4,1312.1 L1639.7,1313.8 L1641,1314.9 L1642.3,1315.6 L1642.8,1316.2 L1643.6,1315.2 L1644.9,1314.3 L1646.2,1314 L1647.5,1313.5 L1648.8,1314 L1650.1,1314.9 L1651.4,1314.8 L1652.7,1316.8 L1654,1317.4 L1655.3,1317 L1656.6,1320.5 L1657.4,1319.1 L1657.9,1320.1 L1659.2,1319.3 L1660.5,1317 L1661.8,1316.9 L1663.1,1314.6 L1664.4,1317.3 L1665.7,1317 L1667,1318.7 L1668.3,1322 L1669.1,1322 L1669.6,1321.7 L1670.9,1326.5 L1672.2,1327.2 L1673.5,1324.2 L1674.8,1321.1 L1676.1,1318.4 L1677.4,1321.4 L1678.7,1319.5 L1680,1321.8 L1680.9,1323.5 L1681.3,1323 L1682.6,1323.7 L1683.9,1319.6 L1685.2,1317.6 L1686.5,1319 L1687.8,1324 L1689.1,1325 L1689.6,1325 L1690.4,1325.2 L1691.7,1322.7 L1693,1324.1 L1694.3,1323.4 L1695.6,1324.9 L1696.9,1327 L1698.2,1329.8 L1699.5,1326 L1700.8,1324.7 L1702.1,1324.6 L1702.8,1326.4 L1703.4,1326.3 L1704.7,1325 L1706,1321.3 L1707.3,1320.9 L1708.6,1318.6 L1709.9,1320.6 L1711.2,1320.5 L1712.5,1319.4 L1713.8,1319.7 L1714.5,1320.6 L1714.5,1408.5 L1713.8,1407.1 L1712.5,1405.9 L1711.6,1405.5 L1711.2,1406.9 L1709.9,1408.1 L1708.6,1406.3 L1707.3,1408.8 L1706,1409.2 L1704.7,1412.9 L1703.4,1414.2 L1702.8,1414.3 L1702.1,1411.6 L1700.8,1409.9 L1699.5,1409.6 L1698.2,1412.3 L1696.9,1410 L1695.6,1408.4 L1694.3,1408.4 L1693,1409.4 L1691.7,1407.9 L1690.4,1410.2 L1689.6,1409.9 L1689.1,1410.3 L1687.8,1410.2 L1686.5,1406 L1685.2,1405.4 L1683.9,1405.7 L1682.6,1409.4 L1681.3,1408.6 L1680,1408.9 L1679.4,1409.9 L1678.7,1407.9 L1677.4,1409.8 L1676.1,1405.6 L1674.8,1404.6 L1673.5,1407.7 L1672.2,1410.7 L1670.9,1414.1 L1669.6,1409.8 L1668.3,1409.1 L1667,1404.5 L1666.2,1404.1 L1665.7,1402.5 L1664.4,1404 L1663.1,1402.4 L1661.8,1404.1 L1660.5,1403.6 L1659.2,1404.9 L1657.9,1404.7 L1656.6,1405.1 L1655.3,1402.1 L1654.5,1402.6 L1654,1403 L1652.7,1402.4 L1651.4,1400.5 L1650.1,1400.6 L1648.8,1399.7 L1647.5,1400.3 L1646.2,1401 L1644.9,1401.1 L1643.6,1401.7 L1642.8,1402.6 L1642.3,1402 L1641,1401.3 L1639.7,1400.2 L1638.4,1398.5 L1637.1,1398.2 L1635.8,1400.2 L1634.5,1400.5 L1633.2,1398.1 L1632.5,1399.7 L1631.9,1402.4 L1630.6,1405.3 L1629.3,1407.9 L1628,1407.2 L1626.7,1408.3 L1625.4,1405 L1624.1,1403.7 L1622.8,1403.1 L1622.3,1401.1 L1621.5,1399.6 L1620.2,1401.4 L1618.9,1404.2 L1617.6,1401.7 L1616.3,1405.7 L1615,1405 L1613.7,1407.6 L1612.4,1408.3 L1612,1409.9 L1611.1,1404.5 L1609.8,1395.2 L1609.1,1393.8 L1608.5,1395.1 L1607.2,1400 L1605.9,1406.1 L1604.6,1408.9 L1603.3,1403.2 L1602,1392.8 L1600.7,1395.6 L1599.4,1394.5 L1598.1,1394.2 L1597.4,1393.8 L1596.8,1397.5 L1595.5,1404.1 L1594.2,1406.9 L1592.9,1402.7 L1591.6,1393.3 L1590.3,1396.4 L1589,1395.8 L1587.7,1395.1 L1587.1,1396.7 L1586.4,1400 L1585.1,1403.3 L1583.8,1409.5 L1582.5,1406.6 L1581.2,1405 L1579.9,1405.2 L1578.6,1403.9 L1577.3,1404.1 L1576.8,1402.6 L1576,1402.1 L1574.7,1401.3 L1573.4,1399.5 L1572.1,1398.7 L1570.8,1401.3 L1569.5,1402.1 L1568.2,1407.3 L1566.9,1406.5 L1565.6,1406.8 L1564.3,1405.7 L1563,1404.6 L1562.2,1404.1 L1561.7,1404.7 L1560.4,1405.4 L1559.1,1408.5 L1557.8,1409.7 L1556.5,1409.9 L1555.2,1407 L1553.9,1405.5 L1553.4,1405.5 L1552.6,1405.5 L1551.3,1404.8 L1550,1405.8 L1548.7,1409.6 L1547.4,1408.9 L1546.1,1409.6 L1544.8,1411.7 L1543.5,1412.6 L1542.2,1410.2 L1540.9,1408.5 L1540.2,1407 L1539.6,1406.8 L1538.3,1403.1 L1537,1405.1 L1535.7,1403.9 L1534.4,1407.1 L1533.1,1409.7 L1531.8,1409.5 L1530.5,1408.6 L1529.2,1406.6 L1527.9,1405.8 L1527,1402.6 L1526.6,1403.3 L1525.3,1400.5 L1524,1399.3 L1522.7,1400.1 L1521.4,1396.9 L1520.1,1393.7 L1518.8,1393.8 L1518.3,1395.3 L1517.5,1400 L1516.2,1408 L1514.9,1401 L1513.6,1395.6 L1512.3,1401.6 L1511,1408.8 L1509.7,1407.7 L1509,1408.5 L1508.4,1400.2 L1508,1393.8 L1507.1,1398.6 L1505.8,1401.6 L1504.5,1405.1 L1503.2,1408.2 L1501.9,1403.4 L1500.6,1402.8 L1499.9,1402.6 L1499.3,1402.8 L1498,1401.4 L1496.7,1402 L1495.4,1399.3 L1494.1,1402.1 L1492.8,1397.7 L1491.5,1400.7 L1490.2,1400.7 L1489.7,1398.2 L1488.9,1397.2 L1487.6,1397.1 L1486.3,1398.7 L1485,1398 L1483.7,1397.1 L1482.4,1395.8 L1481.1,1395.1 L1479.8,1394.6 L1478.5,1394.9 L1477.9,1395.3 L1477.2,1394.5 L1475.9,1390.5 L1474.6,1390.7 L1473.3,1389 L1472,1388 L1470.7,1394.2 L1469.4,1388.3 L1468.1,1385.8 L1467.7,1383.6 L1466.8,1384.2 L1465.5,1384.9 L1464.2,1384.7 L1462.9,1386.1 L1461.6,1384.6 L1460.3,1382.7 L1459,1391.4 L1457.7,1396.3 L1456.4,1395.7 L1455.1,1395.3 L1453.8,1394.2 L1453,1392.3 L1452.5,1393.4 L1451.2,1392.5 L1449.9,1391.1 L1448.6,1391.2 L1447.3,1392.1 L1446,1386.3 L1444.7,1388.3 L1443.4,1387 L1442.8,1386.5 L1442.1,1388.4 L1440.8,1384.5 L1439.5,1388.1 L1438.2,1386.4 L1436.9,1391.1 L1435.6,1392 L1434.3,1392.2 L1433,1396.5 L1432.5,1395.3 L1431.7,1396 L1430.4,1397.9 L1429.1,1397.9 L1427.8,1396 L1426.5,1397.9 L1425.2,1398.2 L1423.9,1396.7 L1422.6,1398.7 L1421.3,1400.3 L1420,1398.7 L1418.7,1397.5 L1417.9,1399.7 L1417.4,1400.5 L1416.1,1396.6 L1414.8,1397.8 L1413.5,1397.2 L1412.2,1400.1 L1410.9,1402.9 L1409.6,1406 L1409.1,1407 L1408.3,1405.2 L1407,1410.7 L1405.7,1407.4 L1404.4,1407.9 L1403.1,1409.7 L1401.8,1408.5 L1400.5,1403.7 L1399.2,1403.7 L1397.9,1399.9 L1396.6,1394.7 L1395.9,1393.8 L1395.3,1395.5 L1394,1399.8 L1392.7,1407.3 L1391.4,1409.2 L1390.1,1404.1 L1388.8,1399.6 L1387.5,1399.2 L1386.2,1397.3 L1384.9,1395.9 L1384.2,1396.7 L1383.6,1397.8 L1382.3,1397.7 L1381,1398 L1379.7,1400.8 L1378.4,1398 L1377.1,1397.8 L1375.8,1398 L1374.5,1397.2 L1373.2,1397 L1372.5,1398.2 L1371.9,1399.8 L1370.6,1400.2 L1369.3,1398.4 L1368,1400.5 L1366.7,1402.8 L1365.4,1404.1 L1364.1,1400.2 L1362.8,1400.9 L1362.2,1401.1 L1361.5,1402.6 L1360.2,1402.7 L1358.9,1403.8 L1357.6,1405.1 L1356.3,1407.5 L1355,1408.7 L1353.7,1404.2 L1352.4,1400.9 L1352,1398.2 L1351.1,1401.6 L1349.8,1403.6 L1349,1404.1 L1348.5,1404.4 L1347.2,1403.2 L1345.9,1404 L1344.6,1403.1 L1343.3,1402.5 L1342,1404.6 L1340.7,1406.2 L1340.2,1407 L1339.4,1410.2 L1338.1,1409.3 L1336.8,1410 L1335.5,1408 L1334.2,1408.3 L1332.9,1403.2 L1331.6,1400.3 L1330.3,1405.1 L1329,1407.1 L1328.5,1409.9 L1327.7,1405.5 L1326.4,1398.9 L1325.6,1395.3 L1325.1,1398.3 L1323.8,1406 L1323.4,1409.9 L1322.5,1405.4 L1321.2,1395.6 L1319.9,1396.9 L1318.6,1398.2 L1317.3,1395.9 L1316,1397.8 L1314.7,1402.6 L1313.9,1401.1 L1313.4,1402.9 L1312.1,1399.4 L1310.8,1398.8 L1309.5,1399.8 L1308.2,1404.1 L1306.9,1409.5 L1305.6,1403.2 L1305.1,1398.2 L1304.3,1399.5 L1303,1398.5 L1301.7,1400.8 L1300.4,1400.9 L1299.1,1401.2 L1297.8,1401.9 L1296.5,1404.1 L1295.2,1402 L1294.7,1402.5 L1293.9,1397.5 L1292.6,1397.6 L1291.3,1391.9 L1290,1384.4 L1288.7,1380.5 L1287.4,1376.2 L1286.1,1372.2 L1284.8,1371.4 L1283.5,1372.4 L1282.2,1374.1 L1281.8,1375.2 L1280.9,1375.9 L1279.6,1379.8 L1278.9,1379.5 L1278.3,1382 L1277,1383.5 L1275.7,1385.5 L1274.4,1387.4 L1273.1,1387.5 L1272.4,1388.1 L1271.8,1386.3 L1270.5,1386.4 L1269.2,1387.6 L1267.9,1387 L1266.6,1389 L1265.3,1388.2 L1264,1390 L1262.7,1389.7 L1261.4,1389.6 L1260.8,1388 L1260.1,1390.9 L1258.8,1392.7 L1257.9,1395.3 L1257.5,1392.2 L1256.2,1388.8 L1254.9,1386.8 L1253.6,1388.6 L1252.3,1387.8 L1251,1388.7 L1249.7,1394.2 L1248.4,1396.8 L1247.7,1401.1 L1247.1,1400.4 L1245.8,1396.8 L1244.5,1398 L1243.2,1404.2 L1241.9,1410.4 L1240.6,1408.2 L1239.3,1397.5 L1238.9,1396.7 L1238,1401.9 L1236.7,1411.5 L1235.4,1410 L1234.1,1410.1 L1232.8,1410.8 L1231.5,1410.1 L1230.2,1407.3 L1228.9,1411 L1227.6,1410.4 L1227.2,1409.9 L1226.3,1408.1 L1225,1398.6 L1224.2,1395.3 L1223.7,1394.1 L1222.4,1393.4 L1221.1,1394.5 L1219.8,1401.7 L1218.5,1405.4 L1217.2,1405.1 L1215.9,1408.9 L1215.4,1409.9 L1214.6,1405.6 L1213.3,1401.4 L1212.5,1395.3 L1212,1400.1 L1210.7,1406.1 L1209.4,1407.5 L1208.1,1406.4 L1206.8,1409.4 L1205.5,1406.4 L1204.2,1408.1 L1203.7,1407 L1202.9,1408.3 L1201.6,1405.7 L1200.3,1406.9 L1199,1406.1 L1197.7,1406.6 L1196.4,1407.9 L1195.1,1408.5 L1193.8,1408.4 L1192.5,1408.7 L1191.2,1403.7 L1190.5,1407 L1189.9,1407.9 L1188.6,1406.7 L1187.3,1407.8 L1186,1404.7 L1184.7,1404.4 L1183.4,1404.6 L1182.1,1405 L1180.8,1404.2 L1180.3,1405.5 L1179.5,1405.9 L1178.2,1407.1 L1176.9,1408.8 L1175.6,1407.3 L1174.3,1405.5 L1173,1403.7 L1171.7,1404.3 L1170.4,1401.8 L1169.1,1402.1 L1167.8,1401.7 L1166.5,1402.9 L1165.2,1403.1 L1163.9,1403.3 L1162.6,1404.9 L1161.3,1404.3 L1160,1404.3 L1158.7,1404.9 L1157.4,1400.8 L1156.8,1395.3 L1156.1,1406 L1155.4,1411.4 L1154.8,1408.7 L1153.5,1409.7 L1152.2,1406.2 L1150.9,1407.2 L1149.6,1410.4 L1148.3,1410.6 L1147,1409.9 L1145.7,1412.6 L1144.4,1408.2 L1143.1,1399.1 L1141.8,1394.6 L1140.5,1392.3 L1139.2,1391.6 L1137.9,1400.2 L1136.6,1408.7 L1135.3,1402.7 L1134,1396.4 L1133.4,1393.8 L1132.7,1399.4 L1131.4,1401 L1130.1,1407.6 L1128.8,1403.4 L1127.5,1395.6 L1126.2,1403.6 L1124.9,1408 L1123.6,1404.7 L1122.3,1396.3 L1121.7,1393.8 L1121,1396.4 L1119.7,1406.5 L1118.4,1406.3 L1117.1,1394 L1115.8,1398.2 L1114.5,1396.6 L1113.2,1396 L1111.9,1397.7 L1111.4,1397.5 L1110.6,1397.5 L1109.3,1397.5 L1108,1399.4 L1106.7,1400.2 L1105.4,1399.7 L1104.1,1403.2 L1102.8,1404.3 L1101.5,1404.7 L1100.2,1404 L1098.9,1409 L1098.2,1407 L1097.6,1407.8 L1096.3,1409.7 L1095,1411 L1093.7,1412.4 L1092.4,1405 L1091.1,1405.6 L1089.8,1405.1 L1088.5,1402.7 L1087.2,1408.9 L1086.5,1408.5 L1085.9,1409.2 L1084.6,1407.8 L1083.3,1410.2 L1082,1413 L1080.7,1413 L1079.4,1412.6 L1078.1,1417.1 L1076.8,1413.5 L1075.5,1415.4 L1074.2,1414.6 L1073.3,1412.9 L1072.9,1415.9 L1071.6,1416.6 L1070.3,1415.6 L1069,1416.5 L1067.7,1416.8 L1066.4,1413.3 L1065.1,1413.9 L1064.6,1413.6 L1063.8,1415.2 L1062.5,1414.9 L1061.2,1414.7 L1059.9,1413.6 L1058.6,1411.8 L1058,1411.4Z" fill="#efce7f" stroke="#eab94c" stroke-width="1.5" stroke-linejoin="round"/><path d="M1278.9,1255.8 L1279.6,1256.2 L1280.9,1251.8 L1281.8,1250.8 L1282.2,1249.8 L1283.5,1248.6 L1284.8,1248 L1286.1,1248.3 L1287.4,1251.9 L1288.7,1258 L1289.7,1261 L1289.7,1383.4 L1288.7,1380.5 L1287.4,1376.2 L1286.1,1372.2 L1284.8,1371.4 L1283.5,1372.4 L1282.2,1374.1 L1281.8,1375.2 L1280.9,1375.9 L1279.6,1379.8 L1278.9,1379.5Z" fill="#f47b7f" stroke="#f24b4f" stroke-width="1.5" stroke-linejoin="round"/><line x1="1267.4" y1="1264.2" x2="1267.4" y2="1388.8" stroke="#f24b4f" stroke-width="1.6"/><line x1="1273.5" y1="1263.9" x2="1273.5" y2="1388.5" stroke="#f24b4f" stroke-width="1.6"/><line x1="1276.4" y1="1262.0" x2="1276.4" y2="1385.4" stroke="#f24b4f" stroke-width="1.6"/><line x1="1460.4" y1="1265.8" x2="1460.4" y2="1383.8" stroke="#f24b4f" stroke-width="1.6"/><line x1="1468.4" y1="1261.4" x2="1468.4" y2="1387.4" stroke="#f24b4f" stroke-width="1.6"/><line x1="1469.9" y1="1260.7" x2="1469.9" y2="1391.5" stroke="#f24b4f" stroke-width="1.6"/><line x1="1472.1" y1="1257.5" x2="1472.1" y2="1389.0" stroke="#f24b4f" stroke-width="1.6"/><line x1="1025.7" y1="1489.0" x2="1746.9" y2="1489.0" stroke="#b0b0b0" stroke-opacity="0.7" stroke-width="1.5" stroke-dasharray="5.2 2.1"/><line x1="1025.7" y1="1369.0" x2="1746.9" y2="1369.0" stroke="#b0b0b0" stroke-opacity="0.7" stroke-width="1.5" stroke-dasharray="5.2 2.1"/><line x1="1025.7" y1="1249.0" x2="1746.9" y2="1249.0" stroke="#b0b0b0" stroke-opacity="0.7" stroke-width="1.5" stroke-dasharray="5.2 2.1"/><line x1="1156.0" y1="1189.0" x2="1156.0" y2="1549.0" stroke="#b0b0b0" stroke-opacity="0.7" stroke-width="1.5" stroke-dasharray="5.2 2.1"/><line x1="1297.5" y1="1189.0" x2="1297.5" y2="1549.0" stroke="#b0b0b0" stroke-opacity="0.7" stroke-width="1.5" stroke-dasharray="5.2 2.1"/><line x1="1439.0" y1="1189.0" x2="1439.0" y2="1549.0" stroke="#b0b0b0" stroke-opacity="0.7" stroke-width="1.5" stroke-dasharray="5.2 2.1"/><line x1="1580.5" y1="1189.0" x2="1580.5" y2="1549.0" stroke="#b0b0b0" stroke-opacity="0.7" stroke-width="1.5" stroke-dasharray="5.2 2.1"/><line x1="1722.0" y1="1189.0" x2="1722.0" y2="1549.0" stroke="#b0b0b0" stroke-opacity="0.7" stroke-width="1.5" stroke-dasharray="5.2 2.1"/><path d="M1058,1379.9 L1060.2,1381.4 L1063.1,1381.4 L1065.3,1372.6 L1068.2,1368.9 L1071.1,1366 L1074.1,1368.6 L1077.7,1368.9 L1080.7,1368.2 L1083.6,1360.1 L1086.5,1350.6 L1090.2,1341.1 L1092.4,1339.6 L1093.8,1340.3 L1096.8,1336 L1099.7,1336.7 L1101.9,1342.5 L1104.1,1336.7 L1106.6,1332 L1109.2,1336.7 L1112.9,1341.1 L1116.6,1344.7 L1118.8,1352.8 L1120.2,1357.2 L1122.4,1352.8 L1126.1,1352.8 L1129,1349.9 L1131.9,1344.7 L1134.9,1340.3 L1137.8,1343.3 L1142.2,1343.3 L1145.1,1341.1 L1151,1342.5 L1153.9,1346.9 L1156.8,1352.1 L1159.8,1355.7 L1163.4,1357.2 L1167.1,1363.1 L1170,1357.2 L1173,1354.3 L1175.9,1349.9 L1178.8,1354.3 L1181.7,1356.5 L1184.7,1355.7 L1188.3,1352.8 L1190.5,1355.7 L1192.7,1363.1 L1194.9,1357.2 L1197.9,1347.7 L1200.8,1344.7 L1203.7,1348.4 L1206.6,1343.3 L1209.6,1340.3 L1214,1337.9 L1218.4,1342.5 L1222.8,1343.3 L1227.2,1344.3 L1229.4,1346.2 L1231.5,1337.9 L1235.9,1336 L1240.3,1336 L1241.8,1335.2 L1244.7,1341.8 L1247.7,1339.3 L1250.6,1326.4 L1253.5,1311.8 L1256.5,1301.5 L1258.7,1297.9 L1260.8,1303 L1262.3,1308.8 L1265.2,1314.7 L1267,1314.7 L1268.1,1307.6 L1271,1308 L1273.1,1322.7 L1275.3,1333.5 L1278.9,1330.6 L1283.2,1323.4 L1287.5,1330.6 L1290.4,1343.6 L1291.8,1337.8 L1293.3,1355.1 L1296.2,1366.6 L1299,1368 L1304.8,1368 L1307.7,1376.6 L1310,1362.2 L1310.9,1363.1 L1313.9,1351.3 L1317.5,1355.7 L1319.7,1368.9 L1322.7,1360.1 L1324.9,1363.1 L1327.1,1371.8 L1331.5,1379.2 L1334.4,1382.1 L1337.3,1380.6 L1340.2,1374.8 L1343.2,1363.1 L1346.1,1359.4 L1351.2,1357.2 L1356.4,1363.1 L1360.8,1357.2 L1365.1,1351.3 L1369.5,1346.9 L1375.4,1341.1 L1378.3,1333.8 L1380.5,1331.6 L1382.7,1336.7 L1384.2,1332.3 L1386.4,1348.4 L1388.6,1352.8 L1391.5,1345.5 L1394.4,1342.5 L1397.4,1341.1 L1401,1341.1 L1403.2,1333.8 L1406.2,1329.4 L1410.6,1325 L1415,1322 L1420.8,1316.9 L1424.5,1314 L1428.1,1314.7 L1430.3,1322 L1432.5,1325 L1434.7,1317.6 L1436.9,1313.2 L1439.9,1315.4 L1442.8,1316.2 L1445.7,1316.9 L1447.2,1319.1 L1450.8,1311.8 L1453,1322 L1456,1336.7 L1458.9,1341.1 L1461.8,1337.4 L1466.2,1336.7 L1470.6,1334.5 L1475,1338.1 L1477.9,1327.9 L1480.9,1330.8 L1483.8,1335.2 L1486.7,1342.5 L1488.9,1368.9 L1490.4,1372.6 L1492.6,1354.3 L1495.5,1342.5 L1498.5,1345.5 L1501.4,1351.3 L1505.8,1357.2 L1509,1357.9 L1510.9,1360.1 L1513.9,1366 L1516.8,1374.8 L1519.7,1380.6 L1522.6,1382.8 L1525.6,1381.4 L1530,1384.3 L1534.4,1384.3 L1537.3,1380.6 L1540.2,1376.2 L1543.2,1376.2 L1546.1,1378.4 L1549,1376.2 L1551.9,1373.3 L1554.9,1370.4 L1557.8,1360.9 L1560.7,1362.3 L1563.7,1363.8 L1566.6,1360.1 L1569.5,1356.5 L1573.2,1356.5 L1575.4,1359.4 L1578.3,1366 L1581.2,1369.6 L1584.2,1368.2 L1587.8,1364.5 L1590.8,1359.4 L1594.4,1356.5 L1597.4,1354.3 L1601.8,1354.3 L1604.7,1355.7 L1607.6,1358.7 L1610.5,1360.1 L1613.5,1361.6 L1616.4,1366 L1619.3,1369.6 L1622.3,1370.4 L1625.2,1368.9 L1628.1,1371.8 L1631.1,1374.8 L1634,1377 L1636.9,1379.9 L1639.8,1381.4 L1644.2,1384.3 L1647.2,1386.5 L1650.1,1389.4 L1654.5,1390.9 L1657.4,1391.6 L1660.3,1385 L1663.3,1386.5 L1666.2,1387.2 L1670.6,1386.5 L1673.5,1377.7 L1676.5,1372.6 L1679.4,1371.8 L1682.3,1374 L1685.3,1379.2 L1688.2,1382.1 L1691.1,1388 L1694,1392.3 L1697,1393.8 L1701.4,1394.5 L1704.3,1398.9 L1707.2,1403.3 L1710.2,1405.5 L1713.1,1401.1 L1714.5,1398.9" fill="none" stroke="#000" stroke-width="2.8" stroke-linejoin="round" stroke-linecap="square"/></g><rect x="1025.7" y="1189.0" width="721.2" height="360.0" fill="none" stroke="#000" stroke-width="1.6" stroke-linejoin="miter"/><line x1="1019.5" y1="1489.0" x2="1025.7" y2="1489.0" stroke="#000" stroke-width="1.6"/><text x="1012.9" y="1500.6" font-size="31.3" text-anchor="end">37</text><line x1="1019.5" y1="1369.0" x2="1025.7" y2="1369.0" stroke="#000" stroke-width="1.6"/><text x="1012.9" y="1380.6" font-size="31.3" text-anchor="end">38</text><line x1="1019.5" y1="1249.0" x2="1025.7" y2="1249.0" stroke="#000" stroke-width="1.6"/><text x="1012.9" y="1260.6" font-size="31.3" text-anchor="end">39</text><line x1="1156.0" y1="1549.0" x2="1156.0" y2="1555.2" stroke="#000" stroke-width="1.6"/><text x="1156.0" y="1584.8" font-size="31.3" text-anchor="middle">100</text><line x1="1297.5" y1="1549.0" x2="1297.5" y2="1555.2" stroke="#000" stroke-width="1.6"/><text x="1297.5" y="1584.8" font-size="31.3" text-anchor="middle">200</text><line x1="1439.0" y1="1549.0" x2="1439.0" y2="1555.2" stroke="#000" stroke-width="1.6"/><text x="1439.0" y="1584.8" font-size="31.3" text-anchor="middle">300</text><line x1="1580.5" y1="1549.0" x2="1580.5" y2="1555.2" stroke="#000" stroke-width="1.6"/><text x="1580.5" y="1584.8" font-size="31.3" text-anchor="middle">400</text><line x1="1722.0" y1="1549.0" x2="1722.0" y2="1555.2" stroke="#000" stroke-width="1.6"/><text x="1722.0" y="1584.8" font-size="31.3" text-anchor="middle">500</text><text x="1386.3" y="1621.3" font-size="31.0" text-anchor="middle">Session Time (mins)</text><text x="1386.3" y="1179.2" font-size="34.3" text-anchor="middle">Subject ID: RACER 4, Session 1</text><text transform="translate(960.9,1369.0) rotate(-90)" x="0" y="0" font-size="31.0" text-anchor="middle">CBT (°C)</text></g><g><defs><clipPath id="cp6"><rect x="88.2" y="1765.5" width="721.1" height="360.0"/></clipPath></defs><g clip-path="url(#cp6)"><path d="M123.9,1940.9 L127.8,1938.7 L131.7,1942.3 L131.7,2016.3 L123.9,2016.8Z" fill="#efce7f" stroke="#eab94c" stroke-width="1.5" stroke-linejoin="round"/><path d="M134.6,1948.2 L142.2,1947.5 L149.5,1951.9 L156.8,1946.7 L164.2,1950.4 L171.5,1951.1 L178.1,1953.3 L184.7,1950.4 L190.5,1952.6 L196.4,1951.9 L202.3,1950.4 L206.7,1955.5 L210.3,1946.7 L215.4,1948.2 L221.3,1948.2 L225,1947.5 L228.6,1950.4 L233,1946 L238.9,1945.3 L243.6,1946 L243.6,2018.5 L238.9,2017.8 L233,2018.5 L228.6,2021.5 L225,2019.3 L221.3,2020 L215.4,2020.7 L210.3,2020 L206.7,2025.8 L202.3,2021.5 L196.4,2022.9 L190.5,2024.4 L184.7,2022.9 L178.1,2025.1 L171.5,2021.5 L164.2,2021.5 L156.8,2020 L149.5,2022.9 L142.2,2018.5 L134.6,2019.3Z" fill="#f3fe83" stroke="#edfa52" stroke-width="1.5" stroke-linejoin="round"/><path d="M246.2,1943.8 L250.6,1939.4 L256.5,1935.8 L262.3,1935 L268.2,1935.8 L272.6,1927 L278.4,1926.2 L284.3,1927 L290.2,1924.8 L296,1922.6 L301.9,1918.2 L304.8,1917.4 L307.7,1900.6 L313.6,1896.9 L318,1891.1 L322.4,1886.7 L326.8,1888.1 L330,1885.2 L332.9,1886.7 L336.6,1858.8 L340.3,1858.8 L343.9,1854.5 L347.6,1857.4 L351.2,1846.4 L354.9,1844.2 L358.6,1838.3 L362.5,1837.2 L362.5,1959.9 L358.6,1961.4 L354.9,1968 L351.2,1969.4 L347.6,1980.4 L343.9,1977.5 L340.3,1981.9 L335.9,1979 L330,1971.6 L326.8,1976 L322.4,1975.3 L316.5,1980.4 L310.7,1986.3 L301.9,1987.8 L296,1992.2 L290.2,1995.1 L284.3,2000.9 L279.9,2003.9 L275.5,1998 L269.6,2004.6 L263.8,2005.3 L257.9,2011.9 L252.1,2013.4 L246.2,2015.6Z" fill="#efce7f" stroke="#eab94c" stroke-width="1.5" stroke-linejoin="round"/><path d="M365.5,1827.4 L368.1,1829.6 L372.5,1828.8 L376.9,1831 L381.3,1828.1 L387.1,1824.4 L391.5,1823 L395.9,1816.4 L401.8,1808.3 L406.2,1809 L409.8,1808.3 L416.4,1809 L420.1,1814.9 L423.8,1813.4 L427.4,1814.9 L432.5,1812.7 L438.4,1810.5 L444.3,1810.2 L451.6,1809 L458.9,1810.5 L466.2,1809 L470.6,1806.8 L476.5,1806.1 L483.8,1806.1 L488.2,1808.3 L491.9,1805.4 L495.5,1810.5 L499.9,1807.6 L504.3,1806.1 L508.7,1808.3 L514.6,1816.4 L519,1822.2 L523.4,1828.1 L529.2,1830.3 L535.1,1832.5 L538,1836.9 L542.7,1836.9 L542.7,1959.9 L538,1959.9 L535.1,1955.5 L529.2,1951.9 L523.4,1950.4 L519,1943.8 L514.6,1938 L508.7,1929.9 L504.3,1928.4 L499.9,1930.6 L495.5,1933.6 L491.9,1928.4 L488.2,1930.6 L483.8,1929.2 L476.5,1929.2 L470.6,1929.9 L466.2,1932.1 L458.9,1933.6 L451.6,1932.1 L444.3,1932.8 L438.4,1933.6 L432.5,1935 L427.4,1938 L423.8,1935 L420.1,1938 L416.4,1932.8 L409.8,1932.1 L406.2,1932.1 L401.8,1930.6 L395.9,1938 L391.5,1946 L387.1,1947.5 L381.3,1950.4 L376.9,1953.3 L372.5,1951.1 L369.6,1952.6 L365.5,1950.4Z" fill="#f47b7f" stroke="#f24b4f" stroke-width="1.5" stroke-linejoin="round"/><path d="M545.3,1839.1 L549.7,1845.7 L554.1,1848.6 L558.5,1847.9 L562.9,1850.1 L567.3,1851.5 L572,1853 L574.9,1851.5 L581.5,1860.3 L586.6,1861.8 L592.5,1864 L596.2,1885.2 L601.3,1891.1 L607.2,1898.4 L610.8,1904.3 L614.5,1905.7 L618.1,1918.2 L623.3,1920.4 L629.1,1921.8 L632.1,1924.8 L635.7,1921.1 L639.4,1924 L643.8,1926.2 L649.6,1924 L654,1924.8 L657.7,1926.2 L660.6,1924 L664.3,1926.2 L668,1924 L671.6,1926.2 L677.5,1923.3 L683.3,1926.2 L689.2,1924.8 L695.1,1924.8 L700.9,1925.5 L705.3,1924 L712.6,1924 L718.5,1925.5 L722.2,1925.5 L725.8,1928.4 L731.7,1928.4 L736.8,1927.7 L740.5,1932.8 L747.8,1935.8 L753.6,1935.8 L758,1934.3 L762.4,1935.8 L766.8,1935 L771.2,1934.3 L776.8,1936.5 L776.8,2006.8 L772.7,2005.3 L768.3,2005.3 L762.4,2006.8 L758,2010.5 L753.6,2006.8 L747.8,2005.3 L740.5,2003.1 L731.7,2005.3 L725.8,2005.3 L718.5,1997.3 L714.8,2000.9 L711.2,2000.9 L705.3,2000.9 L700.9,1996.5 L697.2,2000.9 L693.6,1996.5 L689.2,1996.5 L683.3,1997.3 L677.5,1995.1 L673.1,1997.3 L668,2000.9 L664.3,1998 L660.6,2000.9 L657,1998 L654,2000.2 L650.4,1996.5 L646.7,2001.7 L640.8,1996.5 L635.7,1992.9 L632.1,1995.8 L629.1,1992.9 L623.3,1990 L618.1,1987.8 L614.5,1992.2 L610.8,1991.4 L607.2,1984.8 L601.3,1977.5 L596.2,1971.6 L593.2,1987 L588.1,1985.6 L582.3,1983.4 L576.4,1979 L572,1975.3 L567.3,1973.8 L562.9,1972.4 L558.5,1970.9 L554.1,1969.4 L549.7,1965.8 L545.3,1962.1Z" fill="#efce7f" stroke="#eab94c" stroke-width="1.5" stroke-linejoin="round"/><line x1="120.5" y1="1946.4" x2="120.5" y2="2017.4" stroke="#edfa52" stroke-width="1.6"/><line x1="88.2" y1="2065.5" x2="809.3" y2="2065.5" stroke="#b0b0b0" stroke-opacity="0.7" stroke-width="1.5" stroke-dasharray="5.2 2.1"/><line x1="88.2" y1="1945.5" x2="809.3" y2="1945.5" stroke="#b0b0b0" stroke-opacity="0.7" stroke-width="1.5" stroke-dasharray="5.2 2.1"/><line x1="88.2" y1="1825.5" x2="809.3" y2="1825.5" stroke="#b0b0b0" stroke-opacity="0.7" stroke-width="1.5" stroke-dasharray="5.2 2.1"/><line x1="189.0" y1="1765.5" x2="189.0" y2="2125.5" stroke="#b0b0b0" stroke-opacity="0.7" stroke-width="1.5" stroke-dasharray="5.2 2.1"/><line x1="369.2" y1="1765.5" x2="369.2" y2="2125.5" stroke="#b0b0b0" stroke-opacity="0.7" stroke-width="1.5" stroke-dasharray="5.2 2.1"/><line x1="549.4" y1="1765.5" x2="549.4" y2="2125.5" stroke="#b0b0b0" stroke-opacity="0.7" stroke-width="1.5" stroke-dasharray="5.2 2.1"/><line x1="729.6" y1="1765.5" x2="729.6" y2="2125.5" stroke="#b0b0b0" stroke-opacity="0.7" stroke-width="1.5" stroke-dasharray="5.2 2.1"/><path d="M120.2,1948.9 L123.9,1945.3 L127.6,1943.1 L131.2,1947.5 L134.9,1952.6 L138.5,1951.9 L142.2,1956.3 L145.9,1965.8 L148.1,1977.5 L150.3,1989.2 L153.2,1998 L156.8,1990.7 L160.5,1984.8 L164.2,1981.9 L167.8,1982.6 L171.5,1984.1 L174.4,1990.7 L178.1,2000.9 L181.8,2008.3 L185.4,2016.3 L189.1,2020 L192.7,2020 L196.4,2023.7 L200.1,2017.8 L203.7,2013.4 L206.7,2014.9 L211.1,2010.5 L216.9,2009.7 L221.3,2012.7 L225.7,2015.6 L230.1,2016.3 L234.5,2016.3 L238.9,2014.1 L243.3,2011.9 L246.2,2009.7 L250.6,2003.9 L255,1998 L257.9,1995.8 L263.8,1995.1 L269.6,1992.2 L278.4,1987.8 L285.8,1981.2 L293.1,1976.8 L300.4,1969.4 L307.7,1961.4 L315.1,1954.8 L322.4,1947.5 L330,1940.9 L335.9,1937.2 L340.3,1936.2 L344.6,1932.8 L350.5,1927 L356.4,1921.1 L362.2,1915.7 L368.1,1909.4 L373.9,1905 L381.3,1899.9 L388.6,1894.3 L395.9,1891.1 L403.2,1888.9 L410.6,1887.4 L415,1888.1 L419.4,1889.3 L423.8,1888.6 L429.6,1889.3 L435.5,1888.4 L441.3,1887.9 L447.2,1886 L453.1,1884.9 L458.9,1885.2 L464.8,1883.8 L470.6,1882.6 L476.5,1880.8 L482.3,1879.4 L488.2,1879.4 L492.6,1879.7 L498.5,1881.6 L502.9,1880.1 L507.3,1880.8 L511.6,1884.5 L517.5,1891.8 L523.4,1900.6 L527.8,1908.7 L532.2,1914.5 L536.5,1920.4 L540.9,1927.7 L546.8,1932.8 L552.7,1937.2 L558.5,1938.7 L561.5,1940.2 L565.8,1945.3 L572,1948.2 L574.9,1952.6 L578.6,1960.7 L582.3,1962.9 L586.6,1960.7 L592.5,1958.5 L596.9,1958.5 L601.3,1960.7 L607.2,1960.7 L614.5,1960.7 L618.9,1959.2 L624.7,1958.5 L629.1,1959.9 L633.5,1961.4 L639.4,1960.7 L645.2,1959.9 L648.2,1959.9 L652.6,1957.7 L657,1958.2 L661.4,1959.2 L665.8,1960.7 L671.6,1959.9 L677.5,1959.9 L683.3,1959.9 L689.2,1959.9 L693.6,1959.9 L699.4,1962.1 L703.8,1963.6 L709.7,1963.6 L715.6,1965.1 L720,1967.3 L724.3,1970.2 L730.2,1972.4 L737.5,1974.6 L744.9,1975.7 L750.7,1975.3 L756.6,1975.7 L762.4,1976 L768.3,1979 L772.7,1980.4 L777.1,1980.4" fill="none" stroke="#000" stroke-width="2.8" stroke-linejoin="round" stroke-linecap="square"/></g><rect x="88.2" y="1765.5" width="721.1" height="360.0" fill="none" stroke="#000" stroke-width="1.6" stroke-linejoin="miter"/><line x1="82.0" y1="2065.5" x2="88.2" y2="2065.5" stroke="#000" stroke-width="1.6"/><text x="75.4" y="2077.1" font-size="31.3" text-anchor="end">37</text><line x1="82.0" y1="1945.5" x2="88.2" y2="1945.5" stroke="#000" stroke-width="1.6"/><text x="75.4" y="1957.1" font-size="31.3" text-anchor="end">38</text><line x1="82.0" y1="1825.5" x2="88.2" y2="1825.5" stroke="#000" stroke-width="1.6"/><text x="75.4" y="1837.1" font-size="31.3" text-anchor="end">39</text><line x1="189.0" y1="2125.5" x2="189.0" y2="2131.7" stroke="#000" stroke-width="1.6"/><text x="189.0" y="2161.3" font-size="31.3" text-anchor="middle">50</text><line x1="369.2" y1="2125.5" x2="369.2" y2="2131.7" stroke="#000" stroke-width="1.6"/><text x="369.2" y="2161.3" font-size="31.3" text-anchor="middle">100</text><line x1="549.4" y1="2125.5" x2="549.4" y2="2131.7" stroke="#000" stroke-width="1.6"/><text x="549.4" y="2161.3" font-size="31.3" text-anchor="middle">150</text><line x1="729.6" y1="2125.5" x2="729.6" y2="2131.7" stroke="#000" stroke-width="1.6"/><text x="729.6" y="2161.3" font-size="31.3" text-anchor="middle">200</text><text x="448.8" y="2197.8" font-size="31.0" text-anchor="middle">Session Time (mins)</text><text x="448.8" y="1755.7" font-size="34.3" text-anchor="middle">Subject ID: RACER 6, Session 2</text><text transform="translate(23.4,1945.5) rotate(-90)" x="0" y="0" font-size="31.0" text-anchor="middle">CBT (°C)</text></g><g><defs><clipPath id="cp7"><rect x="1025.7" y="1765.5" width="721.2" height="360.0"/></clipPath></defs><g clip-path="url(#cp7)"><path d="M1058.4,2009.9 L1067.5,2008.5 L1076.3,2011.4 L1085.8,2005.5 L1094.6,2007 L1104.1,2001.9 L1112.9,2002.9 L1122.4,1997.9 L1131.2,1998.2 L1140.7,1996 L1149.5,1979.9 L1158.3,1979.2 L1167.1,1977.7 L1176.6,1984.3 L1186.1,1979.9 L1194.9,1983.6 L1204.4,1980.3 L1213.2,1980.6 L1222,1975.9 L1231.8,1975.9 L1231.8,2043.3 L1222,2042.9 L1213.2,2046.8 L1204.4,2046.5 L1194.9,2049.8 L1186.1,2046.3 L1176.6,2050.9 L1167.1,2044.8 L1158.3,2045.8 L1149.5,2046.5 L1140.7,2064.1 L1131.2,2066.3 L1122.4,2065.6 L1112.9,2071.5 L1104.1,2070.7 L1094.6,2081 L1085.8,2079.5 L1076.3,2084.3 L1067.5,2082.9 L1058.4,2083.2Z" fill="#a0d59e" stroke="#6cbf68" stroke-width="1.5" stroke-linejoin="round"/><path d="M1240.3,1970.1 L1249.9,1971.8 L1259.4,1968.2 L1267,1965.2 L1277.3,1957.2 L1286,1952.8 L1294.8,1951.6 L1304.4,1949.9 L1313.9,1945.2 L1313.9,2017.3 L1304.4,2022.4 L1294.8,2023.8 L1286,2024.9 L1277.3,2029 L1267,2030.4 L1259.4,2033.1 L1249.9,2036.3 L1240.3,2035.6Z" fill="#f3fe83" stroke="#edfa52" stroke-width="1.5" stroke-linejoin="round"/><path d="M1322.4,1945.2 L1331.5,1939.3 L1340.2,1938.4 L1349.8,1937 L1359.3,1935.2 L1368.1,1936 L1377.2,1936 L1386.4,1927.9 L1395.6,1933 L1404.7,1926.4 L1413.5,1924.7 L1423,1922.8 L1431.8,1923.2 L1441.3,1924.7 L1450.1,1920.6 L1458.9,1922.3 L1468.4,1919.1 L1477.2,1920.9 L1486.7,1918.4 L1495.5,1920.6 L1504.3,1919.8 L1508,1919.8 L1509,1919.4 L1513.9,1919.1 L1522.6,1916.5 L1532.2,1920.6 L1541,1916.2 L1550.5,1904.5 L1559.3,1904 L1568.1,1903.7 L1577.6,1901.5 L1587.1,1898.9 L1595.9,1897.9 L1604.7,1899.8 L1614.2,1896.4 L1623,1895.7 L1632.5,1891 L1641.3,1890.1 L1650.8,1889.1 L1660.3,1886.9 L1669.1,1885 L1677.9,1885.7 L1686.7,1864.2 L1696.2,1863.1 L1705,1859.5 L1714.8,1860.5 L1714.8,1983.6 L1705,1982.4 L1696.2,1985.8 L1686.7,1986.8 L1677.9,1972.9 L1669.1,1971.8 L1660.3,1974.5 L1650.8,1976.2 L1641.3,1977.4 L1632.5,1977.7 L1623,1983.6 L1614.2,1984.3 L1604.7,1986.8 L1595.9,1985.3 L1587.1,1986.2 L1577.6,1988.7 L1568.1,1991.2 L1559.3,1991.6 L1550.5,1992.1 L1541,1986.5 L1532.2,1990.9 L1522.6,1987.2 L1513.9,1988.7 L1509,1989.1 L1508,1989.4 L1504.3,1989.7 L1495.5,1990.9 L1486.7,1988.7 L1477.2,1990.9 L1468.4,1989.1 L1458.9,1993.5 L1450.1,1990.6 L1441.3,1995.3 L1431.8,1994.1 L1423,1993.8 L1413.5,2001.1 L1404.7,2002.9 L1395.6,2002.3 L1386.4,2004.4 L1377.2,2005.5 L1368.1,2005.5 L1359.3,2005.2 L1349.8,2007 L1340.2,2015.8 L1331.5,2015.8 L1322.4,2015.1Z" fill="#efce7f" stroke="#eab94c" stroke-width="1.5" stroke-linejoin="round"/><line x1="1025.7" y1="2065.5" x2="1746.9" y2="2065.5" stroke="#b0b0b0" stroke-opacity="0.7" stroke-width="1.5" stroke-dasharray="5.2 2.1"/><line x1="1025.7" y1="1945.5" x2="1746.9" y2="1945.5" stroke="#b0b0b0" stroke-opacity="0.7" stroke-width="1.5" stroke-dasharray="5.2 2.1"/><line x1="1025.7" y1="1825.5" x2="1746.9" y2="1825.5" stroke="#b0b0b0" stroke-opacity="0.7" stroke-width="1.5" stroke-dasharray="5.2 2.1"/><line x1="1140.5" y1="1765.5" x2="1140.5" y2="2125.5" stroke="#b0b0b0" stroke-opacity="0.7" stroke-width="1.5" stroke-dasharray="5.2 2.1"/><line x1="1322.5" y1="1765.5" x2="1322.5" y2="2125.5" stroke="#b0b0b0" stroke-opacity="0.7" stroke-width="1.5" stroke-dasharray="5.2 2.1"/><line x1="1504.4" y1="1765.5" x2="1504.4" y2="2125.5" stroke="#b0b0b0" stroke-opacity="0.7" stroke-width="1.5" stroke-dasharray="5.2 2.1"/><line x1="1686.4" y1="1765.5" x2="1686.4" y2="2125.5" stroke="#b0b0b0" stroke-opacity="0.7" stroke-width="1.5" stroke-dasharray="5.2 2.1"/><path d="M1057.5,2041.9 L1176.6,2041.9 L1186.1,2035.6 L1194.9,2035.6 L1204.4,2033.4 L1213.2,2035.6 L1222,2029.7 L1240.3,2029.7 L1249.9,2026.3 L1259.4,2023.1 L1267,2023.1 L1286,2023.1 L1294.8,2017.3 L1322.4,2017.3 L1331.5,2013.6 L1340.2,2015.1 L1349.8,2012.6 L1359.3,2011.1 L1395.6,2011.1 L1404.7,2007.7 L1413.5,2005.2 L1441.3,2005.2 L1450.1,2003.3 L1458.9,2005.5 L1468.4,2003.8 L1477.2,1998.9 L1486.7,1996 L1495.5,1992.6 L1504.3,1992.6 L1509,1990.9 L1513.9,1990.9 L1522.6,1988 L1541,1987.7 L1550.5,1981.4 L1559.3,1982.8 L1568.1,1975.5 L1587.1,1975.5 L1595.9,1968.9 L1604.7,1969.2 L1614.2,1963.1 L1623,1960.9 L1632.5,1957.2 L1641.3,1953.5 L1650.8,1947.2 L1660.3,1945.2 L1669.1,1940.8 L1677.9,1939.6 L1686.7,1933.8 L1696.2,1929.7 L1705,1921.3 L1714.8,1919.8" fill="none" stroke="#000" stroke-width="2.8" stroke-linejoin="round" stroke-linecap="square"/></g><rect x="1025.7" y="1765.5" width="721.2" height="360.0" fill="none" stroke="#000" stroke-width="1.6" stroke-linejoin="miter"/><line x1="1019.5" y1="2065.5" x2="1025.7" y2="2065.5" stroke="#000" stroke-width="1.6"/><text x="1012.9" y="2077.1" font-size="31.3" text-anchor="end">37</text><line x1="1019.5" y1="1945.5" x2="1025.7" y2="1945.5" stroke="#000" stroke-width="1.6"/><text x="1012.9" y="1957.1" font-size="31.3" text-anchor="end">38</text><line x1="1019.5" y1="1825.5" x2="1025.7" y2="1825.5" stroke="#000" stroke-width="1.6"/><text x="1012.9" y="1837.1" font-size="31.3" text-anchor="end">39</text><line x1="1140.5" y1="2125.5" x2="1140.5" y2="2131.7" stroke="#000" stroke-width="1.6"/><text x="1140.5" y="2161.3" font-size="31.3" text-anchor="middle">40</text><line x1="1322.5" y1="2125.5" x2="1322.5" y2="2131.7" stroke="#000" stroke-width="1.6"/><text x="1322.5" y="2161.3" font-size="31.3" text-anchor="middle">60</text><line x1="1504.4" y1="2125.5" x2="1504.4" y2="2131.7" stroke="#000" stroke-width="1.6"/><text x="1504.4" y="2161.3" font-size="31.3" text-anchor="middle">80</text><line x1="1686.4" y1="2125.5" x2="1686.4" y2="2131.7" stroke="#000" stroke-width="1.6"/><text x="1686.4" y="2161.3" font-size="31.3" text-anchor="middle">100</text><text x="1386.3" y="2197.8" font-size="31.0" text-anchor="middle">Session Time (mins)</text><text x="1386.3" y="1755.7" font-size="34.3" text-anchor="middle">Subject ID: P1, Session 1</text><text transform="translate(960.9,1945.5) rotate(-90)" x="0" y="0" font-size="31.0" text-anchor="middle">CBT (°C)</text></g><g><rect x="188.2" y="2256.6" width="1348.2" height="98.6" rx="5.5" ry="5.5" fill="#fff" fill-opacity="0.8" stroke="#cccccc" stroke-width="1.6"/><rect x="199.8" y="2270.6" width="62.2" height="21.8" fill="#a0d59e" stroke="#6cbf68" stroke-width="1.8"/><text x="285.3" y="2292.6" font-size="30.7">Nominal (36.5°C -37.75°C)</text><rect x="199.8" y="2315.7" width="62.2" height="21.8" fill="#f3fe83" stroke="#edfa52" stroke-width="1.8"/><text x="285.3" y="2337.7" font-size="30.7">Advisory (37.75°C - 38°C)</text><rect x="758.9" y="2270.6" width="62.2" height="21.8" fill="#efce7f" stroke="#eab94c" stroke-width="1.8"/><text x="843.6" y="2292.6" font-size="30.7">Caution (38°C - 38.9°C)</text><rect x="758.9" y="2315.7" width="62.2" height="21.8" fill="#f47b7f" stroke="#f24b4f" stroke-width="1.8"/><text x="843.6" y="2337.7" font-size="30.7">Warning (Tc &gt; 38.9°C)</text><line x1="1269.1" y1="2281.2" x2="1333.5" y2="2281.2" stroke="#000" stroke-width="2.8"/><text x="1357.2" y="2292.4" font-size="30.7">Actual CBT</text></g></svg></body></html>
